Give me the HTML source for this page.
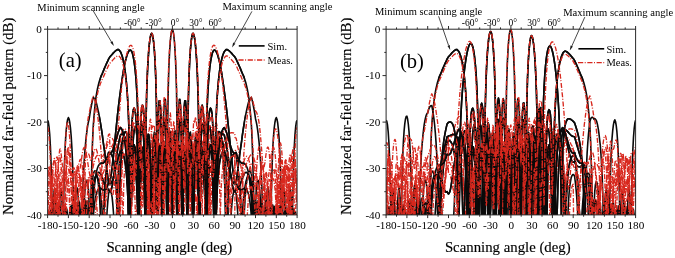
<!DOCTYPE html>
<html><head><meta charset="utf-8"><style>
html,body{margin:0;padding:0;background:#fff;}
body{width:675px;height:258px;overflow:hidden;}
svg{display:block;font-family:"Liberation Serif", serif;will-change:transform;}
</style></head><body>
<svg width="675" height="258" viewBox="0 0 675 258">
<clipPath id="clipa"><rect x="47.6" y="28.2" width="249.5" height="186.7"/></clipPath>
<g clip-path="url(#clipa)" fill="none" stroke-linejoin="round">
<clipPath id="clipaf"><rect x="99.6" y="28.2" width="145.5" height="186.7"/></clipPath>
<path d="M47.6 120.2L48.3 121.9L49.0 126.5L49.7 134.3L50.4 146.2L51.1 164.3L51.8 194.8L52.5 221.9L53.1 212.1L53.8 192.8L54.5 188.7L55.2 193.8L55.9 208.8L56.6 221.9L57.3 221.9L58.0 221.9L58.7 208.2L59.4 203.0L60.1 205.4L60.8 216.2L61.5 221.9L62.2 221.9L62.8 221.9L63.5 217.3L64.2 207.4L64.9 205.2L65.6 209.4L66.3 221.6L67.0 221.9L67.7 221.9L68.4 221.9L69.1 218.9L69.8 209.2L70.5 206.4L71.2 209.3L71.9 218.3L72.6 221.9L73.2 221.9L73.9 221.9L74.6 221.9L75.3 219.6L76.0 211.8L76.7 209.2L77.4 210.9L78.1 217.0L78.8 221.9L79.5 221.9L80.2 221.9L80.9 221.9L81.6 221.9L82.3 221.9L82.9 214.3L83.6 209.0L84.3 206.3L85.0 206.3L85.7 208.9L86.4 214.6L87.1 221.9L87.8 221.9L88.5 221.9L89.2 221.9L89.9 221.9L90.6 221.9L91.3 208.0L92.0 197.5L92.6 189.6L93.3 183.5L94.0 180.0L94.7 177.7L95.4 176.5L96.1 176.2L96.8 176.5L97.5 177.6L98.2 179.5L98.9 182.3L99.6 186.0L100.3 190.8L101.0 196.8L101.7 204.6L102.4 214.8L103.0 221.9L103.7 221.9L104.4 221.9L105.1 221.9L105.8 221.9L106.5 221.9L107.2 209.6L107.9 200.4L108.6 193.4L109.3 191.5L110.0 190.9L110.7 191.5L111.4 193.5L112.1 197.1L112.7 202.9L113.4 211.8L114.1 221.9L114.8 221.9L115.5 221.9L116.2 221.9L116.9 206.1L117.6 189.0L118.3 176.1L119.0 166.1L119.7 157.7L120.4 150.7L121.1 146.0L121.8 142.4L122.5 139.6L123.1 137.6L123.8 136.5L124.5 136.3L125.2 137.1L125.9 138.9L126.6 142.1L127.3 146.8L128.0 153.7L128.7 163.8L129.4 179.5L130.1 208.6L130.8 221.9L131.5 201.5L132.2 176.4L132.8 162.6L133.5 154.1L134.2 149.2L134.9 147.2L135.6 147.9L136.3 151.7L137.0 159.4L137.7 173.3L138.4 201.3L139.1 221.9L139.8 193.2L140.5 168.6L141.2 155.8L141.9 149.1L142.5 147.0L143.2 149.2L143.9 156.6L144.6 172.5L145.3 210.4L146.0 221.4L146.7 173.1L147.4 153.8L148.1 144.2L148.8 140.7L149.5 142.7L150.2 151.4L150.9 172.1L151.6 221.9L152.3 180.6L152.9 151.0L153.6 137.5L154.3 132.0L155.0 133.1L155.7 141.8L156.4 164.4L157.1 221.9L157.8 161.8L158.5 135.3L159.2 123.1L159.9 119.2L160.6 122.7L161.3 136.6L162.0 180.3L162.6 165.6L163.3 124.6L164.0 107.0L164.7 99.3L165.4 99.3L166.1 109.5L166.8 145.9L167.5 138.7L168.2 90.2L168.9 66.6L169.6 51.6L170.3 41.4L171.0 34.7L171.7 30.8L172.4 29.5L173.0 30.8L173.7 34.7L174.4 41.4L175.1 51.6L175.8 66.6L176.5 90.2L177.2 138.7L177.9 145.9L178.6 109.5L179.3 99.3L180.0 99.3L180.7 107.0L181.4 124.6L182.1 165.6L182.7 180.3L183.4 136.6L184.1 122.7L184.8 119.2L185.5 123.1L186.2 135.3L186.9 161.8L187.6 221.9L188.3 164.4L189.0 141.8L189.7 133.1L190.4 132.0L191.1 137.5L191.8 151.0L192.4 180.6L193.1 221.9L193.8 172.1L194.5 151.4L195.2 142.7L195.9 140.7L196.6 144.2L197.3 153.8L198.0 173.1L198.7 221.4L199.4 210.4L200.1 172.5L200.8 156.6L201.5 149.2L202.2 147.0L202.8 149.1L203.5 155.8L204.2 168.6L204.9 193.2L205.6 221.9L206.3 201.3L207.0 173.3L207.7 159.4L208.4 151.7L209.1 147.9L209.8 147.2L210.5 149.2L211.2 154.1L211.9 162.6L212.5 176.4L213.2 201.5L213.9 221.9L214.6 208.6L215.3 179.5L216.0 163.8L216.7 153.7L217.4 146.8L218.1 142.1L218.8 138.9L219.5 137.1L220.2 136.3L220.9 136.5L221.6 137.6L222.2 139.6L222.9 142.4L223.6 146.0L224.3 150.7L225.0 157.7L225.7 166.1L226.4 176.1L227.1 189.0L227.8 206.1L228.5 221.9L229.2 221.9L229.9 221.9L230.6 221.9L231.3 211.8L232.0 202.9L232.6 197.1L233.3 193.5L234.0 191.5L234.7 190.9L235.4 191.5L236.1 193.4L236.8 200.4L237.5 209.6L238.2 221.9L238.9 221.9L239.6 221.9L240.3 221.9L241.0 221.9L241.7 221.9L242.3 214.8L243.0 204.6L243.7 196.8L244.4 190.8L245.1 186.0L245.8 182.3L246.5 179.5L247.2 177.6L247.9 176.5L248.6 176.2L249.3 176.5L250.0 177.7L250.7 180.0L251.4 183.5L252.1 189.6L252.7 197.5L253.4 208.0L254.1 221.9L254.8 221.9L255.5 221.9L256.2 221.9L256.9 221.9L257.6 221.9L258.3 214.6L259.0 208.9L259.7 206.3L260.4 206.3L261.1 209.0L261.8 214.3L262.4 221.9L263.1 221.9L263.8 221.9L264.5 221.9L265.2 221.9L265.9 221.9L266.6 217.0L267.3 210.9L268.0 209.2L268.7 211.8L269.4 219.6L270.1 221.9L270.8 221.9L271.5 221.9L272.2 221.9L272.8 218.3L273.5 209.3L274.2 206.4L274.9 209.2L275.6 218.9L276.3 221.9L277.0 221.9L277.7 221.9L278.4 221.6L279.1 209.4L279.8 205.2L280.5 207.4L281.2 217.3L281.9 221.9L282.5 221.9L283.2 221.9L283.9 216.2L284.6 205.4L285.3 203.0L286.0 208.2L286.7 221.9L287.4 221.9L288.1 221.9L288.8 208.8L289.5 193.8L290.2 188.7L290.9 192.8L291.6 212.1L292.2 221.9L292.9 194.8L293.6 164.3L294.3 146.2L295.0 134.3L295.7 126.5L296.4 121.9L297.1 120.2" stroke="#0a0a0a" stroke-width="1.6"/>
<path d="M47.6 221.9L48.3 221.9L49.0 212.8L49.7 212.1L50.4 219.6L51.1 221.9L51.8 221.9L52.5 221.9L53.1 221.9L53.8 216.8L54.5 214.1L55.2 219.0L55.9 221.9L56.6 221.9L57.3 221.9L58.0 221.9L58.7 221.9L59.4 215.1L60.1 215.4L60.8 221.9L61.5 221.9L62.2 221.9L62.8 221.9L63.5 221.9L64.2 218.1L64.9 212.4L65.6 213.0L66.3 220.0L67.0 221.9L67.7 221.9L68.4 221.9L69.1 221.9L69.8 220.0L70.5 212.5L71.2 210.9L71.9 214.5L72.6 221.9L73.2 221.9L73.9 221.9L74.6 221.9L75.3 221.9L76.0 221.9L76.7 214.9L77.4 211.8L78.1 212.8L78.8 217.7L79.5 221.9L80.2 221.9L80.9 221.9L81.6 221.9L82.3 221.9L82.9 221.9L83.6 218.4L84.3 210.9L85.0 206.7L85.7 205.0L86.4 205.8L87.1 209.0L87.8 215.3L88.5 221.9L89.2 221.9L89.9 221.9L90.6 221.9L91.3 221.9L92.0 217.6L92.6 203.4L93.3 193.1L94.0 186.6L94.7 181.9L95.4 178.4L96.1 176.1L96.8 174.2L97.5 173.0L98.2 172.4L98.9 172.3L99.6 172.8L100.3 173.6L101.0 174.9L101.7 176.5L102.4 178.3L103.0 180.5L103.7 182.1L104.4 183.9L105.1 185.6L105.8 187.3L106.5 188.7L107.2 189.6L107.9 189.9L108.6 189.2L109.3 191.0L110.0 191.6L110.7 191.0L111.4 189.2L112.1 186.3L112.7 182.6L113.4 178.2L114.1 173.5L114.8 168.6L115.5 163.6L116.2 158.7L116.9 153.9L117.6 149.5L118.3 145.3L119.0 141.5L119.7 138.2L120.4 135.2L121.1 134.4L121.8 133.9L122.5 134.0L123.1 134.7L123.8 136.0L124.5 138.2L125.2 141.3L125.9 145.7L126.6 151.8L127.3 160.1L128.0 172.0L128.7 190.9L129.4 221.9L130.1 221.9L130.8 196.3L131.5 176.0L132.2 164.0L132.8 156.5L133.5 152.0L134.2 150.1L134.9 150.6L135.6 153.8L136.3 160.1L137.0 171.1L137.7 190.8L138.4 221.9L139.1 221.9L139.8 186.2L140.5 169.0L141.2 159.7L141.9 155.3L142.5 155.0L143.2 159.0L143.9 168.3L144.6 187.0L145.3 221.9L146.0 219.0L146.7 180.7L147.4 164.1L148.1 156.1L148.8 153.8L149.5 157.0L150.2 166.8L150.9 189.0L151.6 221.9L152.3 196.9L152.9 168.9L153.6 156.4L154.3 151.8L155.0 153.6L155.7 162.8L156.4 184.9L157.1 221.9L157.8 191.4L158.5 164.1L159.2 152.4L159.9 149.1L160.6 153.0L161.3 166.2L162.0 201.1L162.6 221.9L163.3 170.5L164.0 152.5L164.7 145.5L165.4 146.5L166.1 156.1L166.8 181.8L167.5 221.9L168.2 172.3L168.9 149.6L169.6 140.4L170.3 139.6L171.0 147.3L171.7 169.3L172.4 221.9L173.0 169.7L173.7 143.8L174.4 133.1L175.1 131.0L175.8 137.2L176.5 156.1L177.2 221.9L177.9 166.4L178.6 136.2L179.3 123.3L180.0 119.3L180.7 123.2L181.4 138.0L182.1 185.4L182.7 163.5L183.4 124.9L184.1 108.2L184.8 100.8L185.5 100.7L186.2 109.6L186.9 138.0L187.6 164.8L188.3 102.3L189.0 76.5L189.7 60.5L190.4 49.5L191.1 41.9L191.8 36.9L192.4 34.1L193.1 33.3L193.8 34.6L194.5 37.7L195.2 42.7L195.9 49.9L196.6 59.8L197.3 73.1L198.0 92.1L198.7 123.0L199.4 221.9L200.1 137.2L200.8 115.3L201.5 107.0L202.2 105.2L202.8 108.0L203.5 115.1L204.2 127.4L204.9 148.5L205.6 196.8L206.3 191.4L207.0 153.0L207.7 137.5L208.4 129.7L209.1 126.6L209.8 126.7L210.5 129.9L211.2 136.1L211.9 146.2L212.5 162.4L213.2 192.5L213.9 221.9L214.6 186.5L215.3 162.4L216.0 149.3L216.7 141.1L217.4 136.0L218.1 133.0L218.8 131.6L219.5 131.7L220.2 133.0L220.9 135.6L221.6 139.4L222.2 144.6L222.9 151.5L223.6 160.6L224.3 173.2L225.0 190.7L225.7 219.6L226.4 221.9L227.1 221.9L227.8 198.1L228.5 183.9L229.2 174.7L229.9 168.2L230.6 163.5L231.3 160.0L232.0 157.5L232.6 155.7L233.3 154.4L234.0 153.7L234.7 153.5L235.4 153.7L236.1 154.3L236.8 159.0L237.5 164.3L238.2 170.4L238.9 177.6L239.6 186.3L240.3 197.2L241.0 211.8L241.7 221.9L242.3 221.9L243.0 221.9L243.7 221.9L244.4 210.4L245.1 198.1L245.8 189.3L246.5 182.7L247.2 177.8L247.9 174.3L248.6 172.0L249.3 171.0L250.0 170.9L250.7 172.0L251.4 174.2L252.1 179.4L252.7 186.0L253.4 194.3L254.1 205.3L254.8 220.6L255.5 221.9L256.2 221.9L256.9 221.9L257.6 221.9L258.3 214.2L259.0 205.3L259.7 200.4L260.4 198.7L261.1 199.8L261.8 203.4L262.4 211.5L263.1 221.9L263.8 221.9L264.5 221.9L265.2 221.9L265.9 208.3L266.6 195.7L267.3 189.0L268.0 187.2L268.7 190.7L269.4 202.8L270.1 221.9L270.8 221.9L271.5 187.9L272.2 163.7L272.8 147.8L273.5 136.4L274.2 128.2L274.9 122.5L275.6 119.0L276.3 117.5L277.0 119.2L277.7 123.0L278.4 129.3L279.1 138.6L279.8 152.1L280.5 172.3L281.2 208.4L281.9 221.9L282.5 206.8L283.2 191.6L283.9 188.9L284.6 194.4L285.3 209.4L286.0 221.9L286.7 221.9L287.4 221.9L288.1 209.5L288.8 204.0L289.5 206.7L290.2 218.2L290.9 221.9L291.6 221.9L292.2 221.9L292.9 216.7L293.6 209.1L294.3 209.8L295.0 218.9L295.7 221.9L296.4 221.9L297.1 221.9" stroke="#0a0a0a" stroke-width="1.6"/>
<path d="M47.6 221.9L48.3 221.9L49.0 221.9L49.7 218.9L50.4 209.8L51.1 209.1L51.8 216.7L52.5 221.9L53.1 221.9L53.8 221.9L54.5 218.2L55.2 206.7L55.9 204.0L56.6 209.5L57.3 221.9L58.0 221.9L58.7 221.9L59.4 209.4L60.1 194.4L60.8 188.9L61.5 191.6L62.2 206.8L62.8 221.9L63.5 208.4L64.2 172.3L64.9 152.1L65.6 138.6L66.3 129.3L67.0 123.0L67.7 119.2L68.4 117.5L69.1 119.0L69.8 122.5L70.5 128.2L71.2 136.4L71.9 147.8L72.6 163.7L73.2 187.9L73.9 221.9L74.6 221.9L75.3 202.8L76.0 190.7L76.7 187.2L77.4 189.0L78.1 195.7L78.8 208.3L79.5 221.9L80.2 221.9L80.9 221.9L81.6 221.9L82.3 211.5L82.9 203.4L83.6 199.8L84.3 198.7L85.0 200.4L85.7 205.3L86.4 214.2L87.1 221.9L87.8 221.9L88.5 221.9L89.2 221.9L89.9 220.6L90.6 205.3L91.3 194.3L92.0 186.0L92.6 179.4L93.3 174.2L94.0 172.0L94.7 170.9L95.4 171.0L96.1 172.0L96.8 174.3L97.5 177.8L98.2 182.7L98.9 189.3L99.6 198.1L100.3 210.4L101.0 221.9L101.7 221.9L102.4 221.9L103.0 221.9L103.7 211.8L104.4 197.2L105.1 186.3L105.8 177.6L106.5 170.4L107.2 164.3L107.9 159.0L108.6 154.3L109.3 153.7L110.0 153.5L110.7 153.7L111.4 154.4L112.1 155.7L112.7 157.5L113.4 160.0L114.1 163.5L114.8 168.2L115.5 174.7L116.2 183.9L116.9 198.1L117.6 221.9L118.3 221.9L119.0 219.6L119.7 190.7L120.4 173.2L121.1 160.6L121.8 151.5L122.5 144.6L123.1 139.4L123.8 135.6L124.5 133.0L125.2 131.7L125.9 131.6L126.6 133.0L127.3 136.0L128.0 141.1L128.7 149.3L129.4 162.4L130.1 186.5L130.8 221.9L131.5 192.5L132.2 162.4L132.8 146.2L133.5 136.1L134.2 129.9L134.9 126.7L135.6 126.6L136.3 129.7L137.0 137.5L137.7 153.0L138.4 191.4L139.1 196.8L139.8 148.5L140.5 127.4L141.2 115.1L141.9 108.0L142.5 105.2L143.2 107.0L143.9 115.3L144.6 137.2L145.3 221.9L146.0 123.0L146.7 92.1L147.4 73.1L148.1 59.8L148.8 49.9L149.5 42.7L150.2 37.7L150.9 34.6L151.6 33.3L152.3 34.1L152.9 36.9L153.6 41.9L154.3 49.5L155.0 60.5L155.7 76.5L156.4 102.3L157.1 164.8L157.8 138.0L158.5 109.6L159.2 100.7L159.9 100.8L160.6 108.2L161.3 124.9L162.0 163.5L162.6 185.4L163.3 138.0L164.0 123.2L164.7 119.3L165.4 123.3L166.1 136.2L166.8 166.4L167.5 221.9L168.2 156.1L168.9 137.2L169.6 131.0L170.3 133.1L171.0 143.8L171.7 169.7L172.4 221.9L173.0 169.3L173.7 147.3L174.4 139.6L175.1 140.4L175.8 149.6L176.5 172.3L177.2 221.9L177.9 181.8L178.6 156.1L179.3 146.5L180.0 145.5L180.7 152.5L181.4 170.5L182.1 221.9L182.7 201.1L183.4 166.2L184.1 153.0L184.8 149.1L185.5 152.4L186.2 164.1L186.9 191.4L187.6 221.9L188.3 184.9L189.0 162.8L189.7 153.6L190.4 151.8L191.1 156.4L191.8 168.9L192.4 196.9L193.1 221.9L193.8 189.0L194.5 166.8L195.2 157.0L195.9 153.8L196.6 156.1L197.3 164.1L198.0 180.7L198.7 219.0L199.4 221.9L200.1 187.0L200.8 168.3L201.5 159.0L202.2 155.0L202.8 155.3L203.5 159.7L204.2 169.0L204.9 186.2L205.6 221.9L206.3 221.9L207.0 190.8L207.7 171.1L208.4 160.1L209.1 153.8L209.8 150.6L210.5 150.1L211.2 152.0L211.9 156.5L212.5 164.0L213.2 176.0L213.9 196.3L214.6 221.9L215.3 221.9L216.0 190.9L216.7 172.0L217.4 160.1L218.1 151.8L218.8 145.7L219.5 141.3L220.2 138.2L220.9 136.0L221.6 134.7L222.2 134.0L222.9 133.9L223.6 134.4L224.3 135.2L225.0 138.2L225.7 141.5L226.4 145.3L227.1 149.5L227.8 153.9L228.5 158.7L229.2 163.6L229.9 168.6L230.6 173.5L231.3 178.2L232.0 182.6L232.6 186.3L233.3 189.2L234.0 191.0L234.7 191.6L235.4 191.0L236.1 189.2L236.8 189.9L237.5 189.6L238.2 188.7L238.9 187.3L239.6 185.6L240.3 183.9L241.0 182.1L241.7 180.5L242.3 178.3L243.0 176.5L243.7 174.9L244.4 173.6L245.1 172.8L245.8 172.3L246.5 172.4L247.2 173.0L247.9 174.2L248.6 176.1L249.3 178.4L250.0 181.9L250.7 186.6L251.4 193.1L252.1 203.4L252.7 217.6L253.4 221.9L254.1 221.9L254.8 221.9L255.5 221.9L256.2 221.9L256.9 215.3L257.6 209.0L258.3 205.8L259.0 205.0L259.7 206.7L260.4 210.9L261.1 218.4L261.8 221.9L262.4 221.9L263.1 221.9L263.8 221.9L264.5 221.9L265.2 221.9L265.9 217.7L266.6 212.8L267.3 211.8L268.0 214.9L268.7 221.9L269.4 221.9L270.1 221.9L270.8 221.9L271.5 221.9L272.2 221.9L272.8 214.5L273.5 210.9L274.2 212.5L274.9 220.0L275.6 221.9L276.3 221.9L277.0 221.9L277.7 221.9L278.4 220.0L279.1 213.0L279.8 212.4L280.5 218.1L281.2 221.9L281.9 221.9L282.5 221.9L283.2 221.9L283.9 221.9L284.6 215.4L285.3 215.1L286.0 221.9L286.7 221.9L287.4 221.9L288.1 221.9L288.8 221.9L289.5 219.0L290.2 214.1L290.9 216.8L291.6 221.9L292.2 221.9L292.9 221.9L293.6 221.9L294.3 219.6L295.0 212.1L295.7 212.8L296.4 221.9L297.1 221.9" stroke="#0a0a0a" stroke-width="1.6"/>
<path d="M47.6 221.9L48.3 221.9L49.0 221.9L49.7 221.9L50.4 221.9L51.1 221.9L51.8 221.9L52.5 221.9L53.1 221.9L53.8 221.9L54.5 221.9L55.2 221.9L55.9 221.9L56.6 221.9L57.3 221.9L58.0 221.9L58.7 221.9L59.4 221.9L60.1 221.9L60.8 221.9L61.5 221.9L62.2 221.9L62.8 221.9L63.5 221.9L64.2 221.9L64.9 221.9L65.6 221.9L66.3 221.9L67.0 221.9L67.7 221.9L68.4 221.9L69.1 221.9L69.8 221.9L70.5 221.9L71.2 221.9L71.9 221.9L72.6 221.9L73.2 221.9L73.9 221.9L74.6 221.9L75.3 221.9L76.0 221.9L76.7 221.9L77.4 221.9L78.1 221.9L78.8 221.9L79.5 221.9L80.2 221.9L80.9 221.9L81.6 221.9L82.3 221.9L82.9 221.9L83.6 221.9L84.3 221.9L85.0 221.9L85.7 221.9L86.4 221.9L87.1 221.9L87.8 221.9L88.5 221.9L89.2 221.9L89.9 221.9L90.6 221.9L91.3 221.9L92.0 221.9L92.6 221.9L93.3 216.9L94.0 208.6L94.7 202.5L95.4 198.0L96.1 194.7L96.8 192.3L97.5 190.5L98.2 189.3L98.9 188.6L99.6 188.2L100.3 188.2L101.0 188.4L101.7 188.9L102.4 189.4L103.0 190.0L103.7 190.0L104.4 189.8L105.1 189.5L105.8 188.9L106.5 187.9L107.2 186.6L107.9 184.8L108.6 182.4L109.3 183.3L110.0 183.8L110.7 183.6L111.4 182.8L112.1 181.5L112.7 179.7L113.4 177.5L114.1 174.9L114.8 172.1L115.5 169.2L116.2 166.2L116.9 163.1L117.6 160.2L118.3 157.4L119.0 155.0L119.7 152.9L120.4 151.1L121.1 151.3L121.8 151.7L122.5 152.7L123.1 154.1L123.8 156.3L124.5 159.2L125.2 163.2L125.9 168.6L126.6 175.9L127.3 186.0L128.0 201.2L128.7 221.9L129.4 221.9L130.1 221.9L130.8 202.2L131.5 187.0L132.2 177.5L132.8 171.3L133.5 167.8L134.2 166.7L134.9 167.8L135.6 171.5L136.3 178.6L137.0 190.6L137.7 212.3L138.4 221.9L139.1 221.9L139.8 200.2L140.5 184.4L141.2 175.8L141.9 171.9L142.5 172.0L143.2 176.2L143.9 185.7L144.6 204.6L145.3 221.9L146.0 221.9L146.7 198.2L147.4 181.9L148.1 174.1L148.8 172.1L149.5 175.4L150.2 185.5L150.9 207.6L151.6 221.9L152.3 217.1L152.9 188.9L153.6 176.5L154.3 172.1L155.0 174.0L155.7 183.2L156.4 204.9L157.1 221.9L157.8 215.0L158.5 187.0L159.2 175.2L159.9 171.9L160.6 175.7L161.3 188.6L162.0 221.2L162.6 221.9L163.3 197.3L164.0 178.7L164.7 171.5L165.4 172.3L166.1 181.5L166.8 205.2L167.5 221.9L168.2 204.6L168.9 180.3L169.6 170.6L170.3 169.5L171.0 176.7L171.7 196.6L172.4 221.9L173.0 209.1L173.7 180.3L174.4 168.8L175.1 166.3L175.8 171.9L176.5 188.8L177.2 221.9L177.9 216.0L178.6 180.7L179.3 166.8L180.0 162.5L180.7 165.9L181.4 178.9L182.1 213.2L182.7 221.9L183.4 183.7L184.1 165.5L184.8 158.1L185.5 158.3L186.2 166.2L186.9 186.6L187.6 221.9L188.3 197.0L189.0 167.6L189.7 154.8L190.4 150.0L191.1 151.9L191.8 161.2L192.4 184.0L193.1 221.9L193.8 185.3L194.5 158.4L195.2 145.7L195.9 140.4L196.6 140.8L197.3 147.2L198.0 162.8L198.7 204.1L199.4 202.0L200.1 157.9L200.8 139.1L201.5 128.9L202.2 124.2L202.8 124.2L203.5 129.3L204.2 142.6L204.9 177.6L205.6 187.0L206.3 134.3L207.0 110.3L207.7 94.6L208.4 83.1L209.1 74.3L209.8 67.5L210.5 62.2L211.2 58.0L211.9 54.9L212.5 52.6L213.2 51.1L213.9 50.3L214.6 50.1L215.3 50.4L216.0 51.3L216.7 52.6L217.4 54.3L218.1 56.5L218.8 59.0L219.5 61.9L220.2 65.2L220.9 68.7L221.6 72.6L222.2 76.8L222.9 81.4L223.6 86.2L224.3 91.4L225.0 96.7L225.7 102.1L226.4 107.8L227.1 114.2L227.8 120.8L228.5 127.6L229.2 134.5L229.9 141.5L230.6 148.5L231.3 155.3L232.0 161.9L232.6 168.0L233.3 173.4L234.0 177.7L234.7 180.6L235.4 182.9L236.1 183.5L236.8 177.8L237.5 172.0L238.2 166.3L238.9 160.7L239.6 155.3L240.3 150.2L241.0 145.3L241.7 140.6L242.3 135.6L243.0 130.9L243.7 126.5L244.4 122.2L245.1 118.2L245.8 114.4L246.5 110.9L247.2 107.7L247.9 104.7L248.6 102.0L249.3 100.4L250.0 99.1L250.7 98.1L251.4 97.4L252.1 99.9L252.7 102.7L253.4 106.0L254.1 109.7L254.8 113.9L255.5 118.7L256.2 121.6L256.9 125.2L257.6 129.7L258.3 135.1L259.0 141.7L259.7 149.7L260.4 159.5L261.1 171.7L261.8 185.6L262.4 205.5L263.1 221.9L263.8 221.9L264.5 221.9L265.2 216.8L265.9 209.5L266.6 208.0L267.3 211.4L268.0 220.4L268.7 221.9L269.4 221.9L270.1 221.9L270.8 221.9L271.5 221.9L272.2 219.0L272.8 217.7L273.5 221.9L274.2 221.9L274.9 221.9L275.6 221.9L276.3 221.9L277.0 221.9L277.7 221.9L278.4 221.9L279.1 221.9L279.8 221.9L280.5 221.9L281.2 221.9L281.9 221.9L282.5 221.9L283.2 221.9L283.9 221.9L284.6 221.9L285.3 221.9L286.0 221.9L286.7 221.9L287.4 221.9L288.1 221.9L288.8 221.9L289.5 221.9L290.2 221.9L290.9 221.9L291.6 221.9L292.2 221.9L292.9 221.9L293.6 221.9L294.3 221.9L295.0 221.9L295.7 221.9L296.4 221.9L297.1 221.9" stroke="#0a0a0a" stroke-width="1.6"/>
<path d="M47.6 221.9L48.3 221.9L49.0 221.9L49.7 221.9L50.4 221.9L51.1 221.9L51.8 221.9L52.5 221.9L53.1 221.9L53.8 221.9L54.5 221.9L55.2 221.9L55.9 221.9L56.6 221.9L57.3 221.9L58.0 221.9L58.7 221.9L59.4 221.9L60.1 221.9L60.8 221.9L61.5 221.9L62.2 221.9L62.8 221.9L63.5 221.9L64.2 221.9L64.9 221.9L65.6 221.9L66.3 221.9L67.0 221.9L67.7 221.9L68.4 221.9L69.1 221.9L69.8 221.9L70.5 221.9L71.2 221.9L71.9 217.7L72.6 219.0L73.2 221.9L73.9 221.9L74.6 221.9L75.3 221.9L76.0 221.9L76.7 220.4L77.4 211.4L78.1 208.0L78.8 209.5L79.5 216.8L80.2 221.9L80.9 221.9L81.6 221.9L82.3 205.5L82.9 185.6L83.6 171.7L84.3 159.5L85.0 149.7L85.7 141.7L86.4 135.1L87.1 129.7L87.8 125.2L88.5 121.6L89.2 118.7L89.9 113.9L90.6 109.7L91.3 106.0L92.0 102.7L92.6 99.9L93.3 97.4L94.0 98.1L94.7 99.1L95.4 100.4L96.1 102.0L96.8 104.7L97.5 107.7L98.2 110.9L98.9 114.4L99.6 118.2L100.3 122.2L101.0 126.5L101.7 130.9L102.4 135.6L103.0 140.6L103.7 145.3L104.4 150.2L105.1 155.3L105.8 160.7L106.5 166.3L107.2 172.0L107.9 177.8L108.6 183.5L109.3 182.9L110.0 180.6L110.7 177.7L111.4 173.4L112.1 168.0L112.7 161.9L113.4 155.3L114.1 148.5L114.8 141.5L115.5 134.5L116.2 127.6L116.9 120.8L117.6 114.2L118.3 107.8L119.0 102.1L119.7 96.7L120.4 91.4L121.1 86.2L121.8 81.4L122.5 76.8L123.1 72.6L123.8 68.7L124.5 65.2L125.2 61.9L125.9 59.0L126.6 56.5L127.3 54.3L128.0 52.6L128.7 51.3L129.4 50.4L130.1 50.1L130.8 50.3L131.5 51.1L132.2 52.6L132.8 54.9L133.5 58.0L134.2 62.2L134.9 67.5L135.6 74.3L136.3 83.1L137.0 94.6L137.7 110.3L138.4 134.3L139.1 187.0L139.8 177.6L140.5 142.6L141.2 129.3L141.9 124.2L142.5 124.2L143.2 128.9L143.9 139.1L144.6 157.9L145.3 202.0L146.0 204.1L146.7 162.8L147.4 147.2L148.1 140.8L148.8 140.4L149.5 145.7L150.2 158.4L150.9 185.3L151.6 221.9L152.3 184.0L152.9 161.2L153.6 151.9L154.3 150.0L155.0 154.8L155.7 167.6L156.4 197.0L157.1 221.9L157.8 186.6L158.5 166.2L159.2 158.3L159.9 158.1L160.6 165.5L161.3 183.7L162.0 221.9L162.6 213.2L163.3 178.9L164.0 165.9L164.7 162.5L165.4 166.8L166.1 180.7L166.8 216.0L167.5 221.9L168.2 188.8L168.9 171.9L169.6 166.3L170.3 168.8L171.0 180.3L171.7 209.1L172.4 221.9L173.0 196.6L173.7 176.7L174.4 169.5L175.1 170.6L175.8 180.3L176.5 204.6L177.2 221.9L177.9 205.2L178.6 181.5L179.3 172.3L180.0 171.5L180.7 178.7L181.4 197.3L182.1 221.9L182.7 221.2L183.4 188.6L184.1 175.7L184.8 171.9L185.5 175.2L186.2 187.0L186.9 215.0L187.6 221.9L188.3 204.9L189.0 183.2L189.7 174.0L190.4 172.1L191.1 176.5L191.8 188.9L192.4 217.1L193.1 221.9L193.8 207.6L194.5 185.5L195.2 175.4L195.9 172.1L196.6 174.1L197.3 181.9L198.0 198.2L198.7 221.9L199.4 221.9L200.1 204.6L200.8 185.7L201.5 176.2L202.2 172.0L202.8 171.9L203.5 175.8L204.2 184.4L204.9 200.2L205.6 221.9L206.3 221.9L207.0 212.3L207.7 190.6L208.4 178.6L209.1 171.5L209.8 167.8L210.5 166.7L211.2 167.8L211.9 171.3L212.5 177.5L213.2 187.0L213.9 202.2L214.6 221.9L215.3 221.9L216.0 221.9L216.7 201.2L217.4 186.0L218.1 175.9L218.8 168.6L219.5 163.2L220.2 159.2L220.9 156.3L221.6 154.1L222.2 152.7L222.9 151.7L223.6 151.3L224.3 151.1L225.0 152.9L225.7 155.0L226.4 157.4L227.1 160.2L227.8 163.1L228.5 166.2L229.2 169.2L229.9 172.1L230.6 174.9L231.3 177.5L232.0 179.7L232.6 181.5L233.3 182.8L234.0 183.6L234.7 183.8L235.4 183.3L236.1 182.4L236.8 184.8L237.5 186.6L238.2 187.9L238.9 188.9L239.6 189.5L240.3 189.8L241.0 190.0L241.7 190.0L242.3 189.4L243.0 188.9L243.7 188.4L244.4 188.2L245.1 188.2L245.8 188.6L246.5 189.3L247.2 190.5L247.9 192.3L248.6 194.7L249.3 198.0L250.0 202.5L250.7 208.6L251.4 216.9L252.1 221.9L252.7 221.9L253.4 221.9L254.1 221.9L254.8 221.9L255.5 221.9L256.2 221.9L256.9 221.9L257.6 221.9L258.3 221.9L259.0 221.9L259.7 221.9L260.4 221.9L261.1 221.9L261.8 221.9L262.4 221.9L263.1 221.9L263.8 221.9L264.5 221.9L265.2 221.9L265.9 221.9L266.6 221.9L267.3 221.9L268.0 221.9L268.7 221.9L269.4 221.9L270.1 221.9L270.8 221.9L271.5 221.9L272.2 221.9L272.8 221.9L273.5 221.9L274.2 221.9L274.9 221.9L275.6 221.9L276.3 221.9L277.0 221.9L277.7 221.9L278.4 221.9L279.1 221.9L279.8 221.9L280.5 221.9L281.2 221.9L281.9 221.9L282.5 221.9L283.2 221.9L283.9 221.9L284.6 221.9L285.3 221.9L286.0 221.9L286.7 221.9L287.4 221.9L288.1 221.9L288.8 221.9L289.5 221.9L290.2 221.9L290.9 221.9L291.6 221.9L292.2 221.9L292.9 221.9L293.6 221.9L294.3 221.9L295.0 221.9L295.7 221.9L296.4 221.9L297.1 221.9" stroke="#0a0a0a" stroke-width="1.6"/>
<path d="M47.6 221.9L48.3 221.9L49.0 221.2L49.7 215.4L50.4 217.3L51.1 221.9L51.8 221.9L52.5 221.9L53.1 221.9L53.8 221.9L54.5 217.5L55.2 216.2L55.9 221.9L56.6 221.9L57.3 221.9L58.0 221.9L58.7 221.9L59.4 221.5L60.1 215.3L60.8 216.1L61.5 221.9L62.2 221.9L62.8 221.9L63.5 221.9L64.2 221.9L64.9 217.6L65.6 212.1L66.3 212.8L67.0 219.9L67.7 221.9L68.4 221.9L69.1 221.9L69.8 221.9L70.5 220.0L71.2 212.4L71.9 210.5L72.6 213.5L73.2 221.9L73.9 221.9L74.6 221.9L75.3 221.9L76.0 221.9L76.7 221.9L77.4 215.3L78.1 211.3L78.8 211.2L79.5 214.6L80.2 221.9L80.9 221.9L81.6 221.9L82.3 221.9L82.9 221.9L83.6 221.9L84.3 219.9L85.0 210.5L85.7 204.7L86.4 201.7L87.1 201.0L87.8 202.7L88.5 206.9L89.2 214.2L89.9 221.9L90.6 221.9L91.3 221.9L92.0 221.9L92.6 218.5L93.3 200.7L94.0 190.6L94.7 183.1L95.4 177.6L96.1 173.5L96.8 170.4L97.5 168.0L98.2 166.2L98.9 165.0L99.6 164.1L100.3 163.5L101.0 163.2L101.7 163.1L102.4 163.2L103.0 163.2L103.7 162.6L104.4 161.9L105.1 161.1L105.8 160.0L106.5 158.7L107.2 157.0L107.9 154.9L108.6 152.4L109.3 153.0L110.0 153.3L110.7 153.1L111.4 152.5L112.1 151.4L112.7 150.0L113.4 148.2L114.1 146.2L114.8 143.9L115.5 141.5L116.2 139.1L116.9 136.7L117.6 134.3L118.3 132.1L119.0 130.3L119.7 128.8L120.4 127.6L121.1 128.2L121.8 129.3L122.5 130.7L123.1 132.8L123.8 135.6L124.5 139.3L125.2 144.2L125.9 150.8L126.6 159.8L127.3 172.7L128.0 193.5L128.7 221.9L129.4 221.9L130.1 189.2L130.8 170.6L131.5 159.2L132.2 151.8L132.8 147.2L133.5 144.9L134.2 144.9L134.9 147.2L135.6 152.3L136.3 161.2L137.0 176.1L137.7 205.5L138.4 221.9L139.1 196.0L139.8 172.1L140.5 159.6L141.2 153.0L141.9 150.6L142.5 152.0L143.2 157.8L143.9 169.6L144.6 193.2L145.3 221.9L146.0 200.4L146.7 172.3L147.4 159.2L148.1 153.2L148.8 152.7L149.5 157.6L150.2 169.9L150.9 197.6L151.6 221.9L152.3 188.5L152.9 165.9L153.6 155.8L154.3 153.0L155.0 156.5L155.7 167.8L156.4 194.1L157.1 221.9L157.8 188.5L158.5 165.5L159.2 155.8L159.9 154.0L160.6 159.4L161.3 174.6L162.0 215.2L162.6 218.7L163.3 175.4L164.0 159.5L164.7 154.0L165.4 156.1L166.1 167.0L166.8 194.7L167.5 221.9L168.2 183.0L168.9 161.9L169.6 153.8L170.3 153.9L171.0 162.5L171.7 185.1L172.4 221.9L173.0 188.5L173.7 163.1L174.4 153.0L175.1 151.6L175.8 158.2L176.5 176.8L177.2 221.9L177.9 196.5L178.6 164.8L179.3 152.2L180.0 148.7L180.7 152.9L181.4 166.8L182.1 203.9L182.7 217.5L183.4 169.7L184.1 152.5L184.8 145.7L185.5 146.3L186.2 154.6L186.9 175.4L187.6 221.9L188.3 186.5L189.0 157.4L189.7 144.7L190.4 140.1L191.1 142.0L191.8 151.1L192.4 172.4L193.1 221.9L193.8 182.5L194.5 153.4L195.2 140.2L195.9 134.5L196.6 134.4L197.3 139.8L198.0 152.9L198.7 182.3L199.4 221.9L200.1 166.6L200.8 143.9L201.5 132.1L202.2 126.2L202.8 124.7L203.5 127.3L204.2 134.6L204.9 149.2L205.6 181.3L206.3 221.4L207.0 157.9L207.7 135.1L208.4 122.2L209.1 114.3L209.8 109.8L210.5 108.1L211.2 109.1L211.9 112.9L212.5 120.4L213.2 133.7L213.9 160.6L214.6 221.9L215.3 149.8L216.0 122.1L216.7 105.4L217.4 93.6L218.1 84.6L218.8 77.4L219.5 71.6L220.2 66.9L220.9 63.0L221.6 59.8L222.2 57.2L222.9 55.0L223.6 53.2L224.3 51.7L225.0 50.7L225.7 50.0L226.4 49.5L227.1 49.6L227.8 49.9L228.5 50.4L229.2 50.9L229.9 51.5L230.6 52.2L231.3 52.9L232.0 53.7L232.6 54.5L233.3 55.2L234.0 56.0L234.7 56.8L235.4 57.9L236.1 59.0L236.8 60.6L237.5 62.1L238.2 63.6L238.9 65.2L239.6 66.8L240.3 68.4L241.0 70.1L241.7 71.9L242.3 73.3L243.0 74.8L243.7 76.4L244.4 78.3L245.1 80.4L245.8 82.8L246.5 85.6L247.2 88.7L247.9 92.3L248.6 96.4L249.3 102.1L250.0 108.6L250.7 116.2L251.4 125.3L252.1 139.8L252.7 157.8L253.4 182.8L254.1 221.9L254.8 221.9L255.5 205.6L256.2 190.5L256.9 183.2L257.6 180.2L258.3 180.5L259.0 183.7L259.7 190.0L260.4 200.1L261.1 216.2L261.8 221.9L262.4 221.9L263.1 221.9L263.8 221.9L264.5 209.5L265.2 202.9L265.9 200.9L266.6 202.8L267.3 209.1L268.0 221.8L268.7 221.9L269.4 221.9L270.1 221.9L270.8 221.9L271.5 210.3L272.2 205.0L272.8 205.1L273.5 210.5L274.2 221.9L274.9 221.9L275.6 221.9L276.3 221.9L277.0 219.6L277.7 210.1L278.4 207.8L279.1 211.8L279.8 221.9L280.5 221.9L281.2 221.9L281.9 221.9L282.5 221.9L283.2 214.5L283.9 212.9L284.6 218.2L285.3 221.9L286.0 221.9L286.7 221.9L287.4 221.9L288.1 221.9L288.8 215.5L289.5 216.1L290.2 221.9L290.9 221.9L291.6 221.9L292.2 221.9L292.9 221.9L293.6 217.8L294.3 214.9L295.0 219.5L295.7 221.9L296.4 221.9L297.1 221.9" stroke="#0a0a0a" stroke-width="1.6"/>
<path d="M47.6 221.9L48.3 221.9L49.0 221.9L49.7 219.5L50.4 214.9L51.1 217.8L51.8 221.9L52.5 221.9L53.1 221.9L53.8 221.9L54.5 221.9L55.2 216.1L55.9 215.5L56.6 221.9L57.3 221.9L58.0 221.9L58.7 221.9L59.4 221.9L60.1 218.2L60.8 212.9L61.5 214.5L62.2 221.9L62.8 221.9L63.5 221.9L64.2 221.9L64.9 221.9L65.6 211.8L66.3 207.8L67.0 210.1L67.7 219.6L68.4 221.9L69.1 221.9L69.8 221.9L70.5 221.9L71.2 210.5L71.9 205.1L72.6 205.0L73.2 210.3L73.9 221.9L74.6 221.9L75.3 221.9L76.0 221.9L76.7 221.8L77.4 209.1L78.1 202.8L78.8 200.9L79.5 202.9L80.2 209.5L80.9 221.9L81.6 221.9L82.3 221.9L82.9 221.9L83.6 216.2L84.3 200.1L85.0 190.0L85.7 183.7L86.4 180.5L87.1 180.2L87.8 183.2L88.5 190.5L89.2 205.6L89.9 221.9L90.6 221.9L91.3 182.8L92.0 157.8L92.6 139.8L93.3 125.3L94.0 116.2L94.7 108.6L95.4 102.1L96.1 96.4L96.8 92.3L97.5 88.7L98.2 85.6L98.9 82.8L99.6 80.4L100.3 78.3L101.0 76.4L101.7 74.8L102.4 73.3L103.0 71.9L103.7 70.1L104.4 68.4L105.1 66.8L105.8 65.2L106.5 63.6L107.2 62.1L107.9 60.6L108.6 59.0L109.3 57.9L110.0 56.8L110.7 56.0L111.4 55.2L112.1 54.5L112.7 53.7L113.4 52.9L114.1 52.2L114.8 51.5L115.5 50.9L116.2 50.4L116.9 49.9L117.6 49.6L118.3 49.5L119.0 50.0L119.7 50.7L120.4 51.7L121.1 53.2L121.8 55.0L122.5 57.2L123.1 59.8L123.8 63.0L124.5 66.9L125.2 71.6L125.9 77.4L126.6 84.6L127.3 93.6L128.0 105.4L128.7 122.1L129.4 149.8L130.1 221.9L130.8 160.6L131.5 133.7L132.2 120.4L132.8 112.9L133.5 109.1L134.2 108.1L134.9 109.8L135.6 114.3L136.3 122.2L137.0 135.1L137.7 157.9L138.4 221.4L139.1 181.3L139.8 149.2L140.5 134.6L141.2 127.3L141.9 124.7L142.5 126.2L143.2 132.1L143.9 143.9L144.6 166.6L145.3 221.9L146.0 182.3L146.7 152.9L147.4 139.8L148.1 134.4L148.8 134.5L149.5 140.2L150.2 153.4L150.9 182.5L151.6 221.9L152.3 172.4L152.9 151.1L153.6 142.0L154.3 140.1L155.0 144.7L155.7 157.4L156.4 186.5L157.1 221.9L157.8 175.4L158.5 154.6L159.2 146.3L159.9 145.7L160.6 152.5L161.3 169.7L162.0 217.5L162.6 203.9L163.3 166.8L164.0 152.9L164.7 148.7L165.4 152.2L166.1 164.8L166.8 196.5L167.5 221.9L168.2 176.8L168.9 158.2L169.6 151.6L170.3 153.0L171.0 163.1L171.7 188.5L172.4 221.9L173.0 185.1L173.7 162.5L174.4 153.9L175.1 153.8L175.8 161.9L176.5 183.0L177.2 221.9L177.9 194.7L178.6 167.0L179.3 156.1L180.0 154.0L180.7 159.5L181.4 175.4L182.1 218.7L182.7 215.2L183.4 174.6L184.1 159.4L184.8 154.0L185.5 155.8L186.2 165.5L186.9 188.5L187.6 221.9L188.3 194.1L189.0 167.8L189.7 156.5L190.4 153.0L191.1 155.8L191.8 165.9L192.4 188.5L193.1 221.9L193.8 197.6L194.5 169.9L195.2 157.6L195.9 152.7L196.6 153.2L197.3 159.2L198.0 172.3L198.7 200.4L199.4 221.9L200.1 193.2L200.8 169.6L201.5 157.8L202.2 152.0L202.8 150.6L203.5 153.0L204.2 159.6L204.9 172.1L205.6 196.0L206.3 221.9L207.0 205.5L207.7 176.1L208.4 161.2L209.1 152.3L209.8 147.2L210.5 144.9L211.2 144.9L211.9 147.2L212.5 151.8L213.2 159.2L213.9 170.6L214.6 189.2L215.3 221.9L216.0 221.9L216.7 193.5L217.4 172.7L218.1 159.8L218.8 150.8L219.5 144.2L220.2 139.3L220.9 135.6L221.6 132.8L222.2 130.7L222.9 129.3L223.6 128.2L224.3 127.6L225.0 128.8L225.7 130.3L226.4 132.1L227.1 134.3L227.8 136.7L228.5 139.1L229.2 141.5L229.9 143.9L230.6 146.2L231.3 148.2L232.0 150.0L232.6 151.4L233.3 152.5L234.0 153.1L234.7 153.3L235.4 153.0L236.1 152.4L236.8 154.9L237.5 157.0L238.2 158.7L238.9 160.0L239.6 161.1L240.3 161.9L241.0 162.6L241.7 163.2L242.3 163.2L243.0 163.1L243.7 163.2L244.4 163.5L245.1 164.1L245.8 165.0L246.5 166.2L247.2 168.0L247.9 170.4L248.6 173.5L249.3 177.6L250.0 183.1L250.7 190.6L251.4 200.7L252.1 218.5L252.7 221.9L253.4 221.9L254.1 221.9L254.8 221.9L255.5 214.2L256.2 206.9L256.9 202.7L257.6 201.0L258.3 201.7L259.0 204.7L259.7 210.5L260.4 219.9L261.1 221.9L261.8 221.9L262.4 221.9L263.1 221.9L263.8 221.9L264.5 221.9L265.2 214.6L265.9 211.2L266.6 211.3L267.3 215.3L268.0 221.9L268.7 221.9L269.4 221.9L270.1 221.9L270.8 221.9L271.5 221.9L272.2 213.5L272.8 210.5L273.5 212.4L274.2 220.0L274.9 221.9L275.6 221.9L276.3 221.9L277.0 221.9L277.7 219.9L278.4 212.8L279.1 212.1L279.8 217.6L280.5 221.9L281.2 221.9L281.9 221.9L282.5 221.9L283.2 221.9L283.9 216.1L284.6 215.3L285.3 221.5L286.0 221.9L286.7 221.9L287.4 221.9L288.1 221.9L288.8 221.9L289.5 216.2L290.2 217.5L290.9 221.9L291.6 221.9L292.2 221.9L292.9 221.9L293.6 221.9L294.3 217.3L295.0 215.4L295.7 221.2L296.4 221.9L297.1 221.9" stroke="#0a0a0a" stroke-width="1.6"/>
<path d="M47.6 127.2L47.9 127.7L48.3 129.4L48.6 131.8L49.0 135.4L49.3 140.0L49.7 145.7L50.0 152.9L50.4 161.9L50.7 172.5L51.1 184.6L51.4 195.9L51.8 204.2L52.1 206.1L52.5 205.0L52.8 202.3L53.1 199.6L53.5 197.4L53.8 195.5L54.2 195.4L54.5 197.4L54.9 200.6L55.2 204.6L55.6 207.6L55.9 208.3L56.3 206.4L56.6 201.6L57.0 196.6L57.3 192.8L57.6 190.9L58.0 192.3L58.3 198.1L58.7 208.0L59.0 216.8L59.4 211.6L59.7 198.4L60.1 187.9L60.4 181.9L60.8 179.6L61.1 180.1L61.5 182.8L61.8 186.5L62.2 190.8L62.5 193.4L62.8 194.1L63.2 192.2L63.5 188.6L63.9 184.5L64.2 180.3L64.6 176.8L64.9 173.6L65.3 171.5L65.6 170.2L66.0 170.3L66.3 171.0L66.7 172.9L67.0 175.1L67.4 177.6L67.7 179.7L68.0 181.8L68.4 184.7L68.7 188.9L69.1 195.2L69.4 202.7L69.8 211.9L70.1 221.9L70.5 221.9L70.8 221.9L71.2 221.9L71.5 221.9L71.9 221.9L72.2 221.9L72.6 221.9L72.9 221.9L73.2 221.9L73.6 221.9L73.9 221.9L74.3 221.9L74.6 217.4L75.0 203.2L75.3 193.0L75.7 185.3L76.0 179.6L76.4 175.7L76.7 173.2L77.1 171.5L77.4 170.9L77.7 170.8L78.1 170.9L78.4 171.1L78.8 171.0L79.1 170.8L79.5 170.1L79.8 169.1L80.2 167.7L80.5 165.8L80.9 163.6L81.2 161.2L81.6 158.8L81.9 156.4L82.3 154.1L82.6 152.1L82.9 150.5L83.3 149.0L83.6 148.1L84.0 147.6L84.3 147.4L84.7 147.8L85.0 148.5L85.4 149.6L85.7 151.0L86.1 152.6L86.4 154.4L86.8 156.4L87.1 158.5L87.5 160.6L87.8 162.8L88.1 165.0L88.5 167.3L88.8 169.4L89.2 171.6L89.5 173.7L89.9 175.6L90.2 177.3L90.6 178.6L90.9 179.4L91.3 180.0L91.6 180.3L92.0 180.4L92.3 180.4L92.6 180.7L93.0 181.2L93.3 181.7L93.7 182.7L94.0 184.0L94.4 185.5L94.7 187.4L95.1 189.7L95.4 192.2L95.8 195.0L96.1 198.3L96.5 202.4L96.8 206.9L97.2 211.5L97.5 216.1L97.8 219.9L98.2 221.9L98.5 221.9L98.9 221.5L99.2 218.4L99.6 214.9L99.9 211.0L100.3 207.1L100.6 203.4L101.0 200.2L101.3 197.1L101.7 194.3L102.0 191.9L102.4 189.7L102.7 187.6L103.0 185.7L103.4 183.5L103.7 181.5L104.1 179.5L104.4 177.7L104.8 176.0L105.1 174.3L105.5 172.7L105.8 171.1L106.2 169.5L106.5 168.0L106.9 166.6L107.2 165.1L107.5 163.6L107.9 162.1L108.2 160.5L108.6 158.9L108.9 159.0L109.3 158.9L109.6 158.8L110.0 147.9L110.3 147.8L110.7 147.5L111.0 147.2L111.4 146.8L111.7 146.4L112.1 145.9L112.4 145.4L112.7 144.8L113.1 144.2L113.4 143.6L113.8 142.9L114.1 142.1L114.5 141.3L114.8 140.5L115.2 139.6L115.5 138.7L115.9 137.7L116.2 136.7L116.6 135.7L116.9 134.7L117.3 133.6L117.6 132.5L117.9 131.4L118.3 130.4L118.6 129.4L119.0 128.6L119.3 128.0L119.7 127.5L120.0 127.2L120.4 127.0L120.7 127.8L121.1 128.6L121.4 129.5L121.8 130.4L122.1 131.2L122.5 132.0L122.8 132.8L123.1 133.6L123.5 134.6L123.8 135.9L124.2 137.3L124.5 139.0L124.9 140.9L125.2 143.1L125.6 145.5L125.9 148.4L126.3 152.4L126.6 157.5L127.0 164.3L127.3 172.6L127.6 181.5L128.0 189.9L128.3 199.8L128.7 215.6L129.0 221.9L129.4 220.2L129.7 187.0L130.1 167.7L130.4 155.1L130.8 146.0L131.1 139.2L131.5 133.8L131.8 130.0L132.2 128.2L132.5 129.1L132.8 133.3L133.2 141.3L133.5 153.0L133.9 168.1L134.2 182.0L134.6 189.9L134.9 196.0L135.3 211.0L135.6 221.9L136.0 221.9L136.3 210.8L136.7 211.6L137.0 210.2L137.4 199.2L137.7 189.8L138.0 184.6L138.4 181.8L138.7 176.7L139.1 166.9L139.4 155.4L139.8 147.2L140.1 143.4L140.5 143.4L140.8 145.3L141.2 147.7L141.5 150.5L141.9 152.2L142.2 151.7L142.5 150.3L142.9 149.9L143.2 151.9L143.6 156.5L143.9 162.4L144.3 165.6L144.6 169.2L145.0 176.8L145.3 183.4L145.7 190.2L146.0 205.3L146.4 208.8L146.7 201.4L147.1 192.7L147.4 187.9L147.7 185.4L148.1 183.7L148.4 195.0L148.8 221.9L149.1 221.9L149.5 196.3L149.8 180.1L150.2 169.6L150.5 158.2L150.9 144.0L151.2 132.8L151.6 127.5L151.9 127.1L152.3 127.5L152.6 126.4L152.9 125.0L153.3 125.3L153.6 126.3L154.0 125.5L154.3 125.1L154.7 130.0L155.0 143.2L155.4 157.5L155.7 152.4L156.1 142.3L156.4 138.7L156.8 139.9L157.1 143.5L157.4 145.9L157.8 139.1L158.1 127.1L158.5 118.2L158.8 116.1L159.2 119.3L159.5 124.7L159.9 128.0L160.2 127.6L160.6 127.0L160.9 132.7L161.3 153.1L161.6 208.4L162.0 159.8L162.3 135.9L162.6 125.0L163.0 116.8L163.3 109.2L163.7 102.9L164.0 98.6L164.4 96.8L164.7 98.0L165.1 101.6L165.4 107.4L165.8 116.1L166.1 130.2L166.5 161.4L166.8 175.0L167.2 131.5L167.5 110.8L167.8 94.2L168.2 80.8L168.5 70.1L168.9 61.6L169.2 54.6L169.6 48.8L169.9 44.0L170.3 39.9L170.6 36.6L171.0 34.0L171.3 32.0L171.7 30.6L172.0 29.8L172.4 29.5L172.7 29.9L173.0 30.9L173.4 32.4L173.7 34.6L174.1 37.3L174.4 40.7L174.8 44.9L175.1 50.0L175.5 56.2L175.8 63.6L176.2 72.5L176.5 83.4L176.9 98.1L177.2 123.4L177.5 177.3L177.9 144.4L178.2 127.4L178.6 116.5L178.9 108.1L179.3 103.4L179.6 101.8L180.0 102.2L180.3 103.6L180.7 105.8L181.0 110.7L181.4 120.9L181.7 139.4L182.1 169.9L182.4 192.5L182.7 173.9L183.1 160.1L183.4 144.5L183.8 131.9L184.1 128.0L184.5 130.4L184.8 132.5L185.2 130.8L185.5 128.0L185.9 126.0L186.2 124.7L186.6 126.0L186.9 132.3L187.3 145.6L187.6 166.4L187.9 206.8L188.3 210.9L188.6 169.9L189.0 156.8L189.3 150.0L189.7 142.4L190.0 137.6L190.4 136.7L190.7 139.6L191.1 148.0L191.4 162.5L191.8 178.2L192.1 188.2L192.4 195.5L192.8 199.4L193.1 193.2L193.5 198.0L193.8 215.4L194.2 178.8L194.5 158.5L194.9 150.3L195.2 148.2L195.6 151.6L195.9 156.1L196.3 155.0L196.6 153.3L197.0 152.5L197.3 148.9L197.6 144.3L198.0 142.8L198.3 146.1L198.7 154.4L199.0 166.1L199.4 177.5L199.7 171.9L200.1 155.7L200.4 147.5L200.8 147.8L201.1 150.4L201.5 152.0L201.8 154.0L202.2 151.4L202.5 144.7L202.8 141.2L203.2 142.1L203.5 145.6L203.9 149.5L204.2 152.2L204.6 152.4L204.9 149.4L205.3 144.6L205.6 140.5L206.0 139.2L206.3 143.8L206.7 157.2L207.0 184.5L207.3 221.9L207.7 221.9L208.0 221.9L208.4 218.6L208.7 204.8L209.1 181.3L209.4 158.6L209.8 143.4L210.1 135.2L210.5 131.5L210.8 130.9L211.2 132.2L211.5 134.7L211.9 137.5L212.2 140.0L212.5 141.7L212.9 142.3L213.2 141.7L213.6 140.4L213.9 138.8L214.3 138.1L214.6 139.1L215.0 142.7L215.3 149.9L215.7 162.0L216.0 181.8L216.4 216.1L216.7 221.9L217.1 199.0L217.4 183.9L217.7 174.6L218.1 168.1L218.4 162.7L218.8 158.6L219.1 155.4L219.5 153.2L219.8 151.9L220.2 150.9L220.5 150.0L220.9 148.7L221.2 146.9L221.6 144.3L221.9 141.3L222.2 138.2L222.6 135.1L222.9 132.6L223.3 130.4L223.6 128.8L224.0 127.8L224.3 127.3L224.7 127.8L225.0 128.6L225.4 129.7L225.7 131.0L226.1 132.3L226.4 133.8L226.8 135.2L227.1 136.7L227.4 138.1L227.8 139.4L228.1 140.8L228.5 142.0L228.8 143.1L229.2 144.3L229.5 145.5L229.9 146.7L230.2 147.8L230.6 148.8L230.9 149.9L231.3 150.9L231.6 151.8L232.0 152.7L232.3 153.5L232.6 154.2L233.0 154.9L233.3 155.4L233.7 155.9L234.0 156.2L234.4 156.5L234.7 156.6L235.1 173.8L235.4 173.6L235.8 173.4L236.1 173.0L236.5 174.7L236.8 176.2L237.2 177.7L237.5 179.0L237.8 180.3L238.2 181.5L238.5 182.7L238.9 183.9L239.2 185.0L239.6 186.1L239.9 187.1L240.3 188.0L240.6 189.0L241.0 189.8L241.3 190.6L241.7 191.4L242.0 191.7L242.3 191.9L242.7 192.0L243.0 192.1L243.4 191.9L243.7 191.7L244.1 191.4L244.4 191.0L244.8 190.3L245.1 189.4L245.5 188.4L245.8 187.3L246.2 185.8L246.5 184.3L246.9 182.7L247.2 181.0L247.5 179.1L247.9 177.3L248.2 175.5L248.6 173.7L248.9 171.9L249.3 170.2L249.6 168.6L250.0 167.3L250.3 166.1L250.7 165.2L251.0 164.5L251.4 164.0L251.7 163.6L252.1 163.5L252.4 163.4L252.7 163.6L253.1 163.9L253.4 164.4L253.8 165.2L254.1 165.9L254.5 166.9L254.8 168.3L255.2 169.9L255.5 171.9L255.9 174.2L256.2 176.8L256.6 180.0L256.9 183.9L257.2 188.4L257.6 192.6L257.9 197.4L258.3 202.5L258.6 206.6L259.0 209.0L259.3 209.3L259.7 208.8L260.0 208.2L260.4 207.9L260.7 208.3L261.1 210.3L261.4 214.1L261.8 219.6L262.1 221.9L262.4 221.9L262.8 221.9L263.1 221.9L263.5 221.9L263.8 215.8L264.2 203.4L264.5 193.9L264.9 186.3L265.2 180.5L265.6 176.4L265.9 173.4L266.3 172.5L266.6 173.2L267.0 175.9L267.3 180.9L267.6 189.1L268.0 202.2L268.3 221.9L268.7 221.9L269.0 221.9L269.4 209.7L269.7 197.9L270.1 191.4L270.4 188.6L270.8 188.4L271.1 190.5L271.5 194.8L271.8 201.5L272.2 211.2L272.5 221.9L272.8 221.9L273.2 221.9L273.5 221.9L273.9 221.9L274.2 221.9L274.6 221.9L274.9 221.9L275.3 217.7L275.6 210.4L276.0 205.7L276.3 203.5L276.7 204.1L277.0 208.7L277.3 218.3L277.7 221.9L278.0 221.9L278.4 221.9L278.7 213.7L279.1 196.1L279.4 185.1L279.8 178.0L280.1 173.9L280.5 172.7L280.8 174.2L281.2 178.1L281.5 184.2L281.9 190.5L282.2 193.6L282.5 189.8L282.9 182.5L283.2 175.6L283.6 170.4L283.9 167.3L284.3 165.9L284.6 166.0L285.0 167.9L285.3 171.2L285.7 175.7L286.0 180.3L286.4 183.4L286.7 184.0L287.1 182.5L287.4 180.2L287.7 177.0L288.1 173.3L288.4 168.9L288.8 164.6L289.1 160.8L289.5 157.8L289.8 155.7L290.2 154.3L290.5 153.9L290.9 154.3L291.2 155.8L291.6 158.6L291.9 162.9L292.2 168.5L292.6 175.7L292.9 183.1L293.3 188.5L293.6 186.7L294.0 178.6L294.3 168.2L294.7 158.1L295.0 149.5L295.4 142.4L295.7 136.8L296.1 132.6L296.4 129.6L296.8 127.9L297.1 127.2" stroke="#d8281e" stroke-width="1.35" stroke-dasharray="5 1.5 1 1.8"/>
<path d="M47.6 221.9L48.3 221.9L49.0 212.8L49.7 212.1L50.4 219.6L51.1 221.9L51.8 221.9L52.5 221.9L53.1 221.9L53.8 216.8L54.5 214.1L55.2 219.0L55.9 221.9L56.6 221.9L57.3 221.9L58.0 221.9L58.7 221.9L59.4 215.1L60.1 215.4L60.8 221.9L61.5 221.9L62.2 221.9L62.8 221.9L63.5 221.9L64.2 218.1L64.9 212.4L65.6 213.0L66.3 220.0L67.0 221.9L67.7 221.9L68.4 221.9L69.1 221.9L69.8 220.0L70.5 212.5L71.2 210.9L71.9 214.5L72.6 221.9L73.2 221.9L73.9 221.9L74.6 221.9L75.3 221.9L76.0 221.9L76.7 214.9L77.4 211.8L78.1 212.8L78.8 217.7L79.5 221.9L80.2 221.9L80.9 221.9L81.6 221.9L82.3 221.9L82.9 221.9L83.6 218.4L84.3 210.9L85.0 206.7L85.7 205.0L86.4 205.8L87.1 209.0L87.8 215.3L88.5 221.9L89.2 221.9L89.9 221.9L90.6 221.9L91.3 221.9L92.0 217.6L92.6 203.4L93.3 193.1L94.0 186.6L94.7 181.9L95.4 178.4L96.1 176.1L96.8 174.2L97.5 173.0L98.2 172.4L98.9 172.3L99.6 172.8L100.3 173.6L101.0 174.9L101.7 176.5L102.4 178.3L103.0 180.5L103.7 182.1L104.4 183.9L105.1 185.6L105.8 187.3L106.5 188.7L107.2 189.6L107.9 189.9L108.6 189.2L109.3 191.0L110.0 191.6L110.7 191.0L111.4 189.2L112.1 186.3L112.7 182.6L113.4 178.2L114.1 173.5L114.8 168.6L115.5 163.6L116.2 158.7L116.9 153.9L117.6 149.5L118.3 145.3L119.0 141.5L119.7 138.2L120.4 135.2L121.1 134.4L121.8 133.9L122.5 134.0L123.1 134.7L123.8 136.0L124.5 138.2L125.2 141.3L125.9 145.7L126.6 151.8L127.3 160.1L128.0 172.0L128.7 190.9L129.4 221.9L130.1 221.9L130.8 196.3L131.5 176.0L132.2 164.0L132.8 156.5L133.5 152.0L134.2 150.1L134.9 150.6L135.6 153.8L136.3 160.1L137.0 171.1L137.7 190.8L138.4 221.9L139.1 221.9L139.8 186.2L140.5 169.0L141.2 159.7L141.9 155.3L142.5 155.0L143.2 159.0L143.9 168.3L144.6 187.0L145.3 221.9L146.0 219.0L146.7 180.7L147.4 164.1L148.1 156.1L148.8 153.8L149.5 157.0L150.2 166.8L150.9 189.0L151.6 221.9L152.3 196.9L152.9 168.9L153.6 156.4L154.3 151.8L155.0 153.6L155.7 162.8L156.4 184.9L157.1 221.9L157.8 191.4L158.5 164.1L159.2 152.4L159.9 149.1L160.6 153.0L161.3 166.2L162.0 201.1L162.6 221.9L163.3 170.5L164.0 152.5L164.7 145.5L165.4 146.5L166.1 156.1L166.8 181.8L167.5 221.9L168.2 172.3L168.9 149.6L169.6 140.4L170.3 139.6L171.0 147.3L171.7 169.3L172.4 221.9L173.0 169.7L173.7 143.8L174.4 133.1L175.1 131.0L175.8 137.2L176.5 156.1L177.2 221.9L177.9 166.4L178.6 136.2L179.3 123.3L180.0 119.3L180.7 123.2L181.4 138.0L182.1 185.4L182.7 163.5L183.4 124.9L184.1 108.2L184.8 100.8L185.5 100.7L186.2 109.6L186.9 138.0L187.6 164.8L188.3 102.3L189.0 76.5L189.7 60.5L190.4 49.5L191.1 41.9L191.8 36.9L192.4 34.1L193.1 33.3L193.8 34.6L194.5 37.7L195.2 42.7L195.9 49.9L196.6 59.8L197.3 73.1L198.0 92.1L198.7 123.0L199.4 221.9L200.1 137.2L200.8 115.3L201.5 107.0L202.2 105.2L202.8 108.0L203.5 115.1L204.2 127.4L204.9 148.5L205.6 196.8L206.3 191.4L207.0 153.0L207.7 137.5L208.4 129.7L209.1 126.6L209.8 126.7L210.5 129.9L211.2 136.1L211.9 146.2L212.5 162.4L213.2 192.5L213.9 221.9L214.6 186.5L215.3 162.4L216.0 149.3L216.7 141.1L217.4 136.0L218.1 133.0L218.8 131.6L219.5 131.7L220.2 133.0L220.9 135.6L221.6 139.4L222.2 144.6L222.9 151.5L223.6 160.6L224.3 173.2L225.0 190.7L225.7 219.6L226.4 221.9L227.1 221.9L227.8 198.1L228.5 183.9L229.2 174.7L229.9 168.2L230.6 163.5L231.3 160.0L232.0 157.5L232.6 155.7L233.3 154.4L234.0 153.7L234.7 153.5L235.4 153.7L236.1 154.3L236.8 159.0L237.5 164.3L238.2 170.4L238.9 177.6L239.6 186.3L240.3 197.2L241.0 211.8L241.7 221.9L242.3 221.9L243.0 221.9L243.7 221.9L244.4 210.4L245.1 198.1L245.8 189.3L246.5 182.7L247.2 177.8L247.9 174.3L248.6 172.0L249.3 171.0L250.0 170.9L250.7 172.0L251.4 174.2L252.1 179.4L252.7 186.0L253.4 194.3L254.1 205.3L254.8 220.6L255.5 221.9L256.2 221.9L256.9 221.9L257.6 221.9L258.3 214.2L259.0 205.3L259.7 200.4L260.4 198.7L261.1 199.8L261.8 203.4L262.4 211.5L263.1 221.9L263.8 221.9L264.5 221.9L265.2 221.9L265.9 208.3L266.6 195.7L267.3 189.0L268.0 187.2L268.7 190.7L269.4 202.8L270.1 221.9L270.8 221.9L271.5 187.9L272.2 163.7L272.8 147.8L273.5 136.4L274.2 128.2L274.9 122.5L275.6 119.0L276.3 117.5L277.0 119.2L277.7 123.0L278.4 129.3L279.1 138.6L279.8 152.1L280.5 172.3L281.2 208.4L281.9 221.9L282.5 206.8L283.2 191.6L283.9 188.9L284.6 194.4L285.3 209.4L286.0 221.9L286.7 221.9L287.4 221.9L288.1 209.5L288.8 204.0L289.5 206.7L290.2 218.2L290.9 221.9L291.6 221.9L292.2 221.9L292.9 216.7L293.6 209.1L294.3 209.8L295.0 218.9L295.7 221.9L296.4 221.9L297.1 221.9" stroke="#0a0a0a" stroke-width="1.6" clip-path="url(#clipaf)"/>
<path d="M47.6 198.2L47.9 208.8L48.3 221.9L48.6 221.9L49.0 221.9L49.3 221.9L49.7 207.2L50.0 196.3L50.4 190.0L50.7 187.3L51.1 187.0L51.4 187.9L51.8 188.0L52.1 185.3L52.5 180.0L52.8 173.9L53.1 168.2L53.5 163.9L53.8 160.7L54.2 158.9L54.5 158.5L54.9 159.8L55.2 163.3L55.6 169.4L55.9 178.4L56.3 193.0L56.6 216.7L57.0 221.9L57.3 221.9L57.6 197.8L58.0 181.6L58.3 170.4L58.7 162.4L59.0 156.5L59.4 152.2L59.7 149.8L60.1 148.9L60.4 149.4L60.8 151.0L61.1 153.7L61.5 157.2L61.8 160.6L62.2 163.5L62.5 165.7L62.8 166.9L63.2 168.0L63.5 168.7L63.9 169.5L64.2 169.8L64.6 170.0L64.9 170.8L65.3 171.9L65.6 174.1L66.0 177.1L66.3 180.3L66.7 183.4L67.0 185.5L67.4 186.1L67.7 184.9L68.0 182.2L68.4 178.9L68.7 175.7L69.1 172.9L69.4 170.9L69.8 169.5L70.1 169.3L70.5 169.6L70.8 170.0L71.2 171.0L71.5 171.5L71.9 171.6L72.2 171.2L72.6 170.4L72.9 169.2L73.2 168.0L73.6 167.6L73.9 167.7L74.3 168.5L74.6 170.6L75.0 173.7L75.3 178.4L75.7 185.4L76.0 195.0L76.4 209.5L76.7 221.9L77.1 221.9L77.4 221.9L77.7 217.9L78.1 202.2L78.4 192.1L78.8 185.3L79.1 181.1L79.5 178.5L79.8 177.5L80.2 177.5L80.5 178.9L80.9 181.6L81.2 185.1L81.6 189.5L81.9 194.4L82.3 200.9L82.6 208.2L82.9 215.5L83.3 221.9L83.6 221.9L84.0 221.9L84.3 221.9L84.7 221.9L85.0 221.9L85.4 221.9L85.7 221.9L86.1 221.9L86.4 217.1L86.8 207.9L87.1 200.1L87.5 193.6L87.8 188.6L88.1 184.6L88.5 181.6L88.8 179.6L89.2 178.9L89.5 178.6L89.9 179.4L90.2 181.2L90.6 183.6L90.9 187.1L91.3 191.4L91.6 196.8L92.0 203.1L92.3 210.4L92.6 218.3L93.0 221.9L93.3 221.9L93.7 221.9L94.0 221.9L94.4 221.9L94.7 221.9L95.1 218.3L95.4 213.1L95.8 208.7L96.1 205.2L96.5 202.1L96.8 199.2L97.2 196.4L97.5 193.9L97.8 191.5L98.2 189.2L98.5 186.9L98.9 184.7L99.2 182.5L99.6 180.3L99.9 178.4L100.3 176.3L100.6 174.3L101.0 172.3L101.3 170.4L101.7 168.5L102.0 166.7L102.4 165.0L102.7 163.3L103.0 161.7L103.4 159.7L103.7 157.9L104.1 156.0L104.4 154.2L104.8 152.4L105.1 150.7L105.5 149.0L105.8 147.3L106.2 145.6L106.5 144.0L106.9 142.4L107.2 140.8L107.5 139.2L107.9 137.6L108.2 136.1L108.6 134.5L108.9 134.3L109.3 134.1L109.6 134.0L110.0 137.4L110.3 137.4L110.7 137.3L111.0 137.4L111.4 137.6L111.7 137.8L112.1 138.1L112.4 138.5L112.7 139.1L113.1 139.7L113.4 140.6L113.8 141.6L114.1 142.9L114.5 144.4L114.8 146.2L115.2 148.3L115.5 150.8L115.9 153.7L116.2 157.0L116.6 160.9L116.9 165.2L117.3 170.1L117.6 175.3L117.9 180.8L118.3 186.4L118.6 191.5L119.0 195.4L119.3 196.9L119.7 196.2L120.0 193.3L120.4 189.5L120.7 187.6L121.1 186.7L121.4 187.0L121.8 190.4L122.1 197.8L122.5 211.6L122.8 221.9L123.1 217.4L123.5 196.9L123.8 183.1L124.2 175.2L124.5 171.0L124.9 169.1L125.2 168.2L125.6 166.9L125.9 164.1L126.3 159.8L126.6 154.8L127.0 149.9L127.3 145.8L127.6 142.4L128.0 139.3L128.3 136.3L128.7 133.8L129.0 131.4L129.4 129.5L129.7 127.8L130.1 126.3L130.4 125.4L130.8 124.8L131.1 125.0L131.5 126.2L131.8 128.5L132.2 131.6L132.5 135.4L132.8 139.2L133.2 142.3L133.5 146.0L133.9 150.8L134.2 157.8L134.6 166.8L134.9 176.0L135.3 179.3L135.6 175.2L136.0 165.5L136.3 154.7L136.7 145.8L137.0 140.8L137.4 139.9L137.7 141.6L138.0 144.4L138.4 147.5L138.7 151.6L139.1 157.5L139.4 163.8L139.8 167.2L140.1 167.4L140.5 169.4L140.8 176.2L141.2 181.6L141.5 183.0L141.9 188.3L142.2 185.3L142.5 170.3L142.9 163.1L143.2 166.2L143.6 178.1L143.9 194.4L144.3 197.9L144.6 181.8L145.0 169.0L145.3 165.9L145.7 172.9L146.0 173.2L146.4 157.7L146.7 149.8L147.1 152.2L147.4 165.9L147.7 198.4L148.1 221.9L148.4 221.9L148.8 221.9L149.1 214.7L149.5 199.0L149.8 167.0L150.2 158.7L150.5 167.6L150.9 187.8L151.2 188.5L151.6 164.9L151.9 144.3L152.3 136.7L152.6 139.0L152.9 147.3L153.3 156.7L153.6 159.7L154.0 156.0L154.3 157.9L154.7 174.7L155.0 212.0L155.4 221.5L155.7 188.5L156.1 168.1L156.4 164.4L156.8 174.5L157.1 178.7L157.4 158.0L157.8 147.1L158.1 146.0L158.5 145.8L158.8 143.2L159.2 144.1L159.5 152.4L159.9 169.4L160.2 193.2L160.6 184.3L160.9 172.5L161.3 178.9L161.6 175.4L162.0 153.1L162.3 141.2L162.6 135.9L163.0 130.3L163.3 125.6L163.7 126.0L164.0 132.1L164.4 143.1L164.7 155.4L165.1 158.9L165.4 153.2L165.8 150.9L166.1 154.7L166.5 164.1L166.8 195.9L167.2 190.3L167.5 158.0L167.8 144.6L168.2 139.0L168.5 140.6L168.9 146.3L169.2 151.7L169.6 158.6L169.9 171.9L170.3 186.2L170.6 190.0L171.0 206.9L171.3 221.9L171.7 183.5L172.0 165.5L172.4 156.7L172.7 145.7L173.0 133.3L173.4 125.8L173.7 121.7L174.1 121.2L174.4 125.8L174.8 131.1L175.1 133.2L175.5 137.5L175.8 148.6L176.2 173.8L176.5 221.9L176.9 156.3L177.2 141.6L177.5 137.2L177.9 131.1L178.2 123.8L178.6 120.1L178.9 119.8L179.3 118.3L179.6 114.3L180.0 111.0L180.3 111.9L180.7 120.4L181.0 137.2L181.4 157.7L181.7 179.9L182.1 202.6L182.4 161.8L182.7 134.9L183.1 122.0L183.4 115.7L183.8 112.0L184.1 109.0L184.5 107.2L184.8 106.8L185.2 107.5L185.5 109.6L185.9 113.5L186.2 120.2L186.6 130.9L186.9 154.6L187.3 221.9L187.6 138.0L187.9 110.8L188.3 94.1L188.6 82.1L189.0 72.6L189.3 64.8L189.7 58.3L190.0 52.9L190.4 48.4L190.7 44.7L191.1 41.5L191.4 39.0L191.8 36.9L192.1 35.3L192.4 34.2L192.8 33.5L193.1 33.3L193.5 33.6L193.8 34.4L194.2 35.5L194.5 37.1L194.9 39.0L195.2 41.5L195.6 44.3L195.9 47.7L196.3 51.6L196.6 56.1L197.0 61.3L197.3 67.4L197.6 74.4L198.0 82.8L198.3 92.6L198.7 104.5L199.0 120.3L199.4 146.7L199.7 221.9L200.1 159.2L200.4 137.2L200.8 127.6L201.1 121.2L201.5 116.0L201.8 111.7L202.2 108.7L202.5 107.3L202.8 107.4L203.2 108.9L203.5 111.0L203.9 114.0L204.2 118.3L204.6 124.4L204.9 132.2L205.3 140.9L205.6 150.8L206.0 165.1L206.3 195.0L206.7 211.5L207.0 171.7L207.3 155.8L207.7 149.4L208.0 146.3L208.4 142.2L208.7 136.4L209.1 130.8L209.4 127.0L209.8 125.6L210.1 125.7L210.5 126.4L210.8 126.4L211.2 126.2L211.5 126.7L211.9 129.4L212.2 134.8L212.5 143.3L212.9 154.0L213.2 163.5L213.6 165.3L213.9 161.1L214.3 157.1L214.6 155.5L215.0 155.7L215.3 155.0L215.7 151.3L216.0 145.8L216.4 140.7L216.7 137.4L217.1 135.8L217.4 135.8L217.7 136.8L218.1 138.2L218.4 139.7L218.8 141.2L219.1 142.2L219.5 142.8L219.8 143.0L220.2 143.0L220.5 142.6L220.9 142.0L221.2 141.2L221.6 140.6L221.9 140.0L222.2 139.6L222.6 139.6L222.9 139.8L223.3 140.2L223.6 140.9L224.0 141.9L224.3 143.0L224.7 144.8L225.0 146.8L225.4 149.0L225.7 151.3L226.1 153.8L226.4 156.4L226.8 159.4L227.1 162.6L227.4 166.0L227.8 169.6L228.1 173.5L228.5 177.5L228.8 181.8L229.2 186.4L229.5 191.5L229.9 197.0L230.2 202.9L230.6 209.2L230.9 216.0L231.3 221.9L231.6 221.9L232.0 221.9L232.3 221.9L232.6 221.9L233.0 221.9L233.3 221.9L233.7 221.9L234.0 221.9L234.4 221.9L234.7 221.9L235.1 183.4L235.4 183.5L235.8 183.5L236.1 183.6L236.5 184.5L236.8 185.2L237.2 185.7L237.5 186.0L237.8 186.0L238.2 185.7L238.5 184.9L238.9 183.9L239.2 182.6L239.6 181.2L239.9 179.7L240.3 178.1L240.6 176.4L241.0 174.7L241.3 173.0L241.7 171.4L242.0 169.7L242.3 167.9L242.7 166.3L243.0 164.8L243.4 163.4L243.7 162.0L244.1 160.8L244.4 159.7L244.8 158.8L245.1 158.0L245.5 157.4L245.8 156.9L246.2 156.6L246.5 156.4L246.9 156.3L247.2 156.5L247.5 156.9L247.9 157.4L248.2 158.2L248.6 159.1L248.9 160.2L249.3 161.5L249.6 162.9L250.0 164.5L250.3 166.3L250.7 168.2L251.0 170.1L251.4 172.2L251.7 174.4L252.1 176.7L252.4 178.8L252.7 180.8L253.1 182.5L253.4 183.9L253.8 185.2L254.1 186.1L254.5 186.2L254.8 185.6L255.2 184.1L255.5 181.4L255.9 178.2L256.2 174.0L256.6 169.3L256.9 164.4L257.2 160.0L257.6 155.9L257.9 152.7L258.3 150.0L258.6 148.0L259.0 147.0L259.3 146.9L259.7 147.9L260.0 149.9L260.4 153.3L260.7 158.1L261.1 164.6L261.4 173.3L261.8 184.6L262.1 199.8L262.4 216.1L262.8 217.9L263.1 205.1L263.5 193.3L263.8 184.9L264.2 179.5L264.5 175.8L264.9 173.7L265.2 172.9L265.6 173.0L265.9 174.1L266.3 175.6L266.6 178.3L267.0 182.1L267.3 186.9L267.6 193.5L268.0 202.7L268.3 215.1L268.7 221.9L269.0 221.9L269.4 221.9L269.7 209.5L270.1 197.4L270.4 188.1L270.8 180.2L271.1 173.6L271.5 167.8L271.8 162.3L272.2 157.2L272.5 152.4L272.8 147.7L273.2 143.3L273.5 139.3L273.9 135.9L274.2 133.2L274.6 131.1L274.9 129.8L275.3 129.1L275.6 128.9L276.0 129.1L276.3 129.7L276.7 131.0L277.0 132.6L277.3 134.3L277.7 136.2L278.0 138.3L278.4 140.8L278.7 143.6L279.1 146.7L279.4 150.6L279.8 155.0L280.1 160.3L280.5 167.4L280.8 176.8L281.2 190.4L281.5 211.3L281.9 221.9L282.2 214.2L282.5 193.4L282.9 181.2L283.2 174.6L283.6 171.7L283.9 171.9L284.3 174.7L284.6 180.0L285.0 186.0L285.3 191.8L285.7 195.0L286.0 195.4L286.4 194.8L286.7 196.8L287.1 201.1L287.4 208.3L287.7 214.7L288.1 211.2L288.4 201.5L288.8 192.9L289.1 188.2L289.5 188.0L289.8 192.4L290.2 204.2L290.5 221.9L290.9 221.9L291.2 213.6L291.6 191.3L291.9 177.8L292.2 169.2L292.6 163.4L292.9 159.7L293.3 157.6L293.6 156.5L294.0 156.3L294.3 157.3L294.7 159.2L295.0 162.1L295.4 166.0L295.7 170.8L296.1 176.8L296.4 183.3L296.8 190.1L297.1 198.2" stroke="#d8281e" stroke-width="1.35" stroke-dasharray="5 1.5 1 1.8"/>
<path d="M47.6 221.9L48.3 221.9L49.0 221.9L49.7 218.9L50.4 209.8L51.1 209.1L51.8 216.7L52.5 221.9L53.1 221.9L53.8 221.9L54.5 218.2L55.2 206.7L55.9 204.0L56.6 209.5L57.3 221.9L58.0 221.9L58.7 221.9L59.4 209.4L60.1 194.4L60.8 188.9L61.5 191.6L62.2 206.8L62.8 221.9L63.5 208.4L64.2 172.3L64.9 152.1L65.6 138.6L66.3 129.3L67.0 123.0L67.7 119.2L68.4 117.5L69.1 119.0L69.8 122.5L70.5 128.2L71.2 136.4L71.9 147.8L72.6 163.7L73.2 187.9L73.9 221.9L74.6 221.9L75.3 202.8L76.0 190.7L76.7 187.2L77.4 189.0L78.1 195.7L78.8 208.3L79.5 221.9L80.2 221.9L80.9 221.9L81.6 221.9L82.3 211.5L82.9 203.4L83.6 199.8L84.3 198.7L85.0 200.4L85.7 205.3L86.4 214.2L87.1 221.9L87.8 221.9L88.5 221.9L89.2 221.9L89.9 220.6L90.6 205.3L91.3 194.3L92.0 186.0L92.6 179.4L93.3 174.2L94.0 172.0L94.7 170.9L95.4 171.0L96.1 172.0L96.8 174.3L97.5 177.8L98.2 182.7L98.9 189.3L99.6 198.1L100.3 210.4L101.0 221.9L101.7 221.9L102.4 221.9L103.0 221.9L103.7 211.8L104.4 197.2L105.1 186.3L105.8 177.6L106.5 170.4L107.2 164.3L107.9 159.0L108.6 154.3L109.3 153.7L110.0 153.5L110.7 153.7L111.4 154.4L112.1 155.7L112.7 157.5L113.4 160.0L114.1 163.5L114.8 168.2L115.5 174.7L116.2 183.9L116.9 198.1L117.6 221.9L118.3 221.9L119.0 219.6L119.7 190.7L120.4 173.2L121.1 160.6L121.8 151.5L122.5 144.6L123.1 139.4L123.8 135.6L124.5 133.0L125.2 131.7L125.9 131.6L126.6 133.0L127.3 136.0L128.0 141.1L128.7 149.3L129.4 162.4L130.1 186.5L130.8 221.9L131.5 192.5L132.2 162.4L132.8 146.2L133.5 136.1L134.2 129.9L134.9 126.7L135.6 126.6L136.3 129.7L137.0 137.5L137.7 153.0L138.4 191.4L139.1 196.8L139.8 148.5L140.5 127.4L141.2 115.1L141.9 108.0L142.5 105.2L143.2 107.0L143.9 115.3L144.6 137.2L145.3 221.9L146.0 123.0L146.7 92.1L147.4 73.1L148.1 59.8L148.8 49.9L149.5 42.7L150.2 37.7L150.9 34.6L151.6 33.3L152.3 34.1L152.9 36.9L153.6 41.9L154.3 49.5L155.0 60.5L155.7 76.5L156.4 102.3L157.1 164.8L157.8 138.0L158.5 109.6L159.2 100.7L159.9 100.8L160.6 108.2L161.3 124.9L162.0 163.5L162.6 185.4L163.3 138.0L164.0 123.2L164.7 119.3L165.4 123.3L166.1 136.2L166.8 166.4L167.5 221.9L168.2 156.1L168.9 137.2L169.6 131.0L170.3 133.1L171.0 143.8L171.7 169.7L172.4 221.9L173.0 169.3L173.7 147.3L174.4 139.6L175.1 140.4L175.8 149.6L176.5 172.3L177.2 221.9L177.9 181.8L178.6 156.1L179.3 146.5L180.0 145.5L180.7 152.5L181.4 170.5L182.1 221.9L182.7 201.1L183.4 166.2L184.1 153.0L184.8 149.1L185.5 152.4L186.2 164.1L186.9 191.4L187.6 221.9L188.3 184.9L189.0 162.8L189.7 153.6L190.4 151.8L191.1 156.4L191.8 168.9L192.4 196.9L193.1 221.9L193.8 189.0L194.5 166.8L195.2 157.0L195.9 153.8L196.6 156.1L197.3 164.1L198.0 180.7L198.7 219.0L199.4 221.9L200.1 187.0L200.8 168.3L201.5 159.0L202.2 155.0L202.8 155.3L203.5 159.7L204.2 169.0L204.9 186.2L205.6 221.9L206.3 221.9L207.0 190.8L207.7 171.1L208.4 160.1L209.1 153.8L209.8 150.6L210.5 150.1L211.2 152.0L211.9 156.5L212.5 164.0L213.2 176.0L213.9 196.3L214.6 221.9L215.3 221.9L216.0 190.9L216.7 172.0L217.4 160.1L218.1 151.8L218.8 145.7L219.5 141.3L220.2 138.2L220.9 136.0L221.6 134.7L222.2 134.0L222.9 133.9L223.6 134.4L224.3 135.2L225.0 138.2L225.7 141.5L226.4 145.3L227.1 149.5L227.8 153.9L228.5 158.7L229.2 163.6L229.9 168.6L230.6 173.5L231.3 178.2L232.0 182.6L232.6 186.3L233.3 189.2L234.0 191.0L234.7 191.6L235.4 191.0L236.1 189.2L236.8 189.9L237.5 189.6L238.2 188.7L238.9 187.3L239.6 185.6L240.3 183.9L241.0 182.1L241.7 180.5L242.3 178.3L243.0 176.5L243.7 174.9L244.4 173.6L245.1 172.8L245.8 172.3L246.5 172.4L247.2 173.0L247.9 174.2L248.6 176.1L249.3 178.4L250.0 181.9L250.7 186.6L251.4 193.1L252.1 203.4L252.7 217.6L253.4 221.9L254.1 221.9L254.8 221.9L255.5 221.9L256.2 221.9L256.9 215.3L257.6 209.0L258.3 205.8L259.0 205.0L259.7 206.7L260.4 210.9L261.1 218.4L261.8 221.9L262.4 221.9L263.1 221.9L263.8 221.9L264.5 221.9L265.2 221.9L265.9 217.7L266.6 212.8L267.3 211.8L268.0 214.9L268.7 221.9L269.4 221.9L270.1 221.9L270.8 221.9L271.5 221.9L272.2 221.9L272.8 214.5L273.5 210.9L274.2 212.5L274.9 220.0L275.6 221.9L276.3 221.9L277.0 221.9L277.7 221.9L278.4 220.0L279.1 213.0L279.8 212.4L280.5 218.1L281.2 221.9L281.9 221.9L282.5 221.9L283.2 221.9L283.9 221.9L284.6 215.4L285.3 215.1L286.0 221.9L286.7 221.9L287.4 221.9L288.1 221.9L288.8 221.9L289.5 219.0L290.2 214.1L290.9 216.8L291.6 221.9L292.2 221.9L292.9 221.9L293.6 221.9L294.3 219.6L295.0 212.1L295.7 212.8L296.4 221.9L297.1 221.9" stroke="#0a0a0a" stroke-width="1.6" clip-path="url(#clipaf)"/>
<path d="M47.6 205.1L47.9 201.5L48.3 195.4L48.6 189.3L49.0 184.5L49.3 182.1L49.7 181.8L50.0 184.1L50.4 188.5L50.7 193.2L51.1 194.0L51.4 189.6L51.8 182.3L52.1 175.8L52.5 170.8L52.8 167.1L53.1 164.4L53.5 162.6L53.8 161.4L54.2 160.6L54.5 160.6L54.9 161.5L55.2 163.0L55.6 165.6L55.9 168.7L56.3 172.0L56.6 175.3L57.0 179.1L57.3 183.5L57.6 189.4L58.0 197.3L58.3 206.9L58.7 216.4L59.0 215.7L59.4 206.6L59.7 196.9L60.1 190.4L60.4 186.5L60.8 185.6L61.1 188.1L61.5 195.0L61.8 207.3L62.2 221.9L62.5 221.9L62.8 221.9L63.2 204.2L63.5 188.4L63.9 177.6L64.2 168.5L64.6 160.8L64.9 153.5L65.3 146.6L65.6 140.3L66.0 134.8L66.3 130.1L66.7 126.5L67.0 123.8L67.4 122.3L67.7 121.8L68.0 122.3L68.4 123.8L68.7 126.4L69.1 130.0L69.4 134.4L69.8 139.5L70.1 145.5L70.5 152.3L70.8 159.6L71.2 167.4L71.5 175.5L71.9 183.3L72.2 191.7L72.6 200.2L72.9 208.3L73.2 213.0L73.6 211.2L73.9 204.5L74.3 196.9L74.6 190.5L75.0 186.1L75.3 183.1L75.7 181.6L76.0 181.1L76.4 181.5L76.7 182.4L77.1 182.9L77.4 182.3L77.7 180.8L78.1 179.1L78.4 176.9L78.8 175.3L79.1 174.3L79.5 174.4L79.8 175.4L80.2 177.2L80.5 179.4L80.9 181.4L81.2 182.0L81.6 180.9L81.9 178.5L82.3 175.7L82.6 173.0L82.9 171.2L83.3 170.5L83.6 170.5L84.0 171.4L84.3 173.4L84.7 176.1L85.0 179.1L85.4 181.9L85.7 184.1L86.1 185.5L86.4 186.0L86.8 185.5L87.1 185.2L87.5 185.2L87.8 186.1L88.1 188.0L88.5 191.1L88.8 196.0L89.2 202.2L89.5 209.4L89.9 216.3L90.2 216.5L90.6 209.6L90.9 199.4L91.3 189.3L91.6 180.7L92.0 173.7L92.3 167.6L92.6 162.7L93.0 158.7L93.3 155.4L93.7 153.0L94.0 151.2L94.4 149.9L94.7 149.1L95.1 148.6L95.4 148.5L95.8 148.7L96.1 149.2L96.5 149.9L96.8 150.8L97.2 152.0L97.5 153.3L97.8 154.8L98.2 156.6L98.5 158.4L98.9 160.5L99.2 162.7L99.6 165.0L99.9 167.5L100.3 170.1L100.6 172.8L101.0 175.6L101.3 178.6L101.7 181.7L102.0 184.8L102.4 187.9L102.7 191.1L103.0 194.2L103.4 196.8L103.7 199.3L104.1 201.3L104.4 202.8L104.8 203.4L105.1 203.3L105.5 202.4L105.8 201.0L106.2 199.0L106.5 196.8L106.9 194.3L107.2 191.6L107.5 189.0L107.9 186.5L108.2 184.2L108.6 182.0L108.9 181.4L109.3 181.1L109.6 180.9L110.0 174.5L110.3 174.6L110.7 174.9L111.0 175.2L111.4 175.6L111.7 176.0L112.1 176.6L112.4 177.3L112.7 178.0L113.1 178.9L113.4 179.9L113.8 181.0L114.1 182.4L114.5 184.0L114.8 186.1L115.2 188.6L115.5 191.8L115.9 196.0L116.2 201.5L116.6 209.3L116.9 219.9L117.3 221.9L117.6 221.9L117.9 214.3L118.3 197.5L118.6 183.9L119.0 172.7L119.3 163.4L119.7 155.7L120.0 149.1L120.4 143.8L120.7 139.6L121.1 136.5L121.4 134.1L121.8 132.3L122.1 131.2L122.5 130.5L122.8 130.0L123.1 129.7L123.5 129.5L123.8 129.2L124.2 128.9L124.5 128.7L124.9 128.6L125.2 128.8L125.6 129.3L125.9 129.9L126.3 130.8L126.6 132.1L127.0 133.9L127.3 136.5L127.6 139.9L128.0 144.2L128.3 148.9L128.7 153.9L129.0 159.1L129.4 164.0L129.7 166.3L130.1 162.9L130.4 157.0L130.8 152.5L131.1 150.3L131.5 149.2L131.8 147.0L132.2 142.2L132.5 135.6L132.8 129.4L133.2 124.6L133.5 122.3L133.9 122.0L134.2 123.3L134.6 125.3L134.9 127.3L135.3 128.8L135.6 129.7L136.0 130.5L136.3 132.1L136.7 135.3L137.0 140.5L137.4 147.6L137.7 155.6L138.0 164.6L138.4 178.6L138.7 221.0L139.1 196.0L139.4 155.1L139.8 135.6L140.1 124.0L140.5 116.4L140.8 111.1L141.2 107.5L141.5 105.2L141.9 104.1L142.2 104.1L142.5 105.2L142.9 107.3L143.2 110.5L143.6 115.2L143.9 122.5L144.3 133.8L144.6 149.4L145.0 162.0L145.3 160.7L145.7 138.9L146.0 115.8L146.4 99.4L146.7 87.4L147.1 77.9L147.4 70.0L147.7 63.4L148.1 57.7L148.4 52.8L148.8 48.7L149.1 45.1L149.5 42.1L149.8 39.5L150.2 37.4L150.5 35.8L150.9 34.5L151.2 33.7L151.6 33.3L151.9 33.5L152.3 34.1L152.6 35.2L152.9 36.7L153.3 38.7L153.6 41.2L154.0 44.3L154.3 48.1L154.7 52.6L155.0 58.0L155.4 64.4L155.7 71.9L156.1 81.2L156.4 93.5L156.8 110.6L157.1 133.9L157.4 173.0L157.8 178.6L158.1 136.6L158.5 121.3L158.8 112.4L159.2 106.0L159.5 102.1L159.9 100.9L160.2 102.0L160.6 105.3L160.9 111.0L161.3 120.0L161.6 134.3L162.0 154.6L162.3 157.4L162.6 152.2L163.0 151.3L163.3 142.3L163.7 131.5L164.0 124.3L164.4 120.8L164.7 119.0L165.1 117.2L165.4 116.7L165.8 119.3L166.1 126.1L166.5 136.2L166.8 145.8L167.2 149.4L167.5 149.2L167.8 148.3L168.2 146.0L168.5 142.7L168.9 137.9L169.2 130.0L169.6 120.6L169.9 114.2L170.3 112.9L170.6 115.5L171.0 121.2L171.3 128.7L171.7 135.9L172.0 142.8L172.4 151.6L172.7 170.1L173.0 216.3L173.4 196.5L173.7 171.7L174.1 171.7L174.4 165.0L174.8 155.6L175.1 153.5L175.5 154.1L175.8 152.6L176.2 146.9L176.5 142.5L176.9 144.5L177.2 152.4L177.5 166.1L177.9 201.2L178.2 194.8L178.6 181.5L178.9 183.9L179.3 172.1L179.6 153.7L180.0 146.9L180.3 153.0L180.7 169.6L181.0 192.0L181.4 219.0L181.7 221.9L182.1 180.7L182.4 175.0L182.7 180.5L183.1 172.3L183.4 176.5L183.8 205.5L184.1 221.9L184.5 190.9L184.8 172.3L185.2 162.2L185.5 160.5L185.9 160.8L186.2 152.2L186.6 141.9L186.9 136.4L187.3 135.4L187.6 139.1L187.9 150.4L188.3 171.9L188.6 193.3L189.0 184.0L189.3 183.3L189.7 185.9L190.0 187.3L190.4 175.8L190.7 151.8L191.1 139.3L191.4 136.7L191.8 136.2L192.1 134.3L192.4 133.6L192.8 137.9L193.1 149.4L193.5 169.0L193.8 178.3L194.2 164.8L194.5 158.4L194.9 156.2L195.2 153.3L195.6 148.7L195.9 144.1L196.3 141.5L196.6 141.1L197.0 138.5L197.3 132.2L197.6 127.1L198.0 126.7L198.3 130.9L198.7 136.2L199.0 141.5L199.4 150.0L199.7 164.9L200.1 179.9L200.4 177.3L200.8 169.5L201.1 168.3L201.5 176.5L201.8 203.6L202.2 221.9L202.5 178.8L202.8 160.4L203.2 155.3L203.5 158.0L203.9 163.2L204.2 162.3L204.6 151.0L204.9 137.7L205.3 127.5L205.6 121.8L206.0 120.8L206.3 124.1L206.7 131.3L207.0 142.8L207.3 157.8L207.7 174.3L208.0 191.3L208.4 215.0L208.7 216.2L209.1 192.6L209.4 181.5L209.8 180.6L210.1 188.6L210.5 209.1L210.8 221.9L211.2 209.1L211.5 181.6L211.9 167.4L212.2 160.5L212.5 159.3L212.9 162.4L213.2 168.5L213.6 175.2L213.9 180.0L214.3 178.9L214.6 172.4L215.0 163.6L215.3 155.4L215.7 149.2L216.0 144.6L216.4 141.5L216.7 139.6L217.1 138.8L217.4 139.0L217.7 140.7L218.1 144.0L218.4 148.8L218.8 155.5L219.1 164.8L219.5 177.9L219.8 196.6L220.2 216.4L220.5 211.2L220.9 196.7L221.2 187.2L221.6 181.6L221.9 177.4L222.2 173.3L222.6 169.2L222.9 164.7L223.3 160.2L223.6 155.7L224.0 151.6L224.3 148.1L224.7 145.6L225.0 143.6L225.4 142.0L225.7 140.6L226.1 139.5L226.4 138.5L226.8 137.7L227.1 136.9L227.4 136.3L227.8 135.7L228.1 135.2L228.5 134.6L228.8 134.2L229.2 133.8L229.5 133.5L229.9 133.2L230.2 133.0L230.6 132.9L230.9 132.8L231.3 132.7L231.6 132.7L232.0 132.7L232.3 132.7L232.6 132.8L233.0 132.8L233.3 132.9L233.7 132.9L234.0 133.0L234.4 133.1L234.7 133.2L235.1 137.7L235.4 137.8L235.8 138.0L236.1 138.1L236.5 139.8L236.8 141.5L237.2 143.2L237.5 145.0L237.8 146.8L238.2 148.7L238.5 150.6L238.9 152.6L239.2 154.6L239.6 156.8L239.9 159.1L240.3 161.5L240.6 164.1L241.0 166.8L241.3 169.8L241.7 173.0L242.0 176.1L242.3 179.5L242.7 183.4L243.0 187.8L243.4 192.6L243.7 198.2L244.1 204.9L244.4 212.8L244.8 221.9L245.1 221.9L245.5 221.9L245.8 221.9L246.2 221.9L246.5 221.9L246.9 221.9L247.2 218.1L247.5 211.3L247.9 205.7L248.2 201.0L248.6 197.3L248.9 194.4L249.3 192.1L249.6 190.2L250.0 188.7L250.3 187.7L250.7 187.0L251.0 186.8L251.4 186.9L251.7 187.4L252.1 188.4L252.4 189.6L252.7 191.0L253.1 192.5L253.4 194.0L253.8 195.7L254.1 196.9L254.5 198.2L254.8 199.1L255.2 199.2L255.5 198.4L255.9 197.8L256.2 196.9L256.6 196.2L256.9 195.6L257.2 195.3L257.6 195.0L257.9 195.4L258.3 197.0L258.6 199.1L259.0 202.2L259.3 206.2L259.7 210.9L260.0 216.3L260.4 221.3L260.7 221.9L261.1 221.9L261.4 221.9L261.8 219.4L262.1 215.6L262.4 213.1L262.8 212.0L263.1 212.7L263.5 215.5L263.8 219.0L264.2 221.9L264.5 221.9L264.9 221.9L265.2 221.9L265.6 221.9L265.9 221.9L266.3 218.3L266.6 212.2L267.0 205.8L267.3 200.2L267.6 194.5L268.0 189.9L268.3 185.7L268.7 182.4L269.0 180.3L269.4 179.6L269.7 179.6L270.1 180.3L270.4 181.7L270.8 182.8L271.1 183.0L271.5 182.2L271.8 180.1L272.2 177.6L272.5 175.1L272.8 172.9L273.2 171.4L273.5 170.5L273.9 170.2L274.2 170.9L274.6 172.3L274.9 174.8L275.3 178.4L275.6 184.0L276.0 191.9L276.3 202.2L276.7 213.3L277.0 216.4L277.3 207.5L277.7 197.6L278.0 189.3L278.4 184.4L278.7 182.1L279.1 182.5L279.4 185.2L279.8 190.1L280.1 196.3L280.5 201.3L280.8 204.1L281.2 204.3L281.5 203.6L281.9 205.4L282.2 208.3L282.5 208.9L282.9 204.1L283.2 195.5L283.6 186.8L283.9 179.6L284.3 173.8L284.6 169.7L285.0 166.9L285.3 164.9L285.7 163.8L286.0 163.5L286.4 163.6L286.7 164.2L287.1 165.1L287.4 166.5L287.7 169.0L288.1 173.2L288.4 179.4L288.8 188.8L289.1 202.3L289.5 219.8L289.8 221.9L290.2 221.9L290.5 214.2L290.9 212.4L291.2 217.2L291.6 221.9L291.9 221.2L292.2 203.2L292.6 187.9L292.9 177.5L293.3 170.5L293.6 166.4L294.0 164.5L294.3 164.4L294.7 166.2L295.0 169.6L295.4 174.8L295.7 181.6L296.1 189.7L296.4 197.9L296.8 203.7L297.1 205.1" stroke="#d8281e" stroke-width="1.35" stroke-dasharray="5 1.5 1 1.8"/>
<path d="M47.6 221.9L48.3 221.9L49.0 221.9L49.7 221.9L50.4 221.9L51.1 221.9L51.8 221.9L52.5 221.9L53.1 221.9L53.8 221.9L54.5 221.9L55.2 221.9L55.9 221.9L56.6 221.9L57.3 221.9L58.0 221.9L58.7 221.9L59.4 221.9L60.1 221.9L60.8 221.9L61.5 221.9L62.2 221.9L62.8 221.9L63.5 221.9L64.2 221.9L64.9 221.9L65.6 221.9L66.3 221.9L67.0 221.9L67.7 221.9L68.4 221.9L69.1 221.9L69.8 221.9L70.5 221.9L71.2 221.9L71.9 221.9L72.6 221.9L73.2 221.9L73.9 221.9L74.6 221.9L75.3 221.9L76.0 221.9L76.7 221.9L77.4 221.9L78.1 221.9L78.8 221.9L79.5 221.9L80.2 221.9L80.9 221.9L81.6 221.9L82.3 221.9L82.9 221.9L83.6 221.9L84.3 221.9L85.0 221.9L85.7 221.9L86.4 221.9L87.1 221.9L87.8 221.9L88.5 221.9L89.2 221.9L89.9 221.9L90.6 221.9L91.3 221.9L92.0 221.9L92.6 221.9L93.3 216.9L94.0 208.6L94.7 202.5L95.4 198.0L96.1 194.7L96.8 192.3L97.5 190.5L98.2 189.3L98.9 188.6L99.6 188.2L100.3 188.2L101.0 188.4L101.7 188.9L102.4 189.4L103.0 190.0L103.7 190.0L104.4 189.8L105.1 189.5L105.8 188.9L106.5 187.9L107.2 186.6L107.9 184.8L108.6 182.4L109.3 183.3L110.0 183.8L110.7 183.6L111.4 182.8L112.1 181.5L112.7 179.7L113.4 177.5L114.1 174.9L114.8 172.1L115.5 169.2L116.2 166.2L116.9 163.1L117.6 160.2L118.3 157.4L119.0 155.0L119.7 152.9L120.4 151.1L121.1 151.3L121.8 151.7L122.5 152.7L123.1 154.1L123.8 156.3L124.5 159.2L125.2 163.2L125.9 168.6L126.6 175.9L127.3 186.0L128.0 201.2L128.7 221.9L129.4 221.9L130.1 221.9L130.8 202.2L131.5 187.0L132.2 177.5L132.8 171.3L133.5 167.8L134.2 166.7L134.9 167.8L135.6 171.5L136.3 178.6L137.0 190.6L137.7 212.3L138.4 221.9L139.1 221.9L139.8 200.2L140.5 184.4L141.2 175.8L141.9 171.9L142.5 172.0L143.2 176.2L143.9 185.7L144.6 204.6L145.3 221.9L146.0 221.9L146.7 198.2L147.4 181.9L148.1 174.1L148.8 172.1L149.5 175.4L150.2 185.5L150.9 207.6L151.6 221.9L152.3 217.1L152.9 188.9L153.6 176.5L154.3 172.1L155.0 174.0L155.7 183.2L156.4 204.9L157.1 221.9L157.8 215.0L158.5 187.0L159.2 175.2L159.9 171.9L160.6 175.7L161.3 188.6L162.0 221.2L162.6 221.9L163.3 197.3L164.0 178.7L164.7 171.5L165.4 172.3L166.1 181.5L166.8 205.2L167.5 221.9L168.2 204.6L168.9 180.3L169.6 170.6L170.3 169.5L171.0 176.7L171.7 196.6L172.4 221.9L173.0 209.1L173.7 180.3L174.4 168.8L175.1 166.3L175.8 171.9L176.5 188.8L177.2 221.9L177.9 216.0L178.6 180.7L179.3 166.8L180.0 162.5L180.7 165.9L181.4 178.9L182.1 213.2L182.7 221.9L183.4 183.7L184.1 165.5L184.8 158.1L185.5 158.3L186.2 166.2L186.9 186.6L187.6 221.9L188.3 197.0L189.0 167.6L189.7 154.8L190.4 150.0L191.1 151.9L191.8 161.2L192.4 184.0L193.1 221.9L193.8 185.3L194.5 158.4L195.2 145.7L195.9 140.4L196.6 140.8L197.3 147.2L198.0 162.8L198.7 204.1L199.4 202.0L200.1 157.9L200.8 139.1L201.5 128.9L202.2 124.2L202.8 124.2L203.5 129.3L204.2 142.6L204.9 177.6L205.6 187.0L206.3 134.3L207.0 110.3L207.7 94.6L208.4 83.1L209.1 74.3L209.8 67.5L210.5 62.2L211.2 58.0L211.9 54.9L212.5 52.6L213.2 51.1L213.9 50.3L214.6 50.1L215.3 50.4L216.0 51.3L216.7 52.6L217.4 54.3L218.1 56.5L218.8 59.0L219.5 61.9L220.2 65.2L220.9 68.7L221.6 72.6L222.2 76.8L222.9 81.4L223.6 86.2L224.3 91.4L225.0 96.7L225.7 102.1L226.4 107.8L227.1 114.2L227.8 120.8L228.5 127.6L229.2 134.5L229.9 141.5L230.6 148.5L231.3 155.3L232.0 161.9L232.6 168.0L233.3 173.4L234.0 177.7L234.7 180.6L235.4 182.9L236.1 183.5L236.8 177.8L237.5 172.0L238.2 166.3L238.9 160.7L239.6 155.3L240.3 150.2L241.0 145.3L241.7 140.6L242.3 135.6L243.0 130.9L243.7 126.5L244.4 122.2L245.1 118.2L245.8 114.4L246.5 110.9L247.2 107.7L247.9 104.7L248.6 102.0L249.3 100.4L250.0 99.1L250.7 98.1L251.4 97.4L252.1 99.9L252.7 102.7L253.4 106.0L254.1 109.7L254.8 113.9L255.5 118.7L256.2 121.6L256.9 125.2L257.6 129.7L258.3 135.1L259.0 141.7L259.7 149.7L260.4 159.5L261.1 171.7L261.8 185.6L262.4 205.5L263.1 221.9L263.8 221.9L264.5 221.9L265.2 216.8L265.9 209.5L266.6 208.0L267.3 211.4L268.0 220.4L268.7 221.9L269.4 221.9L270.1 221.9L270.8 221.9L271.5 221.9L272.2 219.0L272.8 217.7L273.5 221.9L274.2 221.9L274.9 221.9L275.6 221.9L276.3 221.9L277.0 221.9L277.7 221.9L278.4 221.9L279.1 221.9L279.8 221.9L280.5 221.9L281.2 221.9L281.9 221.9L282.5 221.9L283.2 221.9L283.9 221.9L284.6 221.9L285.3 221.9L286.0 221.9L286.7 221.9L287.4 221.9L288.1 221.9L288.8 221.9L289.5 221.9L290.2 221.9L290.9 221.9L291.6 221.9L292.2 221.9L292.9 221.9L293.6 221.9L294.3 221.9L295.0 221.9L295.7 221.9L296.4 221.9L297.1 221.9" stroke="#0a0a0a" stroke-width="1.6" clip-path="url(#clipaf)"/>
<path d="M47.6 170.6L47.9 170.6L48.3 170.9L48.6 171.5L49.0 172.4L49.3 173.9L49.7 175.8L50.0 178.7L50.4 182.7L50.7 188.8L51.1 198.2L51.4 213.5L51.8 221.9L52.1 221.9L52.5 221.9L52.8 212.2L53.1 205.1L53.5 202.6L53.8 202.6L54.2 203.2L54.5 202.0L54.9 198.2L55.2 193.5L55.6 189.0L55.9 185.7L56.3 183.7L56.6 183.6L57.0 185.5L57.3 191.0L57.6 201.4L58.0 219.2L58.3 221.9L58.7 217.3L59.0 197.7L59.4 185.6L59.7 178.0L60.1 173.4L60.4 170.6L60.8 168.9L61.1 168.1L61.5 168.5L61.8 169.7L62.2 172.3L62.5 176.1L62.8 181.8L63.2 188.8L63.5 197.0L63.9 206.5L64.2 217.6L64.6 221.9L64.9 221.9L65.3 221.9L65.6 221.9L66.0 218.0L66.3 209.4L66.7 201.9L67.0 195.4L67.4 189.8L67.7 185.7L68.0 183.0L68.4 181.4L68.7 181.6L69.1 184.0L69.4 188.6L69.8 196.3L70.1 208.1L70.5 221.9L70.8 221.9L71.2 221.9L71.5 221.9L71.9 221.9L72.2 221.9L72.6 221.9L72.9 221.9L73.2 221.9L73.6 221.9L73.9 221.9L74.3 221.9L74.6 215.9L75.0 203.1L75.3 193.4L75.7 185.6L76.0 179.1L76.4 174.1L76.7 170.4L77.1 167.8L77.4 166.1L77.7 165.8L78.1 166.3L78.4 167.7L78.8 169.7L79.1 172.4L79.5 175.6L79.8 179.6L80.2 184.4L80.5 190.2L80.9 196.8L81.2 203.1L81.6 206.7L81.9 205.4L82.3 200.6L82.6 195.4L82.9 190.5L83.3 187.0L83.6 185.0L84.0 184.2L84.3 184.4L84.7 185.2L85.0 186.5L85.4 187.9L85.7 188.6L86.1 188.9L86.4 188.4L86.8 186.9L87.1 185.0L87.5 182.9L87.8 180.6L88.1 179.0L88.5 177.6L88.8 176.8L89.2 176.3L89.5 176.1L89.9 175.9L90.2 176.0L90.6 176.1L90.9 176.0L91.3 175.5L91.6 174.5L92.0 173.2L92.3 171.5L92.6 169.6L93.0 167.7L93.3 165.8L93.7 164.3L94.0 162.9L94.4 161.5L94.7 160.2L95.1 159.2L95.4 158.2L95.8 157.4L96.1 156.7L96.5 156.1L96.8 155.7L97.2 155.4L97.5 155.1L97.8 155.0L98.2 155.0L98.5 155.1L98.9 155.3L99.2 155.5L99.6 155.7L99.9 155.9L100.3 156.1L100.6 156.2L101.0 156.3L101.3 156.4L101.7 156.4L102.0 156.4L102.4 156.3L102.7 156.1L103.0 155.9L103.4 155.3L103.7 154.7L104.1 154.1L104.4 153.3L104.8 152.5L105.1 151.6L105.5 150.7L105.8 149.7L106.2 148.7L106.5 147.7L106.9 146.6L107.2 145.5L107.5 144.4L107.9 143.3L108.2 142.2L108.6 141.1L108.9 140.7L109.3 140.2L109.6 139.9L110.0 146.4L110.3 146.2L110.7 146.1L111.0 146.1L111.4 146.2L111.7 146.4L112.1 146.7L112.4 147.1L112.7 147.6L113.1 148.3L113.4 149.1L113.8 150.1L114.1 151.2L114.5 152.6L114.8 154.2L115.2 156.0L115.5 158.0L115.9 160.3L116.2 162.8L116.6 165.7L116.9 168.8L117.3 172.3L117.6 176.1L117.9 180.4L118.3 184.9L118.6 190.0L119.0 195.6L119.3 201.5L119.7 207.4L120.0 211.2L120.4 210.6L120.7 203.8L121.1 194.3L121.4 184.7L121.8 175.9L122.1 168.5L122.5 162.8L122.8 158.6L123.1 155.8L123.5 154.2L123.8 153.7L124.2 154.0L124.5 154.7L124.9 155.1L125.2 154.9L125.6 153.9L125.9 152.0L126.3 149.3L126.6 146.2L127.0 142.9L127.3 139.5L127.6 136.3L128.0 133.6L128.3 131.6L128.7 130.5L129.0 130.3L129.4 131.1L129.7 132.3L130.1 133.8L130.4 135.6L130.8 137.7L131.1 140.2L131.5 143.7L131.8 148.7L132.2 155.7L132.5 165.8L132.8 178.3L133.2 189.9L133.5 192.8L133.9 183.1L134.2 170.3L134.6 160.4L134.9 155.4L135.3 154.9L135.6 158.0L136.0 161.7L136.3 162.1L136.7 157.5L137.0 150.9L137.4 146.5L137.7 145.0L138.0 146.3L138.4 149.1L138.7 153.7L139.1 158.3L139.4 158.8L139.8 157.3L140.1 160.1L140.5 172.6L140.8 207.9L141.2 221.9L141.5 192.1L141.9 191.4L142.2 206.9L142.5 185.2L142.9 165.0L143.2 158.8L143.6 166.7L143.9 193.8L144.3 207.7L144.6 176.5L145.0 168.9L145.3 175.2L145.7 188.1L146.0 193.6L146.4 184.5L146.7 174.0L147.1 172.7L147.4 182.8L147.7 191.5L148.1 178.9L148.4 177.2L148.8 206.2L149.1 210.0L149.5 165.5L149.8 152.7L150.2 148.4L150.5 146.5L150.9 147.4L151.2 152.2L151.6 156.4L151.9 156.2L152.3 154.1L152.6 155.9L152.9 166.8L153.3 194.5L153.6 221.9L154.0 221.9L154.3 221.9L154.7 196.3L155.0 167.6L155.4 153.2L155.7 146.0L156.1 141.4L156.4 139.1L156.8 139.7L157.1 142.6L157.4 146.8L157.8 151.8L158.1 153.6L158.5 149.8L158.8 144.6L159.2 143.4L159.5 150.1L159.9 173.9L160.2 221.9L160.6 181.5L160.9 167.7L161.3 155.2L161.6 140.6L162.0 133.1L162.3 136.0L162.6 149.0L163.0 167.8L163.3 183.7L163.7 195.6L164.0 205.7L164.4 221.9L164.7 177.2L165.1 152.3L165.4 151.0L165.8 179.1L166.1 181.6L166.5 145.1L166.8 134.4L167.2 136.9L167.5 152.6L167.8 175.6L168.2 178.2L168.5 160.8L168.9 146.9L169.2 146.9L169.6 162.6L169.9 176.1L170.3 178.5L170.6 185.5L171.0 178.1L171.3 178.0L171.7 215.3L172.0 182.6L172.4 159.0L172.7 154.5L173.0 154.0L173.4 154.6L173.7 156.8L174.1 157.4L174.4 152.8L174.8 147.6L175.1 148.0L175.5 156.9L175.8 171.0L176.2 177.6L176.5 181.9L176.9 201.3L177.2 221.9L177.5 200.1L177.9 163.7L178.2 149.0L178.6 144.0L178.9 141.3L179.3 142.4L179.6 150.6L180.0 165.5L180.3 173.1L180.7 165.8L181.0 159.8L181.4 155.2L181.7 152.6L182.1 149.5L182.4 143.9L182.7 140.1L183.1 138.7L183.4 137.2L183.8 136.0L184.1 135.8L184.5 135.9L184.8 136.1L185.2 139.1L185.5 152.1L185.9 192.4L186.2 166.8L186.6 145.8L186.9 140.7L187.3 141.9L187.6 145.7L187.9 147.6L188.3 146.7L188.6 145.1L189.0 144.2L189.3 143.9L189.7 143.2L190.0 142.2L190.4 143.6L190.7 148.2L191.1 152.4L191.4 159.8L191.8 182.7L192.1 209.8L192.4 166.4L192.8 144.6L193.1 132.0L193.5 124.2L193.8 120.6L194.2 121.0L194.5 122.2L194.9 121.4L195.2 119.0L195.6 117.4L195.9 117.6L196.3 119.8L196.6 124.7L197.0 132.3L197.3 143.0L197.6 158.5L198.0 182.3L198.3 221.9L198.7 188.8L199.0 160.8L199.4 146.0L199.7 135.7L200.1 127.2L200.4 120.1L200.8 114.1L201.1 109.5L201.5 106.6L201.8 105.9L202.2 107.3L202.5 110.5L202.8 114.8L203.2 119.9L203.5 126.0L203.9 133.8L204.2 143.7L204.6 156.3L204.9 172.2L205.3 182.1L205.6 157.8L206.0 135.1L206.3 119.3L206.7 107.6L207.0 98.3L207.3 90.5L207.7 83.9L208.0 78.2L208.4 73.3L208.7 69.0L209.1 65.3L209.4 62.0L209.8 59.1L210.1 56.6L210.5 54.4L210.8 52.5L211.2 50.9L211.5 49.5L211.9 48.3L212.2 47.3L212.5 46.5L212.9 46.0L213.2 45.5L213.6 45.3L213.9 45.2L214.3 45.3L214.6 45.5L215.0 45.9L215.3 46.3L215.7 46.9L216.0 47.7L216.4 48.5L216.7 49.5L217.1 50.5L217.4 51.7L217.7 53.0L218.1 54.5L218.4 56.0L218.8 57.7L219.1 59.4L219.5 61.3L219.8 63.3L220.2 65.4L220.5 67.6L220.9 69.9L221.2 72.4L221.6 74.9L221.9 77.6L222.2 80.5L222.6 83.4L222.9 86.6L223.3 89.9L223.6 93.5L224.0 97.2L224.3 101.3L224.7 105.3L225.0 109.4L225.4 113.7L225.7 118.0L226.1 122.6L226.4 127.2L226.8 132.4L227.1 137.8L227.4 143.5L227.8 149.7L228.1 156.4L228.5 163.8L228.8 172.0L229.2 181.4L229.5 192.0L229.9 203.3L230.2 212.5L230.6 214.6L230.9 209.2L231.3 201.4L231.6 194.4L232.0 188.5L232.3 183.8L232.6 180.1L233.0 177.1L233.3 174.8L233.7 173.0L234.0 171.7L234.4 170.9L234.7 170.4L235.1 150.4L235.4 150.5L235.8 150.7L236.1 151.1L236.5 153.5L236.8 156.2L237.2 159.1L237.5 162.4L237.8 166.0L238.2 170.0L238.5 174.4L238.9 179.5L239.2 185.3L239.6 192.0L239.9 199.5L240.3 207.4L240.6 213.9L241.0 214.9L241.3 209.3L241.7 200.5L242.0 191.1L242.3 182.4L242.7 174.7L243.0 167.7L243.4 161.4L243.7 155.6L244.1 150.4L244.4 145.6L244.8 141.1L245.1 136.9L245.5 133.0L245.8 129.3L246.2 125.9L246.5 122.7L246.9 119.6L247.2 116.8L247.5 114.1L247.9 111.6L248.2 109.2L248.6 106.9L248.9 105.3L249.3 103.8L249.6 102.4L250.0 101.1L250.3 99.9L250.7 98.8L251.0 97.8L251.4 96.9L251.7 97.6L252.1 98.3L252.4 99.6L252.7 100.9L253.1 102.2L253.4 103.5L253.8 104.8L254.1 106.1L254.5 107.4L254.8 108.6L255.2 109.9L255.5 111.1L255.9 111.4L256.2 111.9L256.6 112.5L256.9 113.3L257.2 114.2L257.6 115.4L257.9 116.7L258.3 118.3L258.6 120.1L259.0 122.3L259.3 124.8L259.7 127.7L260.0 130.9L260.4 134.5L260.7 138.4L261.1 142.8L261.4 147.0L261.8 151.4L262.1 156.0L262.4 160.6L262.8 165.6L263.1 170.9L263.5 176.5L263.8 182.6L264.2 189.1L264.5 196.5L264.9 204.7L265.2 213.8L265.6 221.9L265.9 221.9L266.3 221.9L266.6 221.9L267.0 221.9L267.3 221.9L267.6 221.9L268.0 221.9L268.3 221.9L268.7 214.1L269.0 205.7L269.4 198.7L269.7 192.9L270.1 188.5L270.4 185.2L270.8 182.9L271.1 181.0L271.5 179.8L271.8 179.2L272.2 178.6L272.5 178.4L272.8 178.4L273.2 178.7L273.5 179.2L273.9 180.5L274.2 182.0L274.6 184.5L274.9 187.9L275.3 192.3L275.6 197.6L276.0 203.9L276.3 209.6L276.7 213.5L277.0 213.1L277.3 208.5L277.7 202.4L278.0 195.8L278.4 191.0L278.7 188.3L279.1 187.7L279.4 190.7L279.8 197.2L280.1 208.3L280.5 221.9L280.8 221.9L281.2 221.9L281.5 221.9L281.9 221.9L282.2 221.9L282.5 221.0L282.9 206.7L283.2 194.6L283.6 184.9L283.9 176.9L284.3 170.7L284.6 166.0L285.0 162.9L285.3 161.1L285.7 160.1L286.0 160.2L286.4 161.3L286.7 163.2L287.1 166.1L287.4 169.3L287.7 172.4L288.1 173.8L288.4 173.7L288.8 173.2L289.1 174.0L289.5 177.3L289.8 184.5L290.2 196.6L290.5 214.4L290.9 221.9L291.2 219.9L291.6 208.9L291.9 202.5L292.2 199.6L292.6 199.1L292.9 198.6L293.3 197.0L293.6 193.7L294.0 189.4L294.3 184.6L294.7 179.6L295.0 175.8L295.4 173.0L295.7 171.4L296.1 170.8L296.4 170.7L296.8 170.6L297.1 170.6" stroke="#d8281e" stroke-width="1.35" stroke-dasharray="5 1.5 1 1.8"/>
<path d="M47.6 221.9L48.3 221.9L49.0 221.9L49.7 221.9L50.4 221.9L51.1 221.9L51.8 221.9L52.5 221.9L53.1 221.9L53.8 221.9L54.5 221.9L55.2 221.9L55.9 221.9L56.6 221.9L57.3 221.9L58.0 221.9L58.7 221.9L59.4 221.9L60.1 221.9L60.8 221.9L61.5 221.9L62.2 221.9L62.8 221.9L63.5 221.9L64.2 221.9L64.9 221.9L65.6 221.9L66.3 221.9L67.0 221.9L67.7 221.9L68.4 221.9L69.1 221.9L69.8 221.9L70.5 221.9L71.2 221.9L71.9 217.7L72.6 219.0L73.2 221.9L73.9 221.9L74.6 221.9L75.3 221.9L76.0 221.9L76.7 220.4L77.4 211.4L78.1 208.0L78.8 209.5L79.5 216.8L80.2 221.9L80.9 221.9L81.6 221.9L82.3 205.5L82.9 185.6L83.6 171.7L84.3 159.5L85.0 149.7L85.7 141.7L86.4 135.1L87.1 129.7L87.8 125.2L88.5 121.6L89.2 118.7L89.9 113.9L90.6 109.7L91.3 106.0L92.0 102.7L92.6 99.9L93.3 97.4L94.0 98.1L94.7 99.1L95.4 100.4L96.1 102.0L96.8 104.7L97.5 107.7L98.2 110.9L98.9 114.4L99.6 118.2L100.3 122.2L101.0 126.5L101.7 130.9L102.4 135.6L103.0 140.6L103.7 145.3L104.4 150.2L105.1 155.3L105.8 160.7L106.5 166.3L107.2 172.0L107.9 177.8L108.6 183.5L109.3 182.9L110.0 180.6L110.7 177.7L111.4 173.4L112.1 168.0L112.7 161.9L113.4 155.3L114.1 148.5L114.8 141.5L115.5 134.5L116.2 127.6L116.9 120.8L117.6 114.2L118.3 107.8L119.0 102.1L119.7 96.7L120.4 91.4L121.1 86.2L121.8 81.4L122.5 76.8L123.1 72.6L123.8 68.7L124.5 65.2L125.2 61.9L125.9 59.0L126.6 56.5L127.3 54.3L128.0 52.6L128.7 51.3L129.4 50.4L130.1 50.1L130.8 50.3L131.5 51.1L132.2 52.6L132.8 54.9L133.5 58.0L134.2 62.2L134.9 67.5L135.6 74.3L136.3 83.1L137.0 94.6L137.7 110.3L138.4 134.3L139.1 187.0L139.8 177.6L140.5 142.6L141.2 129.3L141.9 124.2L142.5 124.2L143.2 128.9L143.9 139.1L144.6 157.9L145.3 202.0L146.0 204.1L146.7 162.8L147.4 147.2L148.1 140.8L148.8 140.4L149.5 145.7L150.2 158.4L150.9 185.3L151.6 221.9L152.3 184.0L152.9 161.2L153.6 151.9L154.3 150.0L155.0 154.8L155.7 167.6L156.4 197.0L157.1 221.9L157.8 186.6L158.5 166.2L159.2 158.3L159.9 158.1L160.6 165.5L161.3 183.7L162.0 221.9L162.6 213.2L163.3 178.9L164.0 165.9L164.7 162.5L165.4 166.8L166.1 180.7L166.8 216.0L167.5 221.9L168.2 188.8L168.9 171.9L169.6 166.3L170.3 168.8L171.0 180.3L171.7 209.1L172.4 221.9L173.0 196.6L173.7 176.7L174.4 169.5L175.1 170.6L175.8 180.3L176.5 204.6L177.2 221.9L177.9 205.2L178.6 181.5L179.3 172.3L180.0 171.5L180.7 178.7L181.4 197.3L182.1 221.9L182.7 221.2L183.4 188.6L184.1 175.7L184.8 171.9L185.5 175.2L186.2 187.0L186.9 215.0L187.6 221.9L188.3 204.9L189.0 183.2L189.7 174.0L190.4 172.1L191.1 176.5L191.8 188.9L192.4 217.1L193.1 221.9L193.8 207.6L194.5 185.5L195.2 175.4L195.9 172.1L196.6 174.1L197.3 181.9L198.0 198.2L198.7 221.9L199.4 221.9L200.1 204.6L200.8 185.7L201.5 176.2L202.2 172.0L202.8 171.9L203.5 175.8L204.2 184.4L204.9 200.2L205.6 221.9L206.3 221.9L207.0 212.3L207.7 190.6L208.4 178.6L209.1 171.5L209.8 167.8L210.5 166.7L211.2 167.8L211.9 171.3L212.5 177.5L213.2 187.0L213.9 202.2L214.6 221.9L215.3 221.9L216.0 221.9L216.7 201.2L217.4 186.0L218.1 175.9L218.8 168.6L219.5 163.2L220.2 159.2L220.9 156.3L221.6 154.1L222.2 152.7L222.9 151.7L223.6 151.3L224.3 151.1L225.0 152.9L225.7 155.0L226.4 157.4L227.1 160.2L227.8 163.1L228.5 166.2L229.2 169.2L229.9 172.1L230.6 174.9L231.3 177.5L232.0 179.7L232.6 181.5L233.3 182.8L234.0 183.6L234.7 183.8L235.4 183.3L236.1 182.4L236.8 184.8L237.5 186.6L238.2 187.9L238.9 188.9L239.6 189.5L240.3 189.8L241.0 190.0L241.7 190.0L242.3 189.4L243.0 188.9L243.7 188.4L244.4 188.2L245.1 188.2L245.8 188.6L246.5 189.3L247.2 190.5L247.9 192.3L248.6 194.7L249.3 198.0L250.0 202.5L250.7 208.6L251.4 216.9L252.1 221.9L252.7 221.9L253.4 221.9L254.1 221.9L254.8 221.9L255.5 221.9L256.2 221.9L256.9 221.9L257.6 221.9L258.3 221.9L259.0 221.9L259.7 221.9L260.4 221.9L261.1 221.9L261.8 221.9L262.4 221.9L263.1 221.9L263.8 221.9L264.5 221.9L265.2 221.9L265.9 221.9L266.6 221.9L267.3 221.9L268.0 221.9L268.7 221.9L269.4 221.9L270.1 221.9L270.8 221.9L271.5 221.9L272.2 221.9L272.8 221.9L273.5 221.9L274.2 221.9L274.9 221.9L275.6 221.9L276.3 221.9L277.0 221.9L277.7 221.9L278.4 221.9L279.1 221.9L279.8 221.9L280.5 221.9L281.2 221.9L281.9 221.9L282.5 221.9L283.2 221.9L283.9 221.9L284.6 221.9L285.3 221.9L286.0 221.9L286.7 221.9L287.4 221.9L288.1 221.9L288.8 221.9L289.5 221.9L290.2 221.9L290.9 221.9L291.6 221.9L292.2 221.9L292.9 221.9L293.6 221.9L294.3 221.9L295.0 221.9L295.7 221.9L296.4 221.9L297.1 221.9" stroke="#0a0a0a" stroke-width="1.6" clip-path="url(#clipaf)"/>
<path d="M47.6 177.8L47.9 173.3L48.3 169.8L48.6 167.8L49.0 167.2L49.3 168.1L49.7 170.6L50.0 175.6L50.4 183.4L50.7 193.4L51.1 204.4L51.4 207.1L51.8 199.1L52.1 190.7L52.5 185.2L52.8 183.0L53.1 183.5L53.5 185.9L53.8 190.5L54.2 195.4L54.5 199.4L54.9 200.1L55.2 197.6L55.6 194.7L55.9 193.6L56.3 195.1L56.6 200.1L57.0 208.5L57.3 221.9L57.6 221.9L58.0 221.9L58.3 221.9L58.7 221.9L59.0 221.9L59.4 221.9L59.7 221.9L60.1 221.9L60.4 221.9L60.8 221.9L61.1 221.9L61.5 221.9L61.8 221.9L62.2 221.9L62.5 221.9L62.8 221.9L63.2 221.9L63.5 221.9L63.9 221.9L64.2 221.9L64.6 221.9L64.9 221.9L65.3 213.8L65.6 195.5L66.0 181.6L66.3 170.8L66.7 162.8L67.0 156.9L67.4 152.6L67.7 149.7L68.0 148.2L68.4 147.8L68.7 148.7L69.1 150.6L69.4 153.6L69.8 157.7L70.1 162.8L70.5 169.0L70.8 176.2L71.2 183.6L71.5 191.2L71.9 197.1L72.2 200.7L72.6 202.3L72.9 202.6L73.2 203.6L73.6 205.6L73.9 209.7L74.3 215.1L74.6 220.8L75.0 221.9L75.3 215.4L75.7 205.0L76.0 195.4L76.4 187.5L76.7 181.5L77.1 176.8L77.4 173.0L77.7 170.3L78.1 167.7L78.4 165.7L78.8 163.9L79.1 162.4L79.5 161.2L79.8 160.2L80.2 159.5L80.5 159.3L80.9 159.4L81.2 160.0L81.6 161.3L81.9 163.5L82.3 166.7L82.6 171.5L82.9 178.7L83.3 189.0L83.6 206.2L84.0 221.9L84.3 221.9L84.7 198.7L85.0 177.2L85.4 162.9L85.7 152.3L86.1 143.9L86.4 137.2L86.8 131.9L87.1 127.5L87.5 123.9L87.8 120.9L88.1 118.5L88.5 116.5L88.8 114.9L89.2 113.6L89.5 111.5L89.9 109.7L90.2 108.0L90.6 106.3L90.9 104.8L91.3 103.3L91.6 101.8L92.0 100.4L92.3 99.1L92.6 97.8L93.0 97.0L93.3 96.3L93.7 97.1L94.0 98.0L94.4 99.0L94.7 100.1L95.1 101.3L95.4 102.5L95.8 103.9L96.1 105.4L96.5 107.5L96.8 109.7L97.2 112.0L97.5 114.5L97.8 117.1L98.2 119.9L98.5 122.9L98.9 126.1L99.2 129.5L99.6 133.2L99.9 137.1L100.3 141.3L100.6 145.8L101.0 150.8L101.3 156.2L101.7 162.2L102.0 169.0L102.4 176.8L102.7 186.0L103.0 197.2L103.4 211.4L103.7 221.9L104.1 221.9L104.4 221.9L104.8 221.9L105.1 215.5L105.5 202.5L105.8 193.0L106.2 185.5L106.5 179.5L106.9 174.2L107.2 169.8L107.5 165.9L107.9 162.5L108.2 159.4L108.6 156.7L108.9 156.3L109.3 156.2L109.6 156.2L110.0 187.9L110.3 188.5L110.7 189.4L111.0 190.6L111.4 192.1L111.7 193.6L112.1 194.9L112.4 195.7L112.7 195.6L113.1 194.1L113.4 191.1L113.8 187.0L114.1 182.2L114.5 176.8L114.8 171.5L115.2 166.3L115.5 161.4L115.9 156.6L116.2 152.1L116.6 147.8L116.9 143.6L117.3 139.4L117.6 135.1L117.9 130.8L118.3 126.4L118.6 122.2L119.0 117.9L119.3 113.6L119.7 109.3L120.0 105.1L120.4 101.0L120.7 96.9L121.1 93.0L121.4 89.4L121.8 86.0L122.1 82.9L122.5 79.9L122.8 77.2L123.1 74.5L123.5 72.1L123.8 69.7L124.2 67.4L124.5 65.3L124.9 63.2L125.2 61.3L125.6 59.5L125.9 57.8L126.3 56.2L126.6 54.7L127.0 53.3L127.3 52.1L127.6 50.9L128.0 49.8L128.3 48.8L128.7 47.9L129.0 47.1L129.4 46.5L129.7 46.0L130.1 45.6L130.4 45.4L130.8 45.3L131.1 45.3L131.5 45.6L131.8 45.9L132.2 46.5L132.5 47.2L132.8 48.1L133.2 49.2L133.5 50.6L133.9 52.2L134.2 54.0L134.6 56.2L134.9 58.6L135.3 61.5L135.6 64.7L136.0 68.4L136.3 72.7L136.7 77.7L137.0 83.2L137.4 89.5L137.7 96.3L138.0 103.9L138.4 112.5L138.7 123.8L139.1 141.5L139.4 169.2L139.8 165.2L140.1 143.4L140.5 130.9L140.8 123.6L141.2 118.7L141.5 114.8L141.9 111.2L142.2 107.9L142.5 105.6L142.9 104.9L143.2 105.9L143.6 108.3L143.9 111.6L144.3 115.9L144.6 122.1L145.0 130.7L145.3 141.5L145.7 153.9L146.0 166.8L146.4 179.6L146.7 203.8L147.1 221.9L147.4 164.9L147.7 143.8L148.1 135.0L148.4 131.7L148.8 131.1L149.1 130.4L149.5 127.5L149.8 123.1L150.2 119.9L150.5 119.1L150.9 120.8L151.2 124.6L151.6 130.2L151.9 138.6L152.3 147.2L152.6 153.2L152.9 160.8L153.3 179.5L153.6 221.9L154.0 173.4L154.3 144.2L154.7 134.0L155.0 134.9L155.4 140.7L155.7 147.5L156.1 157.8L156.4 174.5L156.8 185.4L157.1 194.7L157.4 214.1L157.8 221.9L158.1 221.9L158.5 196.6L158.8 189.8L159.2 207.8L159.5 195.5L159.9 166.0L160.2 146.9L160.6 135.3L160.9 129.5L161.3 127.9L161.6 130.2L162.0 135.0L162.3 142.2L162.6 159.0L163.0 198.4L163.3 173.8L163.7 160.1L164.0 158.8L164.4 160.2L164.7 167.5L165.1 184.9L165.4 195.2L165.8 189.6L166.1 189.0L166.5 178.6L166.8 170.1L167.2 168.2L167.5 157.9L167.8 146.4L168.2 144.9L168.5 156.9L168.9 186.0L169.2 221.9L169.6 221.9L169.9 192.5L170.3 181.9L170.6 174.4L171.0 168.2L171.3 165.8L171.7 165.2L172.0 164.1L172.4 170.6L172.7 177.1L173.0 157.9L173.4 140.8L173.7 141.4L174.1 160.4L174.4 165.9L174.8 147.6L175.1 138.9L175.5 136.9L175.8 139.1L176.2 142.4L176.5 143.6L176.9 142.4L177.2 143.3L177.5 150.0L177.9 165.9L178.2 193.8L178.6 171.3L178.9 163.0L179.3 176.1L179.6 187.7L180.0 183.4L180.3 171.8L180.7 159.6L181.0 155.4L181.4 153.6L181.7 147.8L182.1 144.1L182.4 145.4L182.7 147.0L183.1 143.3L183.4 139.7L183.8 143.6L184.1 156.1L184.5 173.3L184.8 185.2L185.2 186.0L185.5 173.9L185.9 158.8L186.2 147.6L186.6 140.5L186.9 135.7L187.3 132.9L187.6 134.4L187.9 143.0L188.3 156.7L188.6 166.2L189.0 169.3L189.3 170.6L189.7 174.9L190.0 200.6L190.4 182.2L190.7 150.0L191.1 140.9L191.4 140.9L191.8 143.7L192.1 147.8L192.4 150.5L192.8 150.3L193.1 149.0L193.5 148.9L193.8 151.6L194.2 156.3L194.5 159.2L194.9 165.5L195.2 182.8L195.6 202.4L195.9 194.6L196.3 205.2L196.6 221.9L197.0 206.0L197.3 194.9L197.6 209.6L198.0 221.9L198.3 201.5L198.7 173.0L199.0 155.2L199.4 144.2L199.7 138.4L200.1 136.3L200.4 135.8L200.8 136.9L201.1 140.9L201.5 148.1L201.8 158.3L202.2 168.3L202.5 174.7L202.8 174.7L203.2 171.6L203.5 169.9L203.9 168.9L204.2 168.3L204.6 175.0L204.9 202.2L205.3 210.0L205.6 167.3L206.0 149.5L206.3 142.7L206.7 142.7L207.0 147.1L207.3 153.1L207.7 156.9L208.0 156.1L208.4 151.1L208.7 145.4L209.1 142.2L209.4 142.9L209.8 146.9L210.1 150.8L210.5 150.9L210.8 147.8L211.2 144.7L211.5 143.6L211.9 144.7L212.2 145.9L212.5 144.0L212.9 139.0L213.2 133.9L213.6 130.4L213.9 128.7L214.3 128.0L214.6 127.3L215.0 126.4L215.3 125.1L215.7 123.8L216.0 123.2L216.4 123.3L216.7 124.3L217.1 126.5L217.4 130.1L217.7 134.8L218.1 140.4L218.4 146.1L218.8 150.7L219.1 153.2L219.5 153.3L219.8 151.6L220.2 149.1L220.5 146.6L220.9 144.6L221.2 143.7L221.6 143.7L221.9 144.2L222.2 145.3L222.6 146.8L222.9 148.5L223.3 150.3L223.6 152.3L224.0 154.5L224.3 157.0L224.7 160.4L225.0 163.9L225.4 168.0L225.7 172.3L226.1 177.0L226.4 182.1L226.8 187.4L227.1 192.8L227.4 197.8L227.8 202.3L228.1 205.6L228.5 206.9L228.8 206.5L229.2 204.5L229.5 201.7L229.9 198.2L230.2 194.6L230.6 191.3L230.9 188.3L231.3 185.7L231.6 183.5L232.0 181.6L232.3 180.0L232.6 178.7L233.0 177.6L233.3 176.7L233.7 176.1L234.0 175.8L234.4 175.6L234.7 175.7L235.1 185.0L235.4 185.6L235.8 186.4L236.1 187.5L236.5 190.3L236.8 193.2L237.2 196.2L237.5 199.2L237.8 202.2L238.2 204.8L238.5 207.0L238.9 208.3L239.2 208.6L239.6 208.0L239.9 206.2L240.3 203.7L240.6 200.8L241.0 197.8L241.3 194.7L241.7 191.6L242.0 188.5L242.3 185.7L242.7 182.9L243.0 180.4L243.4 178.0L243.7 175.8L244.1 173.8L244.4 171.9L244.8 170.1L245.1 168.5L245.5 167.1L245.8 165.8L246.2 164.6L246.5 163.5L246.9 162.5L247.2 161.6L247.5 160.7L247.9 159.9L248.2 159.2L248.6 158.4L248.9 157.7L249.3 157.1L249.6 156.5L250.0 155.9L250.3 155.5L250.7 155.1L251.0 154.8L251.4 154.6L251.7 154.8L252.1 155.0L252.4 155.5L252.7 156.0L253.1 156.6L253.4 157.4L253.8 158.3L254.1 159.2L254.5 160.2L254.8 161.3L255.2 162.6L255.5 164.1L255.9 166.1L256.2 168.5L256.6 171.6L256.9 175.4L257.2 179.8L257.6 185.4L257.9 191.7L258.3 198.1L258.6 203.3L259.0 203.8L259.3 199.6L259.7 193.0L260.0 186.1L260.4 180.2L260.7 175.4L261.1 171.9L261.4 169.2L261.8 167.5L262.1 166.7L262.4 166.9L262.8 167.6L263.1 169.3L263.5 171.7L263.8 174.9L264.2 178.9L264.5 183.6L264.9 188.8L265.2 194.1L265.6 198.0L265.9 199.4L266.3 197.9L266.6 194.9L267.0 191.3L267.3 187.3L267.6 183.8L268.0 181.0L268.3 178.3L268.7 175.5L269.0 172.9L269.4 170.1L269.7 167.2L270.1 164.1L270.4 160.8L270.8 158.0L271.1 155.3L271.5 153.1L271.8 151.1L272.2 149.7L272.5 148.5L272.8 147.8L273.2 147.5L273.5 147.5L273.9 148.0L274.2 149.1L274.6 150.8L274.9 152.9L275.3 155.8L275.6 159.5L276.0 164.2L276.3 170.0L276.7 177.2L277.0 186.1L277.3 195.4L277.7 199.3L278.0 193.1L278.4 182.4L278.7 172.7L279.1 165.3L279.4 160.2L279.8 157.0L280.1 155.7L280.5 155.8L280.8 157.3L281.2 160.1L281.5 163.9L281.9 168.4L282.2 173.9L282.5 179.6L282.9 185.2L283.2 191.1L283.6 196.6L283.9 201.7L284.3 206.3L284.6 209.6L285.0 211.0L285.3 208.0L285.7 202.4L286.0 196.2L286.4 190.6L286.7 186.6L287.1 184.6L287.4 184.6L287.7 187.0L288.1 191.7L288.4 200.0L288.8 213.6L289.1 221.9L289.5 221.9L289.8 220.9L290.2 198.5L290.5 183.6L290.9 172.9L291.2 165.4L291.6 160.3L291.9 157.6L292.2 156.8L292.6 158.3L292.9 162.1L293.3 168.6L293.6 178.1L294.0 191.7L294.3 212.6L294.7 221.9L295.0 221.9L295.4 221.9L295.7 209.9L296.1 198.3L296.4 190.2L296.8 183.2L297.1 177.8" stroke="#d8281e" stroke-width="1.35" stroke-dasharray="5 1.5 1 1.8"/>
<path d="M47.6 221.9L48.3 221.9L49.0 221.2L49.7 215.4L50.4 217.3L51.1 221.9L51.8 221.9L52.5 221.9L53.1 221.9L53.8 221.9L54.5 217.5L55.2 216.2L55.9 221.9L56.6 221.9L57.3 221.9L58.0 221.9L58.7 221.9L59.4 221.5L60.1 215.3L60.8 216.1L61.5 221.9L62.2 221.9L62.8 221.9L63.5 221.9L64.2 221.9L64.9 217.6L65.6 212.1L66.3 212.8L67.0 219.9L67.7 221.9L68.4 221.9L69.1 221.9L69.8 221.9L70.5 220.0L71.2 212.4L71.9 210.5L72.6 213.5L73.2 221.9L73.9 221.9L74.6 221.9L75.3 221.9L76.0 221.9L76.7 221.9L77.4 215.3L78.1 211.3L78.8 211.2L79.5 214.6L80.2 221.9L80.9 221.9L81.6 221.9L82.3 221.9L82.9 221.9L83.6 221.9L84.3 219.9L85.0 210.5L85.7 204.7L86.4 201.7L87.1 201.0L87.8 202.7L88.5 206.9L89.2 214.2L89.9 221.9L90.6 221.9L91.3 221.9L92.0 221.9L92.6 218.5L93.3 200.7L94.0 190.6L94.7 183.1L95.4 177.6L96.1 173.5L96.8 170.4L97.5 168.0L98.2 166.2L98.9 165.0L99.6 164.1L100.3 163.5L101.0 163.2L101.7 163.1L102.4 163.2L103.0 163.2L103.7 162.6L104.4 161.9L105.1 161.1L105.8 160.0L106.5 158.7L107.2 157.0L107.9 154.9L108.6 152.4L109.3 153.0L110.0 153.3L110.7 153.1L111.4 152.5L112.1 151.4L112.7 150.0L113.4 148.2L114.1 146.2L114.8 143.9L115.5 141.5L116.2 139.1L116.9 136.7L117.6 134.3L118.3 132.1L119.0 130.3L119.7 128.8L120.4 127.6L121.1 128.2L121.8 129.3L122.5 130.7L123.1 132.8L123.8 135.6L124.5 139.3L125.2 144.2L125.9 150.8L126.6 159.8L127.3 172.7L128.0 193.5L128.7 221.9L129.4 221.9L130.1 189.2L130.8 170.6L131.5 159.2L132.2 151.8L132.8 147.2L133.5 144.9L134.2 144.9L134.9 147.2L135.6 152.3L136.3 161.2L137.0 176.1L137.7 205.5L138.4 221.9L139.1 196.0L139.8 172.1L140.5 159.6L141.2 153.0L141.9 150.6L142.5 152.0L143.2 157.8L143.9 169.6L144.6 193.2L145.3 221.9L146.0 200.4L146.7 172.3L147.4 159.2L148.1 153.2L148.8 152.7L149.5 157.6L150.2 169.9L150.9 197.6L151.6 221.9L152.3 188.5L152.9 165.9L153.6 155.8L154.3 153.0L155.0 156.5L155.7 167.8L156.4 194.1L157.1 221.9L157.8 188.5L158.5 165.5L159.2 155.8L159.9 154.0L160.6 159.4L161.3 174.6L162.0 215.2L162.6 218.7L163.3 175.4L164.0 159.5L164.7 154.0L165.4 156.1L166.1 167.0L166.8 194.7L167.5 221.9L168.2 183.0L168.9 161.9L169.6 153.8L170.3 153.9L171.0 162.5L171.7 185.1L172.4 221.9L173.0 188.5L173.7 163.1L174.4 153.0L175.1 151.6L175.8 158.2L176.5 176.8L177.2 221.9L177.9 196.5L178.6 164.8L179.3 152.2L180.0 148.7L180.7 152.9L181.4 166.8L182.1 203.9L182.7 217.5L183.4 169.7L184.1 152.5L184.8 145.7L185.5 146.3L186.2 154.6L186.9 175.4L187.6 221.9L188.3 186.5L189.0 157.4L189.7 144.7L190.4 140.1L191.1 142.0L191.8 151.1L192.4 172.4L193.1 221.9L193.8 182.5L194.5 153.4L195.2 140.2L195.9 134.5L196.6 134.4L197.3 139.8L198.0 152.9L198.7 182.3L199.4 221.9L200.1 166.6L200.8 143.9L201.5 132.1L202.2 126.2L202.8 124.7L203.5 127.3L204.2 134.6L204.9 149.2L205.6 181.3L206.3 221.4L207.0 157.9L207.7 135.1L208.4 122.2L209.1 114.3L209.8 109.8L210.5 108.1L211.2 109.1L211.9 112.9L212.5 120.4L213.2 133.7L213.9 160.6L214.6 221.9L215.3 149.8L216.0 122.1L216.7 105.4L217.4 93.6L218.1 84.6L218.8 77.4L219.5 71.6L220.2 66.9L220.9 63.0L221.6 59.8L222.2 57.2L222.9 55.0L223.6 53.2L224.3 51.7L225.0 50.7L225.7 50.0L226.4 49.5L227.1 49.6L227.8 49.9L228.5 50.4L229.2 50.9L229.9 51.5L230.6 52.2L231.3 52.9L232.0 53.7L232.6 54.5L233.3 55.2L234.0 56.0L234.7 56.8L235.4 57.9L236.1 59.0L236.8 60.6L237.5 62.1L238.2 63.6L238.9 65.2L239.6 66.8L240.3 68.4L241.0 70.1L241.7 71.9L242.3 73.3L243.0 74.8L243.7 76.4L244.4 78.3L245.1 80.4L245.8 82.8L246.5 85.6L247.2 88.7L247.9 92.3L248.6 96.4L249.3 102.1L250.0 108.6L250.7 116.2L251.4 125.3L252.1 139.8L252.7 157.8L253.4 182.8L254.1 221.9L254.8 221.9L255.5 205.6L256.2 190.5L256.9 183.2L257.6 180.2L258.3 180.5L259.0 183.7L259.7 190.0L260.4 200.1L261.1 216.2L261.8 221.9L262.4 221.9L263.1 221.9L263.8 221.9L264.5 209.5L265.2 202.9L265.9 200.9L266.6 202.8L267.3 209.1L268.0 221.8L268.7 221.9L269.4 221.9L270.1 221.9L270.8 221.9L271.5 210.3L272.2 205.0L272.8 205.1L273.5 210.5L274.2 221.9L274.9 221.9L275.6 221.9L276.3 221.9L277.0 219.6L277.7 210.1L278.4 207.8L279.1 211.8L279.8 221.9L280.5 221.9L281.2 221.9L281.9 221.9L282.5 221.9L283.2 214.5L283.9 212.9L284.6 218.2L285.3 221.9L286.0 221.9L286.7 221.9L287.4 221.9L288.1 221.9L288.8 215.5L289.5 216.1L290.2 221.9L290.9 221.9L291.6 221.9L292.2 221.9L292.9 221.9L293.6 217.8L294.3 214.9L295.0 219.5L295.7 221.9L296.4 221.9L297.1 221.9" stroke="#0a0a0a" stroke-width="1.6" clip-path="url(#clipaf)"/>
<path d="M47.6 185.6L47.9 185.2L48.3 182.1L48.6 177.9L49.0 173.4L49.3 169.9L49.7 167.5L50.0 166.7L50.4 167.7L50.7 170.9L51.1 176.6L51.4 184.6L51.8 195.4L52.1 208.1L52.5 221.9L52.8 221.9L53.1 221.9L53.5 221.9L53.8 221.9L54.2 210.8L54.5 196.9L54.9 185.3L55.2 175.9L55.6 168.7L55.9 163.1L56.3 159.5L56.6 157.6L57.0 156.9L57.3 157.8L57.6 160.1L58.0 163.4L58.3 168.2L58.7 174.1L59.0 180.9L59.4 189.1L59.7 198.3L60.1 208.9L60.4 220.6L60.8 221.9L61.1 221.9L61.5 221.9L61.8 221.9L62.2 221.9L62.5 219.6L62.8 206.8L63.2 196.1L63.5 186.9L63.9 178.5L64.2 171.4L64.6 165.4L64.9 160.9L65.3 157.7L65.6 155.8L66.0 155.2L66.3 155.7L66.7 157.1L67.0 159.3L67.4 161.8L67.7 164.4L68.0 166.7L68.4 168.8L68.7 170.2L69.1 171.1L69.4 171.6L69.8 172.8L70.1 174.9L70.5 177.8L70.8 182.7L71.2 189.7L71.5 198.1L71.9 205.1L72.2 204.8L72.6 197.3L72.9 188.1L73.2 181.0L73.6 176.3L73.9 173.3L74.3 172.4L74.6 172.9L75.0 174.9L75.3 178.4L75.7 183.0L76.0 188.7L76.4 195.5L76.7 204.0L77.1 213.4L77.4 221.6L77.7 221.9L78.1 214.7L78.4 204.9L78.8 196.3L79.1 190.1L79.5 185.6L79.8 182.7L80.2 181.6L80.5 182.2L80.9 183.9L81.2 186.8L81.6 190.7L81.9 195.3L82.3 199.9L82.6 202.7L82.9 203.0L83.3 201.3L83.6 198.4L84.0 194.9L84.3 191.2L84.7 187.9L85.0 185.3L85.4 183.2L85.7 181.7L86.1 180.7L86.4 180.4L86.8 180.6L87.1 181.1L87.5 181.6L87.8 182.0L88.1 182.0L88.5 181.4L88.8 180.4L89.2 179.0L89.5 178.0L89.9 177.0L90.2 176.1L90.6 175.5L90.9 175.1L91.3 175.0L91.6 174.7L92.0 174.7L92.3 174.7L92.6 174.7L93.0 174.7L93.3 174.5L93.7 173.9L94.0 173.2L94.4 172.7L94.7 172.1L95.1 171.8L95.4 171.6L95.8 171.3L96.1 171.3L96.5 171.6L96.8 172.0L97.2 172.5L97.5 173.1L97.8 173.7L98.2 174.3L98.5 174.8L98.9 175.3L99.2 175.8L99.6 176.1L99.9 176.4L100.3 176.5L100.6 176.6L101.0 176.5L101.3 176.2L101.7 175.8L102.0 175.4L102.4 174.9L102.7 174.2L103.0 173.6L103.4 172.6L103.7 171.6L104.1 170.5L104.4 169.3L104.8 168.1L105.1 166.8L105.5 165.6L105.8 164.3L106.2 163.1L106.5 161.8L106.9 160.5L107.2 159.2L107.5 158.0L107.9 156.8L108.2 155.6L108.6 154.4L108.9 153.9L109.3 153.4L109.6 152.9L110.0 165.6L110.3 165.4L110.7 165.3L111.0 165.3L111.4 165.4L111.7 165.6L112.1 166.0L112.4 166.5L112.7 167.1L113.1 167.8L113.4 168.7L113.8 169.7L114.1 171.0L114.5 172.4L114.8 174.0L115.2 175.9L115.5 178.2L115.9 180.9L116.2 184.1L116.6 187.8L116.9 192.2L117.3 197.6L117.6 204.2L117.9 211.9L118.3 219.5L118.6 221.9L119.0 221.9L119.3 221.9L119.7 221.5L120.0 212.9L120.4 203.9L120.7 195.9L121.1 187.7L121.4 179.7L121.8 171.6L122.1 163.9L122.5 156.5L122.8 150.2L123.1 144.9L123.5 140.8L123.8 138.0L124.2 136.6L124.5 136.3L124.9 136.7L125.2 137.7L125.6 139.0L125.9 140.7L126.3 142.8L126.6 144.9L127.0 147.4L127.3 149.8L127.6 152.4L128.0 154.5L128.3 155.6L128.7 154.8L129.0 153.0L129.4 151.3L129.7 151.4L130.1 155.0L130.4 163.2L130.8 177.6L131.1 199.8L131.5 215.9L131.8 206.7L132.2 200.2L132.5 197.8L132.8 197.1L133.2 191.2L133.5 179.8L133.9 169.0L134.2 162.6L134.6 161.8L134.9 165.9L135.3 172.3L135.6 175.6L136.0 173.5L136.3 166.8L136.7 159.4L137.0 153.9L137.4 151.0L137.7 149.6L138.0 148.7L138.4 146.5L138.7 143.2L139.1 139.9L139.4 138.4L139.8 138.9L140.1 140.4L140.5 142.2L140.8 144.3L141.2 147.1L141.5 151.8L141.9 160.7L142.2 171.5L142.5 175.9L142.9 175.8L143.2 177.1L143.6 174.5L143.9 165.9L144.3 162.2L144.6 168.8L145.0 186.8L145.3 204.8L145.7 191.9L146.0 181.8L146.4 179.2L146.7 178.6L147.1 180.1L147.4 191.4L147.7 221.9L148.1 195.4L148.4 168.1L148.8 157.2L149.1 158.4L149.5 171.0L149.8 186.8L150.2 184.3L150.5 176.7L150.9 171.5L151.2 168.6L151.6 163.7L151.9 157.8L152.3 157.1L152.6 166.7L152.9 185.1L153.3 202.3L153.6 196.9L154.0 199.8L154.3 216.0L154.7 186.6L155.0 170.5L155.4 168.4L155.7 173.7L156.1 177.9L156.4 167.5L156.8 151.4L157.1 138.4L157.4 133.1L157.8 136.0L158.1 143.0L158.5 147.7L158.8 147.2L159.2 145.3L159.5 146.2L159.9 153.6L160.2 173.3L160.6 193.2L160.9 175.6L161.3 169.5L161.6 176.5L162.0 172.9L162.3 161.3L162.6 149.5L163.0 141.6L163.3 142.4L163.7 152.6L164.0 159.3L164.4 154.3L164.7 150.3L165.1 147.4L165.4 149.6L165.8 164.0L166.1 189.9L166.5 198.9L166.8 182.0L167.2 167.0L167.5 159.2L167.8 155.8L168.2 150.8L168.5 143.1L168.9 135.4L169.2 129.7L169.6 128.5L169.9 133.2L170.3 149.8L170.6 200.1L171.0 221.9L171.3 221.9L171.7 197.3L172.0 184.2L172.4 191.8L172.7 200.7L173.0 203.5L173.4 221.9L173.7 221.9L174.1 198.1L174.4 216.4L174.8 190.5L175.1 166.6L175.5 171.7L175.8 198.0L176.2 178.2L176.5 156.2L176.9 147.8L177.2 147.0L177.5 148.4L177.9 149.4L178.2 149.1L178.6 151.0L178.9 160.3L179.3 184.6L179.6 221.9L180.0 183.2L180.3 173.7L180.7 175.5L181.0 170.2L181.4 165.0L181.7 166.8L182.1 168.3L182.4 161.6L182.7 153.9L183.1 152.3L183.4 153.0L183.8 149.6L184.1 146.5L184.5 149.3L184.8 151.1L185.2 143.0L185.5 140.2L185.9 155.1L186.2 205.8L186.6 200.4L186.9 180.2L187.3 182.7L187.6 199.8L187.9 218.6L188.3 212.3L188.6 193.7L189.0 165.4L189.3 146.1L189.7 140.5L190.0 143.3L190.4 145.9L190.7 146.0L191.1 148.4L191.4 156.7L191.8 173.1L192.1 194.6L192.4 194.9L192.8 179.5L193.1 178.2L193.5 186.7L193.8 172.0L194.2 159.5L194.5 151.0L194.9 141.2L195.2 133.8L195.6 131.0L195.9 132.5L196.3 136.4L196.6 138.7L197.0 137.2L197.3 135.0L197.6 136.1L198.0 141.8L198.3 154.9L198.7 185.8L199.0 221.9L199.4 168.9L199.7 149.3L200.1 138.3L200.4 130.8L200.8 125.1L201.1 120.8L201.5 118.9L201.8 120.1L202.2 123.4L202.5 126.9L202.8 128.8L203.2 130.0L203.5 132.9L203.9 140.0L204.2 154.0L204.6 180.5L204.9 221.9L205.3 194.0L205.6 165.8L206.0 146.9L206.3 131.9L206.7 121.4L207.0 115.6L207.3 113.8L207.7 115.0L208.0 117.5L208.4 120.0L208.7 121.5L209.1 121.8L209.4 121.7L209.8 121.2L210.1 120.4L210.5 119.0L210.8 117.2L211.2 115.6L211.5 114.8L211.9 115.3L212.2 117.8L212.5 122.9L212.9 131.1L213.2 143.4L213.6 160.4L213.9 170.8L214.3 158.4L214.6 144.5L215.0 134.8L215.3 127.7L215.7 121.9L216.0 116.2L216.4 110.6L216.7 105.1L217.1 99.9L217.4 95.1L217.7 90.8L218.1 87.0L218.4 83.7L218.8 80.7L219.1 78.1L219.5 75.7L219.8 73.6L220.2 71.6L220.5 69.8L220.9 68.2L221.2 66.7L221.6 65.3L221.9 64.1L222.2 62.9L222.6 61.8L222.9 60.9L223.3 60.0L223.6 59.2L224.0 58.5L224.3 57.9L224.7 57.4L225.0 57.0L225.4 56.6L225.7 56.3L226.1 56.0L226.4 55.9L226.8 55.9L227.1 56.1L227.4 56.2L227.8 56.4L228.1 56.6L228.5 56.9L228.8 57.2L229.2 57.5L229.5 57.8L229.9 58.1L230.2 58.5L230.6 58.8L230.9 59.2L231.3 59.6L231.6 59.9L232.0 60.3L232.3 60.7L232.6 61.1L233.0 61.5L233.3 61.9L233.7 62.3L234.0 62.7L234.4 63.1L234.7 63.5L235.1 63.8L235.4 64.3L235.8 64.9L236.1 65.4L236.5 66.2L236.8 67.0L237.2 67.7L237.5 68.5L237.8 69.2L238.2 70.0L238.5 70.7L238.9 71.5L239.2 72.3L239.6 73.1L239.9 73.8L240.3 74.7L240.6 75.5L241.0 76.3L241.3 77.2L241.7 78.0L242.0 78.7L242.3 79.3L242.7 80.0L243.0 80.7L243.4 81.4L243.7 82.2L244.1 83.1L244.4 84.0L244.8 84.9L245.1 85.9L245.5 87.0L245.8 88.1L246.2 89.3L246.5 90.6L246.9 91.9L247.2 93.4L247.5 94.9L247.9 96.6L248.2 98.4L248.6 100.3L248.9 102.7L249.3 105.2L249.6 107.9L250.0 110.7L250.3 113.7L250.7 116.9L251.0 120.2L251.4 123.7L251.7 128.6L252.1 133.7L252.4 139.2L252.7 144.9L253.1 150.6L253.4 156.4L253.8 162.3L254.1 168.4L254.5 174.5L254.8 181.0L255.2 187.8L255.5 194.7L255.9 202.8L256.2 212.2L256.6 221.9L256.9 221.9L257.2 221.9L257.6 221.9L257.9 221.9L258.3 220.2L258.6 209.2L259.0 199.8L259.3 192.0L259.7 184.9L260.0 179.1L260.4 174.0L260.7 169.6L261.1 166.3L261.4 163.6L261.8 162.0L262.1 161.4L262.4 161.6L262.8 162.9L263.1 165.2L263.5 168.7L263.8 173.0L264.2 177.9L264.5 183.0L264.9 187.8L265.2 191.8L265.6 194.6L265.9 197.8L266.3 201.4L266.6 205.8L267.0 211.7L267.3 220.0L267.6 221.9L268.0 221.9L268.3 221.9L268.7 221.9L269.0 221.9L269.4 221.9L269.7 221.9L270.1 217.4L270.4 210.6L270.8 203.9L271.1 197.3L271.5 190.7L271.8 184.4L272.2 179.3L272.5 175.3L272.8 172.6L273.2 171.2L273.5 170.3L273.9 170.1L274.2 170.1L274.6 169.9L274.9 169.9L275.3 170.1L275.6 170.7L276.0 171.8L276.3 172.9L276.7 174.9L277.0 177.3L277.3 180.9L277.7 186.3L278.0 193.9L278.4 204.6L278.7 213.7L279.1 211.3L279.4 201.0L279.8 191.8L280.1 186.3L280.5 184.3L280.8 185.9L281.2 190.0L281.5 196.0L281.9 200.3L282.2 198.7L282.5 192.4L282.9 184.3L283.2 177.6L283.6 172.5L283.9 168.8L284.3 166.7L284.6 166.1L285.0 166.9L285.3 169.6L285.7 174.3L286.0 181.7L286.4 192.0L286.7 206.1L287.1 221.9L287.4 221.9L287.7 221.9L288.1 221.9L288.4 221.9L288.8 212.6L289.1 193.2L289.5 179.4L289.8 170.1L290.2 164.0L290.5 160.7L290.9 159.3L291.2 158.7L291.6 158.2L291.9 156.5L292.2 153.8L292.6 151.0L292.9 148.7L293.3 147.5L293.6 147.5L294.0 148.6L294.3 150.6L294.7 153.5L295.0 157.1L295.4 161.7L295.7 167.2L296.1 173.1L296.4 178.8L296.8 183.3L297.1 185.6" stroke="#d8281e" stroke-width="1.35" stroke-dasharray="5 1.5 1 1.8"/>
<path d="M47.6 221.9L48.3 221.9L49.0 221.9L49.7 219.5L50.4 214.9L51.1 217.8L51.8 221.9L52.5 221.9L53.1 221.9L53.8 221.9L54.5 221.9L55.2 216.1L55.9 215.5L56.6 221.9L57.3 221.9L58.0 221.9L58.7 221.9L59.4 221.9L60.1 218.2L60.8 212.9L61.5 214.5L62.2 221.9L62.8 221.9L63.5 221.9L64.2 221.9L64.9 221.9L65.6 211.8L66.3 207.8L67.0 210.1L67.7 219.6L68.4 221.9L69.1 221.9L69.8 221.9L70.5 221.9L71.2 210.5L71.9 205.1L72.6 205.0L73.2 210.3L73.9 221.9L74.6 221.9L75.3 221.9L76.0 221.9L76.7 221.8L77.4 209.1L78.1 202.8L78.8 200.9L79.5 202.9L80.2 209.5L80.9 221.9L81.6 221.9L82.3 221.9L82.9 221.9L83.6 216.2L84.3 200.1L85.0 190.0L85.7 183.7L86.4 180.5L87.1 180.2L87.8 183.2L88.5 190.5L89.2 205.6L89.9 221.9L90.6 221.9L91.3 182.8L92.0 157.8L92.6 139.8L93.3 125.3L94.0 116.2L94.7 108.6L95.4 102.1L96.1 96.4L96.8 92.3L97.5 88.7L98.2 85.6L98.9 82.8L99.6 80.4L100.3 78.3L101.0 76.4L101.7 74.8L102.4 73.3L103.0 71.9L103.7 70.1L104.4 68.4L105.1 66.8L105.8 65.2L106.5 63.6L107.2 62.1L107.9 60.6L108.6 59.0L109.3 57.9L110.0 56.8L110.7 56.0L111.4 55.2L112.1 54.5L112.7 53.7L113.4 52.9L114.1 52.2L114.8 51.5L115.5 50.9L116.2 50.4L116.9 49.9L117.6 49.6L118.3 49.5L119.0 50.0L119.7 50.7L120.4 51.7L121.1 53.2L121.8 55.0L122.5 57.2L123.1 59.8L123.8 63.0L124.5 66.9L125.2 71.6L125.9 77.4L126.6 84.6L127.3 93.6L128.0 105.4L128.7 122.1L129.4 149.8L130.1 221.9L130.8 160.6L131.5 133.7L132.2 120.4L132.8 112.9L133.5 109.1L134.2 108.1L134.9 109.8L135.6 114.3L136.3 122.2L137.0 135.1L137.7 157.9L138.4 221.4L139.1 181.3L139.8 149.2L140.5 134.6L141.2 127.3L141.9 124.7L142.5 126.2L143.2 132.1L143.9 143.9L144.6 166.6L145.3 221.9L146.0 182.3L146.7 152.9L147.4 139.8L148.1 134.4L148.8 134.5L149.5 140.2L150.2 153.4L150.9 182.5L151.6 221.9L152.3 172.4L152.9 151.1L153.6 142.0L154.3 140.1L155.0 144.7L155.7 157.4L156.4 186.5L157.1 221.9L157.8 175.4L158.5 154.6L159.2 146.3L159.9 145.7L160.6 152.5L161.3 169.7L162.0 217.5L162.6 203.9L163.3 166.8L164.0 152.9L164.7 148.7L165.4 152.2L166.1 164.8L166.8 196.5L167.5 221.9L168.2 176.8L168.9 158.2L169.6 151.6L170.3 153.0L171.0 163.1L171.7 188.5L172.4 221.9L173.0 185.1L173.7 162.5L174.4 153.9L175.1 153.8L175.8 161.9L176.5 183.0L177.2 221.9L177.9 194.7L178.6 167.0L179.3 156.1L180.0 154.0L180.7 159.5L181.4 175.4L182.1 218.7L182.7 215.2L183.4 174.6L184.1 159.4L184.8 154.0L185.5 155.8L186.2 165.5L186.9 188.5L187.6 221.9L188.3 194.1L189.0 167.8L189.7 156.5L190.4 153.0L191.1 155.8L191.8 165.9L192.4 188.5L193.1 221.9L193.8 197.6L194.5 169.9L195.2 157.6L195.9 152.7L196.6 153.2L197.3 159.2L198.0 172.3L198.7 200.4L199.4 221.9L200.1 193.2L200.8 169.6L201.5 157.8L202.2 152.0L202.8 150.6L203.5 153.0L204.2 159.6L204.9 172.1L205.6 196.0L206.3 221.9L207.0 205.5L207.7 176.1L208.4 161.2L209.1 152.3L209.8 147.2L210.5 144.9L211.2 144.9L211.9 147.2L212.5 151.8L213.2 159.2L213.9 170.6L214.6 189.2L215.3 221.9L216.0 221.9L216.7 193.5L217.4 172.7L218.1 159.8L218.8 150.8L219.5 144.2L220.2 139.3L220.9 135.6L221.6 132.8L222.2 130.7L222.9 129.3L223.6 128.2L224.3 127.6L225.0 128.8L225.7 130.3L226.4 132.1L227.1 134.3L227.8 136.7L228.5 139.1L229.2 141.5L229.9 143.9L230.6 146.2L231.3 148.2L232.0 150.0L232.6 151.4L233.3 152.5L234.0 153.1L234.7 153.3L235.4 153.0L236.1 152.4L236.8 154.9L237.5 157.0L238.2 158.7L238.9 160.0L239.6 161.1L240.3 161.9L241.0 162.6L241.7 163.2L242.3 163.2L243.0 163.1L243.7 163.2L244.4 163.5L245.1 164.1L245.8 165.0L246.5 166.2L247.2 168.0L247.9 170.4L248.6 173.5L249.3 177.6L250.0 183.1L250.7 190.6L251.4 200.7L252.1 218.5L252.7 221.9L253.4 221.9L254.1 221.9L254.8 221.9L255.5 214.2L256.2 206.9L256.9 202.7L257.6 201.0L258.3 201.7L259.0 204.7L259.7 210.5L260.4 219.9L261.1 221.9L261.8 221.9L262.4 221.9L263.1 221.9L263.8 221.9L264.5 221.9L265.2 214.6L265.9 211.2L266.6 211.3L267.3 215.3L268.0 221.9L268.7 221.9L269.4 221.9L270.1 221.9L270.8 221.9L271.5 221.9L272.2 213.5L272.8 210.5L273.5 212.4L274.2 220.0L274.9 221.9L275.6 221.9L276.3 221.9L277.0 221.9L277.7 219.9L278.4 212.8L279.1 212.1L279.8 217.6L280.5 221.9L281.2 221.9L281.9 221.9L282.5 221.9L283.2 221.9L283.9 216.1L284.6 215.3L285.3 221.5L286.0 221.9L286.7 221.9L287.4 221.9L288.1 221.9L288.8 221.9L289.5 216.2L290.2 217.5L290.9 221.9L291.6 221.9L292.2 221.9L292.9 221.9L293.6 221.9L294.3 217.3L295.0 215.4L295.7 221.2L296.4 221.9L297.1 221.9" stroke="#0a0a0a" stroke-width="1.6" clip-path="url(#clipaf)"/>
<path d="M47.6 181.5L47.9 187.5L48.3 195.8L48.6 208.6L49.0 221.9L49.3 221.9L49.7 221.9L50.0 219.2L50.4 205.3L50.7 197.4L51.1 193.2L51.4 189.8L51.8 186.1L52.1 182.5L52.5 178.9L52.8 176.1L53.1 174.2L53.5 173.8L53.8 175.0L54.2 178.6L54.5 185.0L54.9 195.2L55.2 210.8L55.6 221.9L55.9 221.9L56.3 208.4L56.6 196.2L57.0 186.9L57.3 179.5L57.6 173.5L58.0 168.3L58.3 164.0L58.7 160.6L59.0 158.3L59.4 156.9L59.7 156.6L60.1 157.2L60.4 159.2L60.8 162.2L61.1 166.4L61.5 170.9L61.8 175.3L62.2 178.7L62.5 181.6L62.8 184.1L63.2 187.6L63.5 192.7L63.9 200.3L64.2 209.4L64.6 216.0L64.9 210.4L65.3 196.8L65.6 183.6L66.0 172.9L66.3 164.0L66.7 157.4L67.0 152.7L67.4 149.6L67.7 148.1L68.0 148.0L68.4 149.6L68.7 152.5L69.1 156.8L69.4 161.9L69.8 167.3L70.1 172.0L70.5 174.4L70.8 174.6L71.2 173.2L71.5 172.2L71.9 172.0L72.2 173.4L72.6 176.7L72.9 182.4L73.2 190.7L73.6 201.4L73.9 210.8L74.3 209.7L74.6 200.0L75.0 189.9L75.3 182.1L75.7 175.8L76.0 171.5L76.4 168.5L76.7 166.8L77.1 166.0L77.4 166.1L77.7 167.1L78.1 168.6L78.4 170.4L78.8 172.4L79.1 174.3L79.5 175.8L79.8 177.7L80.2 180.1L80.5 184.0L80.9 189.7L81.2 197.7L81.6 208.4L81.9 218.5L82.3 215.4L82.6 203.1L82.9 190.4L83.3 180.6L83.6 173.0L84.0 167.1L84.3 162.6L84.7 159.1L85.0 156.7L85.4 155.0L85.7 153.9L86.1 153.1L86.4 152.7L86.8 152.5L87.1 152.4L87.5 152.5L87.8 152.7L88.1 153.0L88.5 153.6L88.8 154.3L89.2 155.0L89.5 156.4L89.9 157.9L90.2 159.2L90.6 160.5L90.9 161.1L91.3 160.2L91.6 157.5L92.0 153.1L92.3 147.4L92.6 141.0L93.0 134.8L93.3 128.7L93.7 124.4L94.0 120.4L94.4 116.6L94.7 113.1L95.1 109.8L95.4 106.8L95.8 103.9L96.1 101.3L96.5 99.2L96.8 97.3L97.2 95.5L97.5 93.9L97.8 92.3L98.2 90.9L98.5 89.5L98.9 88.3L99.2 87.1L99.6 86.0L99.9 85.0L100.3 84.0L100.6 83.1L101.0 82.2L101.3 81.4L101.7 80.7L102.0 79.9L102.4 79.3L102.7 78.6L103.0 78.0L103.4 77.1L103.7 76.2L104.1 75.4L104.4 74.6L104.8 73.8L105.1 73.0L105.5 72.2L105.8 71.4L106.2 70.7L106.5 69.9L106.9 69.2L107.2 68.4L107.5 67.7L107.9 66.9L108.2 66.2L108.6 65.4L108.9 64.9L109.3 64.3L109.6 63.8L110.0 63.2L110.3 62.8L110.7 62.4L111.0 62.1L111.4 61.7L111.7 61.3L112.1 60.9L112.4 60.5L112.7 60.1L113.1 59.7L113.4 59.3L113.8 59.0L114.1 58.6L114.5 58.3L114.8 57.9L115.2 57.6L115.5 57.3L115.9 57.0L116.2 56.7L116.6 56.5L116.9 56.3L117.3 56.1L117.6 55.9L117.9 55.8L118.3 55.7L118.6 55.9L119.0 56.1L119.3 56.4L119.7 56.8L120.0 57.2L120.4 57.6L120.7 58.3L121.1 58.9L121.4 59.7L121.8 60.6L122.1 61.5L122.5 62.6L122.8 63.7L123.1 64.9L123.5 66.3L123.8 67.7L124.2 69.4L124.5 71.1L124.9 73.1L125.2 75.3L125.6 77.8L125.9 80.5L126.3 83.4L126.6 86.7L127.0 90.2L127.3 94.0L127.6 98.2L128.0 103.1L128.3 108.6L128.7 114.9L129.0 122.2L129.4 130.2L129.7 139.2L130.1 150.0L130.4 165.4L130.8 189.5L131.1 197.4L131.5 168.0L131.8 147.0L132.2 132.6L132.5 122.4L132.8 115.4L133.2 110.9L133.5 108.4L133.9 107.6L134.2 108.0L134.6 109.2L134.9 110.5L135.3 111.6L135.6 112.5L136.0 113.8L136.3 115.9L136.7 119.0L137.0 122.6L137.4 125.7L137.7 127.5L138.0 127.7L138.4 127.2L138.7 127.7L139.1 130.8L139.4 138.6L139.8 152.4L140.1 169.1L140.5 169.1L140.8 153.9L141.2 140.9L141.5 132.2L141.9 126.3L142.2 122.9L142.5 121.5L142.9 121.9L143.2 124.1L143.6 128.0L143.9 132.2L144.3 134.1L144.6 132.6L145.0 131.2L145.3 133.9L145.7 141.0L146.0 149.9L146.4 159.1L146.7 172.6L147.1 190.5L147.4 172.5L147.7 154.3L148.1 149.3L148.4 154.4L148.8 166.3L149.1 185.2L149.5 211.9L149.8 221.9L150.2 221.9L150.5 221.9L150.9 204.1L151.2 201.1L151.6 207.2L151.9 209.9L152.3 220.3L152.6 221.9L152.9 180.0L153.3 155.3L153.6 144.5L154.0 142.3L154.3 147.5L154.7 156.1L155.0 161.2L155.4 160.0L155.7 162.1L156.1 175.2L156.4 206.8L156.8 221.9L157.1 221.9L157.4 212.4L157.8 184.1L158.1 177.9L158.5 190.1L158.8 208.9L159.2 187.5L159.5 176.7L159.9 183.1L160.2 192.1L160.6 181.6L160.9 161.1L161.3 149.4L161.6 149.4L162.0 160.4L162.3 180.6L162.6 190.1L163.0 190.9L163.3 220.2L163.7 208.0L164.0 173.7L164.4 164.4L164.7 171.6L165.1 184.3L165.4 185.9L165.8 174.6L166.1 162.4L166.5 153.5L166.8 149.8L167.2 148.1L167.5 142.7L167.8 138.5L168.2 147.7L168.5 172.8L168.9 157.2L169.2 147.1L169.6 154.8L169.9 177.9L170.3 200.3L170.6 193.3L171.0 178.4L171.3 168.6L171.7 154.6L172.0 137.8L172.4 128.9L172.7 132.3L173.0 148.9L173.4 177.4L173.7 204.5L174.1 186.7L174.4 176.8L174.8 176.3L175.1 179.5L175.5 185.0L175.8 178.4L176.2 162.8L176.5 151.6L176.9 149.1L177.2 152.0L177.5 154.5L177.9 159.2L178.2 170.7L178.6 192.0L178.9 221.9L179.3 209.5L179.6 163.6L180.0 150.1L180.3 151.4L180.7 155.6L181.0 150.0L181.4 143.4L181.7 143.5L182.1 146.8L182.4 148.9L182.7 146.7L183.1 148.7L183.4 166.1L183.8 189.0L184.1 167.0L184.5 159.1L184.8 158.5L185.2 154.2L185.5 145.0L185.9 136.0L186.2 129.6L186.6 129.3L186.9 139.0L187.3 158.5L187.6 173.2L187.9 165.7L188.3 156.7L188.6 157.1L189.0 162.8L189.3 169.2L189.7 183.2L190.0 217.6L190.4 221.9L190.7 181.3L191.1 165.2L191.4 164.1L191.8 166.6L192.1 161.7L192.4 159.1L192.8 161.9L193.1 157.5L193.5 147.6L193.8 142.6L194.2 144.4L194.5 152.1L194.9 161.2L195.2 163.6L195.6 162.2L195.9 168.9L196.3 189.5L196.6 179.6L197.0 157.6L197.3 146.9L197.6 143.1L198.0 145.1L198.3 151.1L198.7 154.6L199.0 151.7L199.4 150.8L199.7 157.4L200.1 175.1L200.4 201.1L200.8 193.4L201.1 178.8L201.5 168.5L201.8 160.8L202.2 156.9L202.5 158.2L202.8 162.9L203.2 164.1L203.5 152.2L203.9 140.1L204.2 134.4L204.6 134.5L204.9 139.3L205.3 147.0L205.6 155.0L206.0 160.3L206.3 161.2L206.7 159.0L207.0 155.4L207.3 151.9L207.7 149.7L208.0 150.4L208.4 156.1L208.7 168.5L209.1 191.5L209.4 221.9L209.8 221.9L210.1 193.0L210.5 174.3L210.8 163.7L211.2 160.5L211.5 163.2L211.9 169.2L212.2 174.1L212.5 175.8L212.9 176.6L213.2 176.7L213.6 174.0L213.9 169.8L214.3 165.2L214.6 160.6L215.0 157.4L215.3 155.2L215.7 154.2L216.0 153.2L216.4 151.4L216.7 148.6L217.1 145.3L217.4 142.0L217.7 138.8L218.1 136.2L218.4 134.1L218.8 133.0L219.1 132.5L219.5 133.0L219.8 134.2L220.2 136.2L220.5 138.5L220.9 141.3L221.2 144.5L221.6 148.1L221.9 151.8L222.2 155.7L222.6 159.4L222.9 162.9L223.3 166.3L223.6 169.3L224.0 172.6L224.3 176.5L224.7 182.4L225.0 190.1L225.4 200.3L225.7 212.1L226.1 219.7L226.4 214.6L226.8 203.1L227.1 192.3L227.4 183.9L227.8 177.3L228.1 172.2L228.5 168.2L228.8 165.1L229.2 162.8L229.5 161.0L229.9 159.6L230.2 158.6L230.6 157.8L230.9 157.3L231.3 156.9L231.6 156.5L232.0 156.3L232.3 156.2L232.6 156.1L233.0 156.1L233.3 156.1L233.7 156.2L234.0 156.4L234.4 156.5L234.7 156.8L235.1 178.7L235.4 179.4L235.8 180.3L236.1 181.4L236.5 183.5L236.8 185.8L237.2 188.3L237.5 191.0L237.8 193.9L238.2 197.0L238.5 200.3L238.9 203.9L239.2 207.6L239.6 211.5L239.9 215.3L240.3 218.9L240.6 221.8L241.0 221.9L241.3 221.9L241.7 221.9L242.0 221.9L242.3 220.5L242.7 217.6L243.0 214.4L243.4 211.1L243.7 207.9L244.1 205.1L244.4 202.6L244.8 200.2L245.1 198.1L245.5 196.0L245.8 194.3L246.2 192.9L246.5 191.7L246.9 190.4L247.2 189.4L247.5 188.6L247.9 188.0L248.2 187.7L248.6 187.3L248.9 186.9L249.3 186.5L249.6 186.2L250.0 186.0L250.3 186.0L250.7 186.0L251.0 185.9L251.4 186.1L251.7 187.2L252.1 188.3L252.4 189.7L252.7 191.4L253.1 193.3L253.4 195.4L253.8 198.5L254.1 201.3L254.5 204.8L254.8 208.6L255.2 212.5L255.5 216.3L255.9 219.1L256.2 220.3L256.6 219.6L256.9 217.4L257.2 213.7L257.6 208.6L257.9 203.6L258.3 198.9L258.6 193.8L259.0 188.6L259.3 183.7L259.7 179.2L260.0 175.1L260.4 171.9L260.7 169.5L261.1 167.6L261.4 166.4L261.8 165.9L262.1 165.9L262.4 166.3L262.8 166.8L263.1 167.5L263.5 167.8L263.8 167.7L264.2 166.7L264.5 165.0L264.9 162.8L265.2 160.2L265.6 157.6L265.9 155.0L266.3 152.5L266.6 150.5L267.0 148.9L267.3 147.7L267.6 147.1L268.0 147.1L268.3 147.8L268.7 149.2L269.0 151.5L269.4 154.7L269.7 158.7L270.1 164.1L270.4 170.6L270.8 178.6L271.1 188.7L271.5 200.9L271.8 215.6L272.2 221.9L272.5 221.9L272.8 221.9L273.2 221.9L273.5 221.9L273.9 221.9L274.2 221.9L274.6 221.9L274.9 221.9L275.3 221.9L275.6 219.7L276.0 207.8L276.3 199.1L276.7 192.9L277.0 187.9L277.3 183.3L277.7 178.4L278.0 172.6L278.4 166.0L278.7 159.0L279.1 152.9L279.4 148.0L279.8 144.9L280.1 143.2L280.5 142.9L280.8 144.0L281.2 146.0L281.5 148.9L281.9 152.9L282.2 158.1L282.5 165.1L282.9 175.1L283.2 188.6L283.6 203.8L283.9 200.4L284.3 184.5L284.6 172.2L285.0 164.6L285.3 160.6L285.7 160.0L286.0 162.9L286.4 169.0L286.7 179.2L287.1 192.5L287.4 201.4L287.7 197.0L288.1 187.8L288.4 179.8L288.8 174.7L289.1 171.4L289.5 169.6L289.8 168.7L290.2 168.4L290.5 168.7L290.9 169.9L291.2 171.7L291.6 174.2L291.9 177.6L292.2 181.6L292.6 185.4L292.9 188.4L293.3 190.4L293.6 190.2L294.0 188.9L294.3 186.5L294.7 183.4L295.0 180.2L295.4 177.7L295.7 175.8L296.1 174.9L296.4 175.3L296.8 177.8L297.1 181.5" stroke="#d8281e" stroke-width="1.35" stroke-dasharray="5 1.5 1 1.8"/>
</g>
<rect x="47.6" y="29.2" width="249.5" height="185.7" fill="none" stroke="#2a2a2a" stroke-width="1"/>
<path d="M47.6 214.9v3.2 M47.6 29.2v-3.2 M58 214.9v1.8 M58 29.2v-1.8 M68.4 214.9v3.2 M68.4 29.2v-3.2 M78.8 214.9v1.8 M78.8 29.2v-1.8 M89.2 214.9v3.2 M89.2 29.2v-3.2 M99.6 214.9v1.8 M99.6 29.2v-1.8 M110 214.9v3.2 M110 29.2v-3.2 M120.4 214.9v1.8 M120.4 29.2v-1.8 M130.8 214.9v3.2 M130.8 29.2v-3.2 M141.2 214.9v1.8 M141.2 29.2v-1.8 M151.6 214.9v3.2 M151.6 29.2v-3.2 M162 214.9v1.8 M162 29.2v-1.8 M172.4 214.9v3.2 M172.4 29.2v-3.2 M182.7 214.9v1.8 M182.7 29.2v-1.8 M193.1 214.9v3.2 M193.1 29.2v-3.2 M203.5 214.9v1.8 M203.5 29.2v-1.8 M213.9 214.9v3.2 M213.9 29.2v-3.2 M224.3 214.9v1.8 M224.3 29.2v-1.8 M234.7 214.9v3.2 M234.7 29.2v-3.2 M245.1 214.9v1.8 M245.1 29.2v-1.8 M255.5 214.9v3.2 M255.5 29.2v-3.2 M265.9 214.9v1.8 M265.9 29.2v-1.8 M276.3 214.9v3.2 M276.3 29.2v-3.2 M286.7 214.9v1.8 M286.7 29.2v-1.8 M297.1 214.9v3.2 M297.1 29.2v-3.2 M47.6 29.2h-3.6 M47.6 52.4h-1.8 M47.6 75.6h-3.6 M47.6 98.8h-1.8 M47.6 122.1h-3.6 M47.6 145.3h-1.8 M47.6 168.5h-3.6 M47.6 191.7h-1.8 M47.6 214.9h-3.6" stroke="#2a2a2a" stroke-width="1" fill="none"/>
<g font-size="11.2" fill="#000" stroke="#000" stroke-width="0.0"><text x="47.9" y="229.2" text-anchor="middle">-180</text><text x="68.7" y="229.2" text-anchor="middle">-150</text><text x="89.5" y="229.2" text-anchor="middle">-120</text><text x="110.3" y="229.2" text-anchor="middle">-90</text><text x="131.1" y="229.2" text-anchor="middle">-60</text><text x="151.9" y="229.2" text-anchor="middle">-30</text><text x="172.7" y="229.2" text-anchor="middle">0</text><text x="193.4" y="229.2" text-anchor="middle">30</text><text x="214.2" y="229.2" text-anchor="middle">60</text><text x="235" y="229.2" text-anchor="middle">90</text><text x="255.8" y="229.2" text-anchor="middle">120</text><text x="276.6" y="229.2" text-anchor="middle">150</text><text x="297.4" y="229.2" text-anchor="middle">180</text><text x="41.8" y="32.9" text-anchor="end">0</text><text x="41.8" y="79.3" text-anchor="end">-10</text><text x="41.8" y="125.8" text-anchor="end">-20</text><text x="41.8" y="172.2" text-anchor="end">-30</text><text x="41.8" y="218.6" text-anchor="end">-40</text></g>
<text x="106.4" y="252.2" font-size="14.8" fill="#000" stroke="#000" stroke-width="0.15">Scanning angle (deg)</text>
<text transform="translate(12.8,215) rotate(-90)" font-size="14.8" fill="#000" stroke="#000" stroke-width="0.15">Normalized far-field pattern (dB)</text>
<clipPath id="clipb"><rect x="386.1" y="28.2" width="249.5" height="186.7"/></clipPath>
<g clip-path="url(#clipb)" fill="none" stroke-linejoin="round">
<clipPath id="clipbf"><rect x="438.1" y="28.2" width="145.5" height="186.7"/></clipPath>
<path d="M386.1 120.3L386.8 121.3L387.5 125.0L388.2 131.9L388.9 142.5L389.6 158.4L390.3 184.0L391.0 221.9L391.6 221.9L392.3 196.3L393.0 189.0L393.7 191.6L394.4 203.3L395.1 221.9L395.8 221.9L396.5 221.9L397.2 211.5L397.9 203.5L398.6 203.7L399.3 211.7L400.0 221.9L400.7 221.9L401.3 221.9L402.0 221.9L402.7 209.4L403.4 205.0L404.1 207.2L404.8 216.4L405.5 221.9L406.2 221.9L406.9 221.9L407.6 221.9L408.3 211.6L409.0 206.8L409.7 207.7L410.4 214.4L411.1 221.9L411.7 221.9L412.4 221.9L413.1 221.9L413.8 221.9L414.5 214.0L415.2 209.7L415.9 209.8L416.6 214.1L417.3 221.9L418.0 221.9L418.7 221.9L419.4 221.9L420.1 221.9L420.8 221.9L421.4 217.5L422.1 210.6L422.8 206.5L423.5 205.2L424.2 206.5L424.9 210.5L425.6 217.8L426.3 221.9L427.0 221.9L427.7 221.9L428.4 221.9L429.1 221.9L429.8 215.1L430.5 202.5L431.1 193.0L431.8 185.8L432.5 181.3L433.2 178.2L433.9 176.2L434.6 175.2L435.3 174.7L436.0 174.9L436.7 175.9L437.4 177.7L438.1 180.2L438.8 183.4L439.5 187.6L440.2 192.6L440.9 198.9L441.5 206.6L442.2 215.9L442.9 221.9L443.6 221.9L444.3 221.9L445.0 221.9L445.7 221.9L446.4 221.9L447.1 221.9L447.8 221.1L448.5 220.1L449.2 221.8L449.9 221.9L450.6 221.9L451.2 221.9L451.9 221.9L452.6 221.9L453.3 221.9L454.0 210.6L454.7 194.9L455.4 182.5L456.1 172.2L456.8 163.6L457.5 156.3L458.2 150.0L458.9 144.5L459.6 141.2L460.3 138.6L461.0 136.8L461.6 135.7L462.3 135.4L463.0 136.0L463.7 137.5L464.4 140.2L465.1 144.4L465.8 150.3L466.5 159.0L467.2 171.8L467.9 193.2L468.6 221.9L469.3 221.9L470.0 185.6L470.7 168.0L471.3 157.5L472.0 151.0L472.7 147.6L473.4 146.9L474.1 149.0L474.8 154.4L475.5 164.4L476.2 182.5L476.9 221.9L477.6 221.9L478.3 180.8L479.0 162.4L479.7 152.5L480.4 147.7L481.0 147.3L481.7 151.3L482.4 161.2L483.1 182.2L483.8 221.9L484.5 196.7L485.2 164.7L485.9 149.7L486.6 142.4L487.3 140.8L488.0 144.8L488.7 156.6L489.4 185.0L490.1 221.9L490.8 167.9L491.4 145.5L492.1 135.0L492.8 131.7L493.5 134.9L494.2 146.8L494.9 178.1L495.6 210.6L496.3 151.2L497.0 130.6L497.7 121.2L498.4 119.4L499.1 125.5L499.8 144.3L500.5 221.9L501.1 148.6L501.8 118.1L502.5 104.0L503.2 98.5L503.9 101.0L504.6 115.6L505.3 179.5L506.0 119.0L506.7 82.1L507.4 61.7L508.1 48.3L508.8 39.2L509.5 33.3L510.2 30.2L510.9 29.6L511.5 31.6L512.2 36.3L512.9 43.9L513.6 55.3L514.3 72.2L515.0 99.8L515.7 174.3L516.4 129.5L517.1 105.1L517.8 98.5L518.5 100.7L519.2 110.9L519.9 132.7L520.6 195.2L521.2 160.2L521.9 130.9L522.6 120.7L523.3 119.6L524.0 125.8L524.7 141.2L525.4 176.7L526.1 208.6L526.8 154.9L527.5 138.0L528.2 132.0L528.9 133.0L529.6 140.8L530.3 158.0L530.9 199.9L531.6 205.7L532.3 163.1L533.0 147.4L533.7 141.2L534.4 141.2L535.1 146.7L535.8 159.1L536.5 184.2L537.2 221.9L537.9 191.2L538.6 165.3L539.3 153.1L540.0 147.8L540.7 147.3L541.3 151.2L542.0 160.0L542.7 176.5L543.4 212.1L544.1 221.9L544.8 186.6L545.5 166.4L546.2 155.6L546.9 149.7L547.6 147.4L548.3 148.0L549.0 151.4L549.7 158.1L550.4 169.1L551.0 187.8L551.7 221.9L552.4 221.9L553.1 189.7L553.8 169.8L554.5 157.7L555.2 149.6L555.9 144.1L556.6 140.5L557.3 138.3L558.0 137.3L558.7 137.3L559.4 138.4L560.1 140.3L560.8 143.2L561.4 147.2L562.1 152.2L562.8 158.7L563.5 168.0L564.2 179.8L564.9 195.3L565.6 219.2L566.3 221.9L567.0 221.9L567.7 220.1L568.4 203.3L569.1 193.0L569.8 186.2L570.5 181.4L571.1 178.1L571.8 176.0L572.5 174.8L573.2 174.5L573.9 175.0L574.6 176.3L575.3 181.8L576.0 188.4L576.7 196.6L577.4 207.0L578.1 221.0L578.8 221.9L579.5 221.9L580.2 221.9L580.8 221.9L581.5 221.9L582.2 209.8L582.9 200.5L583.6 193.5L584.3 188.2L585.0 184.1L585.7 181.0L586.4 179.0L587.1 177.9L587.8 177.4L588.5 177.8L589.2 179.2L589.9 181.9L590.6 187.0L591.2 193.7L591.9 202.4L592.6 214.2L593.3 221.9L594.0 221.9L594.7 221.9L595.4 221.9L596.1 221.9L596.8 219.8L597.5 212.1L598.2 208.0L598.9 206.7L599.6 208.1L600.3 211.9L600.9 219.4L601.6 221.9L602.3 221.9L603.0 221.9L603.7 221.9L604.4 221.9L605.1 220.9L605.8 212.7L606.5 209.3L607.2 210.2L607.9 215.9L608.6 221.9L609.3 221.9L610.0 221.9L610.7 221.9L611.3 221.9L612.0 211.5L612.7 206.7L613.4 207.5L614.1 214.6L614.8 221.9L615.5 221.9L616.2 221.9L616.9 221.9L617.6 212.5L618.3 206.0L619.0 206.1L619.7 213.3L620.4 221.9L621.0 221.9L621.7 221.9L622.4 221.9L623.1 207.8L623.8 203.1L624.5 205.9L625.2 218.2L625.9 221.9L626.6 221.9L627.3 215.8L628.0 196.9L628.7 189.2L629.4 190.4L630.1 203.9L630.7 221.9L631.4 208.9L632.1 171.1L632.8 150.5L633.5 137.1L634.2 128.3L634.9 122.8L635.6 120.3" stroke="#0a0a0a" stroke-width="1.6"/>
<path d="M386.1 221.9L386.8 221.9L387.5 221.9L388.2 210.6L388.9 206.6L389.6 210.5L390.3 221.9L391.0 221.9L391.6 221.9L392.3 221.9L393.0 208.2L393.7 202.2L394.4 204.2L395.1 215.7L395.8 221.9L396.5 221.9L397.2 218.2L397.9 197.7L398.6 188.7L399.3 188.0L400.0 197.2L400.7 221.9L401.3 221.9L402.0 181.6L402.7 157.2L403.4 141.6L404.1 130.9L404.8 123.6L405.5 118.9L406.2 116.5L406.9 116.2L407.6 119.0L408.3 124.0L409.0 131.4L409.7 141.7L410.4 156.1L411.1 177.4L411.7 215.7L412.4 221.9L413.1 206.5L413.8 190.7L414.5 185.4L415.2 186.0L415.9 191.7L416.6 203.0L417.3 221.9L418.0 221.9L418.7 221.9L419.4 221.9L420.1 211.1L420.8 202.8L421.4 198.7L422.1 198.4L422.8 200.1L423.5 205.1L424.2 214.3L424.9 221.9L425.6 221.9L426.3 221.9L427.0 221.9L427.7 217.3L428.4 203.4L429.1 193.3L429.8 185.6L430.5 179.7L431.1 175.1L431.8 171.7L432.5 171.2L433.2 172.0L433.9 173.8L434.6 176.8L435.3 181.7L436.0 188.5L436.7 197.8L437.4 211.3L438.1 221.9L438.8 221.9L439.5 221.9L440.2 221.9L440.9 203.6L441.5 190.9L442.2 180.7L442.9 172.5L443.6 165.5L444.3 159.5L445.0 154.3L445.7 149.5L446.4 145.2L447.1 141.3L447.8 140.8L448.5 140.5L449.2 140.5L449.9 140.9L450.6 141.5L451.2 142.4L451.9 143.8L452.6 145.7L453.3 148.2L454.0 151.5L454.7 155.8L455.4 161.7L456.1 169.9L456.8 182.0L457.5 201.6L458.2 221.9L458.9 221.9L459.6 190.6L460.3 170.5L461.0 157.5L461.6 148.3L462.3 141.6L463.0 136.6L463.7 133.2L464.4 131.1L465.1 130.5L465.8 131.4L466.5 133.9L467.2 138.6L467.9 146.4L468.6 159.0L469.3 182.1L470.0 221.9L470.7 192.4L471.3 160.9L472.0 144.3L472.7 134.0L473.4 127.8L474.1 124.7L474.8 124.8L475.5 128.4L476.2 136.9L476.9 154.4L477.6 202.7L478.3 181.6L479.0 141.6L479.7 122.4L480.4 111.2L481.0 105.0L481.7 103.2L482.4 106.3L483.1 117.0L483.8 146.3L484.5 172.9L485.2 110.2L485.9 83.7L486.6 66.6L487.3 54.4L488.0 45.4L488.7 38.8L489.4 34.4L490.1 31.9L490.8 31.5L491.4 33.0L492.1 36.6L492.8 42.4L493.5 51.2L494.2 63.8L494.9 82.7L495.6 115.7L496.3 221.4L497.0 120.9L497.7 102.9L498.4 98.0L499.1 101.0L499.8 111.6L500.5 134.3L501.1 205.5L501.8 155.6L502.5 128.2L503.2 118.7L503.9 118.2L504.6 125.6L505.3 143.8L506.0 193.3L506.7 179.4L507.4 144.0L508.1 131.6L508.8 129.1L509.5 134.6L510.2 150.3L510.9 190.8L511.5 198.3L512.2 155.5L512.9 141.0L513.6 137.2L514.3 141.4L515.0 155.2L515.7 189.6L516.4 220.0L517.1 166.0L517.8 149.0L518.5 143.4L519.2 145.6L519.9 156.4L520.6 182.2L521.2 221.9L521.9 180.3L522.6 157.6L523.3 148.7L524.0 147.8L524.7 154.1L525.4 170.2L526.1 211.7L526.8 215.2L527.5 172.5L528.2 156.6L528.9 150.4L529.6 150.9L530.3 157.9L530.9 174.2L531.6 214.4L532.3 221.9L533.0 177.9L533.7 161.1L534.4 153.7L535.1 152.3L535.8 156.1L536.5 166.1L537.2 186.2L537.9 221.9L538.6 214.2L539.3 179.1L540.0 163.5L540.7 155.7L541.3 152.8L542.0 153.8L542.7 158.9L543.4 169.1L544.1 187.9L544.8 221.9L545.5 221.9L546.2 186.0L546.9 167.8L547.6 157.3L548.3 151.2L549.0 148.2L549.7 147.6L550.4 149.4L551.0 153.5L551.7 160.4L552.4 171.3L553.1 189.0L553.8 221.9L554.5 221.9L555.2 196.1L555.9 174.3L556.6 161.0L557.3 151.8L558.0 145.1L558.7 140.1L559.4 136.4L560.1 133.6L560.8 131.6L561.4 130.3L562.1 129.5L562.8 129.2L563.5 130.8L564.2 132.8L564.9 135.1L565.6 137.8L566.3 140.6L567.0 143.6L567.7 146.6L568.4 149.5L569.1 152.4L569.8 155.0L570.5 157.4L571.1 159.4L571.8 160.9L572.5 161.9L573.2 162.3L573.9 162.1L574.6 161.5L575.3 163.3L576.0 164.6L576.7 165.5L577.4 166.1L578.1 166.5L578.8 166.7L579.5 166.8L580.2 166.9L580.8 166.4L581.5 166.0L582.2 165.9L582.9 166.0L583.6 166.4L584.3 167.3L585.0 168.6L585.7 170.4L586.4 172.9L587.1 176.2L587.8 180.2L588.5 185.5L589.2 192.6L589.9 202.3L590.6 217.8L591.2 221.9L591.9 221.9L592.6 221.9L593.3 221.9L594.0 220.6L594.7 211.1L595.4 205.3L596.1 202.3L596.8 201.7L597.5 203.3L598.2 207.5L598.9 214.6L599.6 221.9L600.3 221.9L600.9 221.9L601.6 221.9L602.3 221.9L603.0 221.9L603.7 217.1L604.4 211.6L605.1 209.9L605.8 212.0L606.5 218.7L607.2 221.9L607.9 221.9L608.6 221.9L609.3 221.9L610.0 221.9L610.7 214.9L611.3 209.7L612.0 209.7L612.7 215.1L613.4 221.9L614.1 221.9L614.8 221.9L615.5 221.9L616.2 221.9L616.9 212.6L617.6 209.9L618.3 213.2L619.0 221.9L619.7 221.9L620.4 221.9L621.0 221.9L621.7 221.9L622.4 215.4L623.1 212.4L623.8 216.2L624.5 221.9L625.2 221.9L625.9 221.9L626.6 221.9L627.3 221.8L628.0 213.4L628.7 213.0L629.4 220.5L630.1 221.9L630.7 221.9L631.4 221.9L632.1 221.9L632.8 212.5L633.5 209.8L634.2 215.2L634.9 221.9L635.6 221.9" stroke="#0a0a0a" stroke-width="1.6"/>
<path d="M386.1 221.9L386.8 221.9L387.5 215.1L388.2 214.4L388.9 221.9L389.6 221.9L390.3 221.9L391.0 221.9L391.6 221.9L392.3 219.1L393.0 216.4L393.7 221.3L394.4 221.9L395.1 221.9L395.8 221.9L396.5 221.9L397.2 221.9L397.9 217.4L398.6 217.7L399.3 221.9L400.0 221.9L400.7 221.9L401.3 221.9L402.0 221.9L402.7 220.4L403.4 214.7L404.1 215.3L404.8 221.9L405.5 221.9L406.2 221.9L406.9 221.9L407.6 221.9L408.3 221.9L409.0 214.9L409.7 213.3L410.4 216.8L411.1 221.9L411.7 221.9L412.4 221.9L413.1 221.9L413.8 221.9L414.5 221.9L415.2 217.2L415.9 214.1L416.6 215.1L417.3 220.0L418.0 221.9L418.7 221.9L419.4 221.9L420.1 221.9L420.8 221.9L421.4 221.9L422.1 220.7L422.8 213.2L423.5 209.0L424.2 207.3L424.9 208.1L425.6 211.4L426.3 217.6L427.0 221.9L427.7 221.9L428.4 221.9L429.1 221.9L429.8 221.9L430.5 220.0L431.1 205.7L431.8 195.4L432.5 188.9L433.2 184.2L433.9 180.8L434.6 178.4L435.3 176.5L436.0 175.3L436.7 174.7L437.4 174.7L438.1 175.1L438.8 175.9L439.5 177.2L440.2 178.8L440.9 180.7L441.5 182.8L442.2 184.4L442.9 186.2L443.6 188.0L444.3 189.6L445.0 191.0L445.7 191.9L446.4 192.2L447.1 191.5L447.8 193.3L448.5 193.9L449.2 193.3L449.9 191.5L450.6 188.6L451.2 184.9L451.9 180.5L452.6 175.8L453.3 170.9L454.0 165.9L454.7 161.0L455.4 156.3L456.1 151.8L456.8 147.6L457.5 143.8L458.2 140.5L458.9 137.6L459.6 136.7L460.3 136.2L461.0 136.3L461.6 137.0L462.3 138.3L463.0 140.5L463.7 143.7L464.4 148.0L465.1 154.1L465.8 162.4L466.5 174.4L467.2 193.3L467.9 221.9L468.6 221.9L469.3 198.6L470.0 178.3L470.7 166.3L471.3 158.8L472.0 154.3L472.7 152.4L473.4 152.9L474.1 156.1L474.8 162.4L475.5 173.5L476.2 193.1L476.9 221.9L477.6 221.9L478.3 188.5L479.0 171.3L479.7 162.0L480.4 157.6L481.0 157.4L481.7 161.3L482.4 170.7L483.1 189.3L483.8 221.9L484.5 221.3L485.2 183.0L485.9 166.4L486.6 158.4L487.3 156.1L488.0 159.3L488.7 169.2L489.4 191.3L490.1 221.9L490.8 199.2L491.4 171.2L492.1 158.7L492.8 154.1L493.5 156.0L494.2 165.2L494.9 187.2L495.6 221.9L496.3 193.8L497.0 166.4L497.7 154.8L498.4 151.4L499.1 155.3L499.8 168.6L500.5 203.4L501.1 221.9L501.8 172.8L502.5 154.8L503.2 147.9L503.9 148.8L504.6 158.4L505.3 184.1L506.0 221.9L506.7 174.6L507.4 151.9L508.1 142.7L508.8 141.9L509.5 149.6L510.2 171.7L510.9 221.9L511.5 172.0L512.2 146.2L512.9 135.4L513.6 133.3L514.3 139.6L515.0 158.5L515.7 221.9L516.4 168.7L517.1 138.5L517.8 125.6L518.5 121.6L519.2 125.5L519.9 140.3L520.6 187.7L521.2 165.8L521.9 127.2L522.6 110.5L523.3 103.1L524.0 103.1L524.7 111.9L525.4 140.3L526.1 167.1L526.8 104.6L527.5 78.9L528.2 62.8L528.9 51.8L529.6 44.2L530.3 39.3L530.9 36.5L531.6 35.6L532.3 36.9L533.0 40.0L533.7 45.0L534.4 52.3L535.1 62.1L535.8 75.5L536.5 94.4L537.2 125.4L537.9 221.9L538.6 139.5L539.3 117.7L540.0 109.4L540.7 107.5L541.3 110.3L542.0 117.4L542.7 129.8L543.4 150.9L544.1 199.2L544.8 193.8L545.5 155.3L546.2 139.8L546.9 132.1L547.6 128.9L548.3 129.0L549.0 132.2L549.7 138.4L550.4 148.6L551.0 164.7L551.7 194.8L552.4 221.9L553.1 188.9L553.8 164.7L554.5 151.6L555.2 143.4L555.9 138.3L556.6 135.3L557.3 134.0L558.0 134.0L558.7 135.4L559.4 137.9L560.1 141.7L560.8 146.9L561.4 153.8L562.1 162.9L562.8 175.6L563.5 193.0L564.2 221.9L564.9 221.9L565.6 221.9L566.3 200.4L567.0 186.2L567.7 177.0L568.4 170.5L569.1 165.8L569.8 162.4L570.5 159.8L571.1 158.0L571.8 156.8L572.5 156.0L573.2 155.8L573.9 156.0L574.6 156.6L575.3 161.3L576.0 166.6L576.7 172.8L577.4 179.9L578.1 188.6L578.8 199.5L579.5 214.2L580.2 221.9L580.8 221.9L581.5 221.9L582.2 221.9L582.9 212.7L583.6 200.4L584.3 191.6L585.0 185.1L585.7 180.2L586.4 176.6L587.1 174.3L587.8 173.3L588.5 173.3L589.2 174.3L589.9 176.5L590.6 181.7L591.2 188.3L591.9 196.7L592.6 207.7L593.3 221.9L594.0 221.9L594.7 221.9L595.4 221.9L596.1 221.9L596.8 216.5L597.5 207.7L598.2 202.8L598.9 201.0L599.6 202.1L600.3 205.7L600.9 213.8L601.6 221.9L602.3 221.9L603.0 221.9L603.7 221.9L604.4 210.7L605.1 198.1L605.8 191.3L606.5 189.5L607.2 193.1L607.9 205.2L608.6 221.9L609.3 221.9L610.0 190.3L610.7 166.0L611.3 150.1L612.0 138.8L612.7 130.6L613.4 124.9L614.1 121.3L614.8 119.8L615.5 121.5L616.2 125.4L616.9 131.7L617.6 141.0L618.3 154.4L619.0 174.6L619.7 210.7L620.4 221.9L621.0 209.1L621.7 194.0L622.4 191.2L623.1 196.8L623.8 211.7L624.5 221.9L625.2 221.9L625.9 221.9L626.6 211.8L627.3 206.3L628.0 209.0L628.7 220.5L629.4 221.9L630.1 221.9L630.7 221.9L631.4 219.0L632.1 211.5L632.8 212.2L633.5 221.3L634.2 221.9L634.9 221.9L635.6 221.9" stroke="#0a0a0a" stroke-width="1.6"/>
<path d="M386.1 221.9L386.8 221.9L387.5 218.0L388.2 215.4L388.9 220.3L389.6 221.9L390.3 221.9L391.0 221.9L391.6 221.9L392.3 221.2L393.0 215.3L393.7 216.9L394.4 221.9L395.1 221.9L395.8 221.9L396.5 221.9L397.2 221.9L397.9 215.6L398.6 212.9L399.3 217.4L400.0 221.9L400.7 221.9L401.3 221.9L402.0 221.9L402.7 215.2L403.4 207.6L404.1 207.0L404.8 213.3L405.5 221.9L406.2 221.9L406.9 221.9L407.6 221.9L408.3 207.0L409.0 200.2L409.7 199.3L410.4 204.3L411.1 217.0L411.7 221.9L412.4 221.9L413.1 221.9L413.8 206.3L414.5 194.7L415.2 189.2L415.9 188.6L416.6 193.0L417.3 204.5L418.0 221.9L418.7 221.9L419.4 208.5L420.1 181.8L420.8 165.3L421.4 153.6L422.1 144.9L422.8 136.6L423.5 130.0L424.2 124.7L424.9 120.6L425.6 117.4L426.3 115.1L427.0 113.6L427.7 112.8L428.4 110.3L429.1 108.3L429.8 106.8L430.5 106.0L431.1 105.6L431.8 105.7L432.5 109.4L433.2 113.6L433.9 118.7L434.6 124.5L435.3 132.4L436.0 141.9L436.7 153.7L437.4 169.2L438.1 192.4L438.8 221.9L439.5 221.9L440.2 192.6L440.9 174.7L441.5 163.4L442.2 154.6L442.9 147.8L443.6 142.3L444.3 137.6L445.0 133.6L445.7 130.1L446.4 126.9L447.1 124.0L447.8 123.1L448.5 122.4L449.2 122.1L449.9 121.9L450.6 122.0L451.2 122.4L451.9 123.0L452.6 124.1L453.3 125.8L454.0 128.3L454.7 131.7L455.4 136.8L456.1 144.2L456.8 156.0L457.5 176.9L458.2 221.9L458.9 188.2L459.6 149.9L460.3 128.8L461.0 113.9L461.6 102.1L462.3 92.3L463.0 84.0L463.7 76.8L464.4 70.5L465.1 64.9L465.8 60.0L466.5 55.8L467.2 52.2L467.9 49.1L468.6 46.7L469.3 44.9L470.0 43.8L470.7 43.3L471.3 43.5L472.0 44.6L472.7 46.5L473.4 49.4L474.1 53.4L474.8 58.9L475.5 66.0L476.2 75.6L476.9 88.5L477.6 107.3L478.3 140.4L479.0 221.9L479.7 137.9L480.4 117.6L481.0 108.7L481.7 105.9L482.4 107.7L483.1 114.1L483.8 126.6L484.5 150.5L485.2 221.9L485.9 167.0L486.6 138.9L487.3 127.1L488.0 122.9L488.7 124.5L489.4 132.2L490.1 148.7L490.8 188.2L491.4 202.1L492.1 156.1L492.8 139.9L493.5 133.8L494.2 134.5L494.9 142.3L495.6 160.2L496.3 208.4L497.0 195.8L497.7 158.9L498.4 145.0L499.1 140.8L499.8 143.8L500.5 155.3L501.1 182.6L501.8 221.9L502.5 176.2L503.2 154.8L503.9 146.8L504.6 147.0L505.3 155.2L506.0 176.1L506.7 221.9L507.4 190.5L508.1 162.4L508.8 151.6L509.5 149.9L510.2 156.1L510.9 173.6L511.5 221.9L512.2 203.3L512.9 168.6L513.6 155.7L514.3 152.4L515.0 157.1L515.7 171.8L516.4 210.5L517.1 221.1L517.8 175.6L518.5 159.7L519.2 154.3L519.9 156.6L520.6 167.4L521.2 193.8L521.9 221.9L522.6 188.2L523.3 165.8L524.0 156.6L524.7 155.3L525.4 161.0L526.1 176.1L526.8 214.4L527.5 221.9L528.2 180.2L528.9 163.0L529.6 155.9L530.3 155.3L530.9 161.0L531.6 175.1L532.3 207.8L533.0 221.9L533.7 187.2L534.4 167.3L535.1 158.1L535.8 155.1L536.5 157.2L537.2 164.7L537.9 180.1L538.6 213.9L539.3 221.9L540.0 191.3L540.7 170.6L541.3 159.9L542.0 154.6L542.7 153.3L543.4 155.6L544.1 161.8L544.8 173.2L545.5 194.1L546.2 221.9L546.9 220.0L547.6 184.5L548.3 167.6L549.0 157.4L549.7 151.2L550.4 147.8L551.0 146.5L551.7 147.2L552.4 149.8L553.1 154.4L553.8 161.4L554.5 171.8L555.2 187.9L555.9 217.8L556.6 221.9L557.3 207.9L558.0 182.6L558.7 167.6L559.4 157.3L560.1 149.6L560.8 143.7L561.4 138.9L562.1 135.1L562.8 132.0L563.5 130.7L564.2 130.0L564.9 129.7L565.6 129.9L566.3 130.3L567.0 130.9L567.7 131.6L568.4 132.4L569.1 133.2L569.8 134.0L570.5 134.7L571.1 135.3L571.8 135.8L572.5 136.2L573.2 136.4L573.9 136.6L574.6 136.7L575.3 139.4L576.0 142.0L576.7 144.5L577.4 146.8L578.1 149.1L578.8 151.4L579.5 153.7L580.2 156.0L580.8 157.8L581.5 159.8L582.2 162.0L582.9 164.5L583.6 167.5L584.3 170.9L585.0 175.1L585.7 180.1L586.4 186.2L587.1 194.0L587.8 204.6L588.5 219.8L589.2 221.9L589.9 221.9L590.6 221.9L591.2 221.9L591.9 214.4L592.6 206.4L593.3 201.9L594.0 200.0L594.7 199.3L595.4 200.6L596.1 204.1L596.8 210.1L597.5 219.6L598.2 221.9L598.9 221.9L599.6 221.9L600.3 221.9L600.9 221.9L601.6 221.9L602.3 217.2L603.0 213.0L603.7 212.4L604.4 215.4L605.1 221.9L605.8 221.9L606.5 221.9L607.2 221.9L607.9 221.9L608.6 221.9L609.3 218.3L610.0 212.9L610.7 212.4L611.3 216.8L612.0 221.9L612.7 221.9L613.4 221.9L614.1 221.9L614.8 221.9L615.5 217.2L616.2 212.7L616.9 214.1L617.6 221.9L618.3 221.9L619.0 221.9L619.7 221.9L620.4 221.9L621.0 221.6L621.7 215.9L622.4 216.9L623.1 221.9L623.8 221.9L624.5 221.9L625.2 221.9L625.9 221.9L626.6 221.2L627.3 216.9L628.0 219.9L628.7 221.9L629.4 221.9L630.1 221.9L630.7 221.9L631.4 221.9L632.1 217.1L632.8 216.9L633.5 221.9L634.2 221.9L634.9 221.9L635.6 221.9" stroke="#0a0a0a" stroke-width="1.6"/>
<path d="M386.1 221.9L386.8 221.9L387.5 221.9L388.2 221.9L388.9 221.9L389.6 219.8L390.3 221.0L391.0 221.9L391.6 221.9L392.3 221.9L393.0 221.9L393.7 221.9L394.4 221.9L395.1 220.3L395.8 221.9L396.5 221.9L397.2 221.9L397.9 221.9L398.6 221.9L399.3 221.9L400.0 219.4L400.7 219.0L401.3 221.9L402.0 221.9L402.7 221.9L403.4 221.9L404.1 221.9L404.8 221.9L405.5 216.8L406.2 215.5L406.9 220.1L407.6 221.9L408.3 221.9L409.0 221.9L409.7 221.9L410.4 221.9L411.1 220.6L411.7 215.8L412.4 216.0L413.1 220.8L413.8 221.9L414.5 221.9L415.2 221.9L415.9 221.9L416.6 221.9L417.3 221.9L418.0 219.7L418.7 215.9L419.4 215.6L420.1 218.6L420.8 221.9L421.4 221.9L422.1 221.9L422.8 221.9L423.5 221.9L424.2 221.9L424.9 221.9L425.6 215.6L426.3 208.1L427.0 203.3L427.7 200.6L428.4 199.0L429.1 199.2L429.8 201.5L430.5 206.2L431.1 214.2L431.8 221.9L432.5 221.9L433.2 221.9L433.9 221.9L434.6 221.9L435.3 211.2L436.0 199.9L436.7 191.3L437.4 184.4L438.1 178.8L438.8 174.0L439.5 169.9L440.2 166.4L440.9 163.2L441.5 160.4L442.2 157.1L442.9 154.0L443.6 151.1L444.3 148.2L445.0 145.3L445.7 142.5L446.4 139.6L447.1 136.7L447.8 136.4L448.5 136.1L449.2 135.8L449.9 135.6L450.6 135.3L451.2 135.0L451.9 134.8L452.6 134.6L453.3 134.5L454.0 134.5L454.7 134.6L455.4 135.0L456.1 135.7L456.8 136.8L457.5 138.6L458.2 141.1L458.9 144.4L459.6 149.9L460.3 156.7L461.0 165.4L461.6 177.3L462.3 194.9L463.0 221.9L463.7 221.9L464.4 209.3L465.1 186.1L465.8 172.3L466.5 163.0L467.2 156.5L467.9 152.1L468.6 149.5L469.3 148.6L470.0 149.3L470.7 152.0L471.3 156.9L472.0 164.8L472.7 177.6L473.4 199.9L474.1 221.9L474.8 220.1L475.5 187.2L476.2 171.2L476.9 162.1L477.6 157.4L478.3 156.2L479.0 158.4L479.7 164.6L480.4 176.6L481.0 200.0L481.7 221.9L482.4 209.9L483.1 181.1L483.8 167.0L484.5 160.2L485.2 158.5L485.9 161.8L486.6 171.3L487.3 191.6L488.0 221.9L488.7 210.6L489.4 178.5L490.1 164.3L490.8 158.6L491.4 159.0L492.1 165.8L492.8 182.2L493.5 221.9L494.2 221.9L494.9 180.9L495.6 164.9L496.3 158.7L497.0 159.4L497.7 167.7L498.4 188.2L499.1 221.9L499.8 201.8L500.5 172.6L501.1 160.6L501.8 157.4L502.5 161.8L503.2 176.0L503.9 214.0L504.6 221.9L505.3 178.1L506.0 161.6L506.7 155.8L507.4 157.9L508.1 169.2L508.8 198.8L509.5 221.9L510.2 180.8L510.9 160.9L511.5 153.4L512.2 154.1L512.9 163.4L513.6 187.9L514.3 221.9L515.0 183.8L515.7 160.2L516.4 150.7L517.1 149.5L517.8 156.5L518.5 175.6L519.2 221.9L519.9 191.1L520.6 160.4L521.2 147.7L521.9 143.9L522.6 147.4L523.3 160.2L524.0 193.7L524.7 220.0L525.4 165.3L526.1 146.2L526.8 137.9L527.5 136.8L528.2 142.6L528.9 158.4L529.6 202.8L530.3 192.6L530.9 152.0L531.6 135.0L532.3 127.3L533.0 125.8L533.7 130.2L534.4 142.6L535.1 172.8L535.8 216.7L536.5 150.4L537.2 127.8L537.9 115.9L538.6 110.0L539.3 108.9L540.0 112.6L540.7 123.2L541.3 148.5L542.0 221.9L542.7 131.9L543.4 103.8L544.1 86.8L544.8 74.8L545.5 66.0L546.2 59.3L546.9 54.3L547.6 50.7L548.3 48.2L549.0 46.7L549.7 46.1L550.4 46.2L551.0 47.2L551.7 48.8L552.4 51.2L553.1 54.2L553.8 57.9L554.5 62.4L555.2 67.5L555.9 73.5L556.6 80.4L557.3 88.3L558.0 97.7L558.7 109.0L559.4 123.3L560.1 142.8L560.8 175.7L561.4 221.9L562.1 172.6L562.8 149.5L563.5 138.5L564.2 131.4L564.9 126.5L565.6 123.3L566.3 121.3L567.0 119.9L567.7 119.1L568.4 118.8L569.1 118.7L569.8 118.9L570.5 119.2L571.1 119.7L571.8 120.2L572.5 120.7L573.2 121.3L573.9 122.1L574.6 122.9L575.3 125.0L576.0 127.2L576.7 129.5L577.4 132.0L578.1 134.7L578.8 137.8L579.5 141.3L580.2 145.6L580.8 150.0L581.5 155.8L582.2 163.6L582.9 174.5L583.6 191.9L584.3 221.9L585.0 221.9L585.7 192.6L586.4 169.0L587.1 153.4L587.8 142.7L588.5 134.1L589.2 127.1L589.9 121.2L590.6 119.2L591.2 117.9L591.9 117.3L592.6 117.4L593.3 118.0L594.0 119.4L594.7 118.8L595.4 119.1L596.1 120.1L596.8 121.9L597.5 124.6L598.2 128.3L598.9 133.1L599.6 139.3L600.3 145.4L600.9 153.4L601.6 164.2L602.3 179.3L603.0 202.6L603.7 221.9L604.4 221.9L605.1 211.3L605.8 197.4L606.5 191.7L607.2 191.6L607.9 196.3L608.6 207.1L609.3 221.9L610.0 221.9L610.7 221.9L611.3 221.2L612.0 207.7L612.7 202.3L613.4 203.0L614.1 209.7L614.8 221.9L615.5 221.9L616.2 221.9L616.9 221.9L617.6 216.5L618.3 210.5L619.0 211.5L619.7 219.7L620.4 221.9L621.0 221.9L621.7 221.9L622.4 221.9L623.1 220.1L623.8 216.4L624.5 219.9L625.2 221.9L625.9 221.9L626.6 221.9L627.3 221.9L628.0 221.9L628.7 219.5L629.4 218.7L630.1 221.9L630.7 221.9L631.4 221.9L632.1 221.9L632.8 221.9L633.5 221.9L634.2 218.4L634.9 221.9L635.6 221.9" stroke="#0a0a0a" stroke-width="1.6"/>
<path d="M386.1 221.9L386.8 221.9L387.5 221.9L388.2 219.5L388.9 214.9L389.6 217.8L390.3 221.9L391.0 221.9L391.6 221.9L392.3 221.9L393.0 221.9L393.7 216.1L394.4 215.5L395.1 221.9L395.8 221.9L396.5 221.9L397.2 221.9L397.9 221.9L398.6 218.2L399.3 212.9L400.0 214.5L400.7 221.9L401.3 221.9L402.0 221.9L402.7 221.9L403.4 221.9L404.1 211.8L404.8 207.8L405.5 210.1L406.2 219.6L406.9 221.9L407.6 221.9L408.3 221.9L409.0 221.9L409.7 210.5L410.4 205.1L411.1 205.0L411.7 210.3L412.4 221.9L413.1 221.9L413.8 221.9L414.5 221.9L415.2 221.8L415.9 209.1L416.6 202.8L417.3 200.9L418.0 202.9L418.7 209.5L419.4 221.9L420.1 221.9L420.8 221.9L421.4 221.9L422.1 216.2L422.8 200.1L423.5 190.0L424.2 183.7L424.9 180.5L425.6 180.2L426.3 183.2L427.0 190.5L427.7 205.6L428.4 221.9L429.1 221.9L429.8 182.8L430.5 157.8L431.1 139.8L431.8 125.3L432.5 116.2L433.2 108.6L433.9 102.1L434.6 96.4L435.3 92.3L436.0 88.7L436.7 85.6L437.4 82.8L438.1 80.4L438.8 78.3L439.5 76.4L440.2 74.8L440.9 73.3L441.5 71.9L442.2 70.1L442.9 68.4L443.6 66.8L444.3 65.2L445.0 63.6L445.7 62.1L446.4 60.6L447.1 59.0L447.8 57.9L448.5 56.8L449.2 56.0L449.9 55.2L450.6 54.5L451.2 53.7L451.9 52.9L452.6 52.2L453.3 51.5L454.0 50.9L454.7 50.4L455.4 49.9L456.1 49.6L456.8 49.5L457.5 50.0L458.2 50.7L458.9 51.7L459.6 53.2L460.3 55.0L461.0 57.2L461.6 59.8L462.3 63.0L463.0 66.9L463.7 71.6L464.4 77.4L465.1 84.6L465.8 93.6L466.5 105.4L467.2 122.1L467.9 149.8L468.6 221.9L469.3 160.6L470.0 133.7L470.7 120.4L471.3 112.9L472.0 109.1L472.7 108.1L473.4 109.8L474.1 114.3L474.8 122.2L475.5 135.1L476.2 157.9L476.9 221.4L477.6 181.3L478.3 149.2L479.0 134.6L479.7 127.3L480.4 124.7L481.0 126.2L481.7 132.1L482.4 143.9L483.1 166.6L483.8 221.9L484.5 182.3L485.2 152.9L485.9 139.8L486.6 134.4L487.3 134.5L488.0 140.2L488.7 153.4L489.4 182.5L490.1 221.9L490.8 172.4L491.4 151.1L492.1 142.0L492.8 140.1L493.5 144.7L494.2 157.4L494.9 186.5L495.6 221.9L496.3 175.4L497.0 154.6L497.7 146.3L498.4 145.7L499.1 152.5L499.8 169.7L500.5 217.5L501.1 203.9L501.8 166.8L502.5 152.9L503.2 148.7L503.9 152.2L504.6 164.8L505.3 196.5L506.0 221.9L506.7 176.8L507.4 158.2L508.1 151.6L508.8 153.0L509.5 163.1L510.2 188.5L510.9 221.9L511.5 185.1L512.2 162.5L512.9 153.9L513.6 153.8L514.3 161.9L515.0 183.0L515.7 221.9L516.4 194.7L517.1 167.0L517.8 156.1L518.5 154.0L519.2 159.5L519.9 175.4L520.6 218.7L521.2 215.2L521.9 174.6L522.6 159.4L523.3 154.0L524.0 155.8L524.7 165.5L525.4 188.5L526.1 221.9L526.8 194.1L527.5 167.8L528.2 156.5L528.9 153.0L529.6 155.8L530.3 165.9L530.9 188.5L531.6 221.9L532.3 197.6L533.0 169.9L533.7 157.6L534.4 152.7L535.1 153.2L535.8 159.2L536.5 172.3L537.2 200.4L537.9 221.9L538.6 193.2L539.3 169.6L540.0 157.8L540.7 152.0L541.3 150.6L542.0 153.0L542.7 159.6L543.4 172.1L544.1 196.0L544.8 221.9L545.5 205.5L546.2 176.1L546.9 161.2L547.6 152.3L548.3 147.2L549.0 144.9L549.7 144.9L550.4 147.2L551.0 151.8L551.7 159.2L552.4 170.6L553.1 189.2L553.8 221.9L554.5 221.9L555.2 193.5L555.9 172.7L556.6 159.8L557.3 150.8L558.0 144.2L558.7 139.3L559.4 135.6L560.1 132.8L560.8 130.7L561.4 129.3L562.1 128.2L562.8 127.6L563.5 128.8L564.2 130.3L564.9 132.1L565.6 134.3L566.3 136.7L567.0 139.1L567.7 141.5L568.4 143.9L569.1 146.2L569.8 148.2L570.5 150.0L571.1 151.4L571.8 152.5L572.5 153.1L573.2 153.3L573.9 153.0L574.6 152.4L575.3 154.9L576.0 157.0L576.7 158.7L577.4 160.0L578.1 161.1L578.8 161.9L579.5 162.6L580.2 163.2L580.8 163.2L581.5 163.1L582.2 163.2L582.9 163.5L583.6 164.1L584.3 165.0L585.0 166.2L585.7 168.0L586.4 170.4L587.1 173.5L587.8 177.6L588.5 183.1L589.2 190.6L589.9 200.7L590.6 218.5L591.2 221.9L591.9 221.9L592.6 221.9L593.3 221.9L594.0 214.2L594.7 206.9L595.4 202.7L596.1 201.0L596.8 201.7L597.5 204.7L598.2 210.5L598.9 219.9L599.6 221.9L600.3 221.9L600.9 221.9L601.6 221.9L602.3 221.9L603.0 221.9L603.7 214.6L604.4 211.2L605.1 211.3L605.8 215.3L606.5 221.9L607.2 221.9L607.9 221.9L608.6 221.9L609.3 221.9L610.0 221.9L610.7 213.5L611.3 210.5L612.0 212.4L612.7 220.0L613.4 221.9L614.1 221.9L614.8 221.9L615.5 221.9L616.2 219.9L616.9 212.8L617.6 212.1L618.3 217.6L619.0 221.9L619.7 221.9L620.4 221.9L621.0 221.9L621.7 221.9L622.4 216.1L623.1 215.3L623.8 221.5L624.5 221.9L625.2 221.9L625.9 221.9L626.6 221.9L627.3 221.9L628.0 216.2L628.7 217.5L629.4 221.9L630.1 221.9L630.7 221.9L631.4 221.9L632.1 221.9L632.8 217.3L633.5 215.4L634.2 221.2L634.9 221.9L635.6 221.9" stroke="#0a0a0a" stroke-width="1.6"/>
<path d="M386.1 221.9L386.8 221.9L387.5 221.9L388.2 217.0L388.9 218.9L389.6 221.9L390.3 221.9L391.0 221.9L391.6 221.9L392.3 221.9L393.0 219.1L393.7 217.8L394.4 221.9L395.1 221.9L395.8 221.9L396.5 221.9L397.2 221.9L397.9 221.9L398.6 216.9L399.3 217.7L400.0 221.9L400.7 221.9L401.3 221.9L402.0 221.9L402.7 221.9L403.4 219.2L404.1 213.7L404.8 214.5L405.5 221.6L406.2 221.9L406.9 221.9L407.6 221.9L408.3 221.9L409.0 221.7L409.7 214.0L410.4 212.1L411.1 215.1L411.7 221.9L412.4 221.9L413.1 221.9L413.8 221.9L414.5 221.9L415.2 221.9L415.9 217.0L416.6 212.9L417.3 212.8L418.0 216.2L418.7 221.9L419.4 221.9L420.1 221.9L420.8 221.9L421.4 221.9L422.1 221.9L422.8 221.5L423.5 212.1L424.2 206.3L424.9 203.3L425.6 202.6L426.3 204.3L427.0 208.5L427.7 215.8L428.4 221.9L429.1 221.9L429.8 221.9L430.5 221.9L431.1 220.2L431.8 202.4L432.5 192.2L433.2 184.8L433.9 179.2L434.6 175.1L435.3 172.0L436.0 169.6L436.7 167.9L437.4 166.6L438.1 165.7L438.8 165.2L439.5 164.9L440.2 164.8L440.9 164.8L441.5 164.9L442.2 164.3L442.9 163.6L443.6 162.7L444.3 161.6L445.0 160.3L445.7 158.6L446.4 156.5L447.1 154.0L447.8 154.7L448.5 154.9L449.2 154.7L449.9 154.1L450.6 153.0L451.2 151.6L451.9 149.8L452.6 147.8L453.3 145.5L454.0 143.2L454.7 140.7L455.4 138.3L456.1 136.0L456.8 133.8L457.5 131.9L458.2 130.4L458.9 129.2L459.6 129.9L460.3 130.9L461.0 132.4L461.6 134.4L462.3 137.2L463.0 140.9L463.7 145.9L464.4 152.4L465.1 161.4L465.8 174.3L466.5 195.1L467.2 221.9L467.9 221.9L468.6 190.8L469.3 172.3L470.0 160.8L470.7 153.4L471.3 148.8L472.0 146.6L472.7 146.5L473.4 148.9L474.1 154.0L474.8 162.8L475.5 177.7L476.2 207.1L476.9 221.9L477.6 197.6L478.3 173.7L479.0 161.3L479.7 154.6L480.4 152.2L481.0 153.7L481.7 159.4L482.4 171.2L483.1 194.9L483.8 221.9L484.5 202.0L485.2 174.0L485.9 160.8L486.6 154.8L487.3 154.3L488.0 159.2L488.7 171.6L489.4 199.2L490.1 221.9L490.8 190.1L491.4 167.5L492.1 157.4L492.8 154.6L493.5 158.1L494.2 169.4L494.9 195.7L495.6 221.9L496.3 190.1L497.0 167.1L497.7 157.4L498.4 155.6L499.1 161.0L499.8 176.3L500.5 216.8L501.1 220.3L501.8 177.0L502.5 161.1L503.2 155.6L503.9 157.7L504.6 168.6L505.3 196.3L506.0 221.9L506.7 184.6L507.4 163.5L508.1 155.4L508.8 155.5L509.5 164.1L510.2 186.7L510.9 221.9L511.5 190.1L512.2 164.7L512.9 154.6L513.6 153.2L514.3 159.9L515.0 178.5L515.7 221.9L516.4 198.1L517.1 166.5L517.8 153.8L518.5 150.4L519.2 154.5L519.9 168.5L520.6 205.5L521.2 219.2L521.9 171.3L522.6 154.1L523.3 147.3L524.0 147.9L524.7 156.2L525.4 177.0L526.1 221.9L526.8 188.1L527.5 159.0L528.2 146.3L528.9 141.8L529.6 143.6L530.3 152.7L530.9 174.0L531.6 221.9L532.3 184.1L533.0 155.0L533.7 141.8L534.4 136.1L535.1 136.0L535.8 141.5L536.5 154.5L537.2 184.0L537.9 221.9L538.6 168.2L539.3 145.5L540.0 133.7L540.7 127.9L541.3 126.4L542.0 128.9L542.7 136.3L543.4 150.8L544.1 182.9L544.8 221.9L545.5 159.5L546.2 136.8L546.9 123.8L547.6 115.9L548.3 111.4L549.0 109.7L549.7 110.7L550.4 114.5L551.0 122.0L551.7 135.3L552.4 162.2L553.1 221.9L553.8 151.4L554.5 123.8L555.2 107.1L555.9 95.2L556.6 86.2L557.3 79.0L558.0 73.3L558.7 68.5L559.4 64.7L560.1 61.4L560.8 58.8L561.4 56.6L562.1 54.8L562.8 53.3L563.5 52.3L564.2 51.6L564.9 51.1L565.6 51.3L566.3 51.6L567.0 52.0L567.7 52.5L568.4 53.2L569.1 53.8L569.8 54.6L570.5 55.3L571.1 56.1L571.8 56.9L572.5 57.7L573.2 58.4L573.9 59.5L574.6 60.7L575.3 62.2L576.0 63.7L576.7 65.2L577.4 66.8L578.1 68.4L578.8 70.0L579.5 71.7L580.2 73.5L580.8 74.9L581.5 76.4L582.2 78.1L582.9 79.9L583.6 82.0L584.3 84.4L585.0 87.2L585.7 90.3L586.4 93.9L587.1 98.1L587.8 103.7L588.5 110.2L589.2 117.9L589.9 127.0L590.6 141.4L591.2 159.4L591.9 184.5L592.6 221.9L593.3 221.9L594.0 207.2L594.7 192.2L595.4 184.8L596.1 181.9L596.8 182.1L597.5 185.3L598.2 191.6L598.9 201.8L599.6 217.8L600.3 221.9L600.9 221.9L601.6 221.9L602.3 221.9L603.0 211.1L603.7 204.5L604.4 202.6L605.1 204.4L605.8 210.7L606.5 221.9L607.2 221.9L607.9 221.9L608.6 221.9L609.3 221.9L610.0 211.9L610.7 206.7L611.3 206.7L612.0 212.1L612.7 221.9L613.4 221.9L614.1 221.9L614.8 221.9L615.5 221.2L616.2 211.7L616.9 209.4L617.6 213.4L618.3 221.9L619.0 221.9L619.7 221.9L620.4 221.9L621.0 221.9L621.7 216.2L622.4 214.5L623.1 219.8L623.8 221.9L624.5 221.9L625.2 221.9L625.9 221.9L626.6 221.9L627.3 217.2L628.0 217.7L628.7 221.9L629.4 221.9L630.1 221.9L630.7 221.9L631.4 221.9L632.1 219.5L632.8 216.6L633.5 221.2L634.2 221.9L634.9 221.9L635.6 221.9" stroke="#0a0a0a" stroke-width="1.6"/>
<path d="M386.1 144.1L386.4 143.0L386.8 142.6L387.1 142.9L387.5 144.2L387.8 146.5L388.2 150.1L388.5 155.1L388.9 162.0L389.2 171.1L389.6 182.9L389.9 197.3L390.3 210.7L390.6 214.5L391.0 211.9L391.3 211.1L391.6 213.4L392.0 221.0L392.3 221.9L392.7 221.9L393.0 221.9L393.4 221.9L393.7 221.9L394.1 221.9L394.4 221.9L394.8 221.9L395.1 213.3L395.5 202.2L395.8 193.6L396.1 187.1L396.5 182.9L396.8 180.1L397.2 177.5L397.5 175.5L397.9 173.7L398.2 173.4L398.6 173.9L398.9 175.9L399.3 178.3L399.6 179.7L400.0 179.0L400.3 175.0L400.7 169.2L401.0 163.6L401.3 159.0L401.7 155.8L402.0 154.3L402.4 154.7L402.7 156.6L403.1 160.2L403.4 164.8L403.8 170.3L404.1 175.8L404.5 179.8L404.8 180.5L405.2 178.8L405.5 175.5L405.9 172.1L406.2 169.1L406.5 166.6L406.9 165.2L407.2 164.4L407.6 165.0L407.9 166.5L408.3 169.0L408.6 172.1L409.0 174.6L409.3 176.0L409.7 175.8L410.0 174.9L410.4 173.5L410.7 172.2L411.1 171.7L411.4 172.6L411.7 174.6L412.1 178.2L412.4 183.7L412.8 192.1L413.1 204.5L413.5 221.9L413.8 221.9L414.2 221.9L414.5 221.6L414.9 202.0L415.2 189.6L415.6 180.7L415.9 173.9L416.2 168.4L416.6 163.7L416.9 159.5L417.3 156.0L417.6 152.7L418.0 150.0L418.3 148.1L418.7 146.8L419.0 146.3L419.4 146.5L419.7 147.8L420.1 150.1L420.4 153.5L420.8 158.0L421.1 164.2L421.4 172.1L421.8 182.1L422.1 194.6L422.5 209.8L422.8 219.3L423.2 211.8L423.5 198.9L423.9 188.6L424.2 180.5L424.6 174.2L424.9 169.7L425.3 166.2L425.6 163.7L426.0 161.8L426.3 160.8L426.6 160.5L427.0 160.9L427.3 161.8L427.7 163.4L428.0 165.6L428.4 168.4L428.7 172.0L429.1 176.1L429.4 181.2L429.8 186.9L430.1 193.3L430.5 201.0L430.8 209.6L431.1 218.9L431.5 221.9L431.8 221.9L432.2 221.9L432.5 219.8L432.9 212.4L433.2 205.9L433.6 200.2L433.9 195.6L434.3 191.9L434.6 188.8L435.0 185.8L435.3 183.1L435.7 180.9L436.0 178.9L436.3 177.2L436.7 175.6L437.0 174.3L437.4 173.1L437.7 171.9L438.1 171.0L438.4 170.0L438.8 169.2L439.1 168.5L439.5 167.7L439.8 167.1L440.2 166.5L440.5 165.9L440.9 165.3L441.2 164.7L441.5 164.2L441.9 163.3L442.2 162.4L442.6 161.5L442.9 160.6L443.3 159.6L443.6 158.7L444.0 157.8L444.3 156.8L444.7 155.8L445.0 154.8L445.4 153.8L445.7 152.7L446.0 151.6L446.4 150.4L446.7 149.2L447.1 147.9L447.4 147.9L447.8 147.8L448.1 147.7L448.5 141.0L448.8 140.8L449.2 140.5L449.5 140.2L449.9 139.7L450.2 139.2L450.6 138.6L450.9 138.0L451.2 137.3L451.6 136.5L451.9 135.6L452.3 134.7L452.6 133.7L453.0 132.7L453.3 131.6L453.7 130.4L454.0 129.3L454.4 128.1L454.7 126.9L455.1 125.7L455.4 124.5L455.8 123.4L456.1 122.3L456.4 121.2L456.8 120.2L457.1 119.4L457.5 118.6L457.8 117.9L458.2 117.3L458.5 116.8L458.9 116.4L459.2 116.7L459.6 117.2L459.9 118.0L460.3 119.2L460.6 121.0L461.0 123.4L461.3 126.7L461.6 131.0L462.0 136.5L462.3 143.4L462.7 152.0L463.0 162.7L463.4 176.1L463.7 191.3L464.1 203.0L464.4 203.9L464.8 202.2L465.1 205.3L465.5 215.7L465.8 221.9L466.1 221.9L466.5 203.1L466.8 188.1L467.2 177.6L467.5 170.4L467.9 166.4L468.2 164.8L468.6 166.5L468.9 170.4L469.3 176.2L469.6 179.8L470.0 177.6L470.3 169.2L470.7 158.7L471.0 150.2L471.3 145.8L471.7 145.3L472.0 147.8L472.4 151.0L472.7 153.2L473.1 152.3L473.4 150.6L473.8 150.5L474.1 154.0L474.5 161.4L474.8 170.5L475.2 176.8L475.5 176.9L475.9 172.6L476.2 166.2L476.5 160.9L476.9 158.1L477.2 158.0L477.6 158.3L477.9 157.3L478.3 153.8L478.6 150.6L479.0 148.9L479.3 149.9L479.7 155.8L480.0 171.1L480.4 191.1L480.7 171.7L481.0 158.9L481.4 160.6L481.7 170.4L482.1 174.8L482.4 167.3L482.8 160.0L483.1 159.4L483.5 166.0L483.8 176.2L484.2 178.5L484.5 168.2L484.9 154.8L485.2 144.4L485.6 139.1L485.9 138.8L486.2 142.0L486.6 145.5L486.9 147.3L487.3 149.6L487.6 155.8L488.0 159.6L488.3 156.3L488.7 163.7L489.0 203.6L489.4 210.9L489.7 172.6L490.1 153.5L490.4 140.6L490.8 134.5L491.1 133.3L491.4 133.1L491.8 132.6L492.1 133.4L492.5 136.8L492.8 140.7L493.2 142.6L493.5 143.5L493.9 147.8L494.2 162.6L494.6 190.0L494.9 181.7L495.3 168.6L495.6 154.4L495.9 137.5L496.3 124.8L496.6 121.2L497.0 124.7L497.3 129.5L497.7 132.1L498.0 132.4L498.4 131.3L498.7 132.4L499.1 142.4L499.4 170.3L499.8 221.2L500.1 197.0L500.5 193.2L500.8 177.6L501.1 141.3L501.5 120.2L501.8 109.0L502.2 103.1L502.5 100.0L502.9 98.6L503.2 99.2L503.6 101.7L503.9 106.5L504.3 114.5L504.6 126.1L505.0 142.6L505.3 173.8L505.7 156.1L506.0 114.1L506.3 92.4L506.7 78.2L507.0 67.8L507.4 59.6L507.7 53.0L508.1 47.4L508.4 42.8L508.8 39.0L509.1 35.8L509.5 33.4L509.8 31.6L510.2 30.3L510.5 29.7L510.9 29.6L511.2 30.2L511.5 31.4L511.9 33.1L512.2 35.5L512.6 38.5L512.9 42.2L513.3 46.8L513.6 52.2L514.0 58.7L514.3 66.6L514.7 76.2L515.0 87.8L515.4 101.9L515.7 120.2L516.0 155.4L516.4 178.5L516.7 127.7L517.1 111.2L517.4 103.3L517.8 99.2L518.1 97.2L518.5 96.7L518.8 97.9L519.2 101.1L519.5 106.4L519.9 114.8L520.2 128.6L520.6 150.4L520.9 183.6L521.2 221.9L521.6 193.4L521.9 160.3L522.3 142.5L522.6 132.1L523.0 126.3L523.3 123.3L523.7 122.6L524.0 125.0L524.4 130.1L524.7 135.1L525.1 138.7L525.4 144.1L525.8 153.0L526.1 162.5L526.4 168.5L526.8 175.9L527.1 177.4L527.5 159.8L527.8 142.3L528.2 131.0L528.5 124.0L528.9 119.8L529.2 118.2L529.6 120.5L529.9 127.6L530.3 138.1L530.6 146.4L530.9 147.0L531.3 144.7L531.6 149.7L532.0 168.5L532.3 205.2L532.7 190.6L533.0 164.0L533.4 145.6L533.7 133.4L534.1 125.7L534.4 120.9L534.8 118.0L535.1 117.7L535.5 120.8L535.8 127.5L536.1 136.9L536.5 147.0L536.8 157.2L537.2 162.8L537.5 155.9L537.9 146.7L538.2 148.1L538.6 165.3L538.9 196.1L539.3 169.1L539.6 149.0L540.0 137.5L540.3 129.7L540.7 124.2L541.0 120.8L541.3 119.5L541.7 119.9L542.0 122.2L542.4 126.0L542.7 131.5L543.1 139.2L543.4 150.3L543.8 165.2L544.1 176.2L544.5 170.7L544.8 161.6L545.2 157.6L545.5 161.1L545.8 173.7L546.2 195.8L546.5 198.0L546.9 179.2L547.2 167.0L547.6 161.0L547.9 160.2L548.3 162.4L548.6 164.5L549.0 163.4L549.3 158.7L549.7 151.8L550.0 145.3L550.4 139.8L550.7 136.4L551.0 134.6L551.4 134.2L551.7 134.9L552.1 136.3L552.4 137.9L552.8 140.1L553.1 142.2L553.5 143.9L553.8 145.0L554.2 145.6L554.5 146.5L554.9 148.7L555.2 152.7L555.6 158.6L555.9 165.7L556.2 171.2L556.6 172.7L556.9 170.7L557.3 168.0L557.6 166.0L558.0 164.6L558.3 163.4L558.7 162.0L559.0 160.0L559.4 157.9L559.7 155.5L560.1 153.5L560.4 151.9L560.8 150.7L561.1 150.0L561.4 149.6L561.8 149.3L562.1 148.9L562.5 148.2L562.8 147.4L563.2 147.4L563.5 147.1L563.9 146.3L564.2 145.1L564.6 143.8L564.9 142.4L565.3 141.1L565.6 140.0L565.9 139.1L566.3 138.3L566.6 137.9L567.0 137.7L567.3 137.6L567.7 137.8L568.0 138.2L568.4 138.7L568.7 139.3L569.1 140.0L569.4 140.7L569.8 141.5L570.1 142.3L570.5 143.0L570.8 143.8L571.1 144.5L571.5 145.1L571.8 145.6L572.2 146.1L572.5 146.5L572.9 146.8L573.2 147.0L573.6 155.2L573.9 155.3L574.3 155.3L574.6 155.2L575.0 156.0L575.3 156.7L575.7 157.4L576.0 158.0L576.3 158.4L576.7 158.9L577.0 159.2L577.4 159.5L577.7 159.8L578.1 160.0L578.4 160.1L578.8 160.3L579.1 160.4L579.5 160.5L579.8 160.7L580.2 160.8L580.5 160.7L580.8 160.7L581.2 160.6L581.5 160.5L581.9 160.5L582.2 160.5L582.6 160.6L582.9 160.7L583.3 160.9L583.6 161.2L584.0 161.4L584.3 161.8L584.7 162.3L585.0 162.7L585.4 163.2L585.7 163.5L586.0 163.9L586.4 164.3L586.7 164.5L587.1 164.6L587.4 164.2L587.8 163.7L588.1 162.9L588.5 162.0L588.8 161.0L589.2 159.8L589.5 158.4L589.9 157.2L590.2 156.0L590.6 154.9L590.9 153.9L591.2 153.1L591.6 152.5L591.9 152.2L592.3 152.2L592.6 152.6L593.0 153.4L593.3 154.6L593.7 156.2L594.0 158.2L594.4 160.9L594.7 164.1L595.1 167.7L595.4 171.4L595.7 175.8L596.1 180.6L596.4 185.9L596.8 192.3L597.1 199.6L597.5 207.8L597.8 218.4L598.2 221.9L598.5 221.9L598.9 221.9L599.2 221.9L599.6 221.9L599.9 217.5L600.3 202.5L600.6 190.9L600.9 182.0L601.3 174.4L601.6 168.6L602.0 164.3L602.3 161.3L602.7 159.6L603.0 159.3L603.4 160.3L603.7 162.9L604.1 166.9L604.4 172.5L604.8 179.9L605.1 189.9L605.5 201.8L605.8 215.7L606.1 221.9L606.5 215.4L606.8 205.5L607.2 196.6L607.5 190.5L607.9 185.9L608.2 183.4L608.6 181.6L608.9 181.1L609.3 181.9L609.6 184.2L610.0 188.3L610.3 194.7L610.7 203.9L611.0 215.7L611.3 221.9L611.7 221.9L612.0 218.1L612.4 209.2L612.7 201.1L613.1 193.5L613.4 186.6L613.8 179.9L614.1 173.9L614.5 168.6L614.8 164.4L615.2 161.7L615.5 160.3L615.8 160.3L616.2 161.4L616.5 163.6L616.9 166.7L617.2 170.7L617.6 175.2L617.9 180.1L618.3 184.5L618.6 188.5L619.0 190.6L619.3 192.5L619.7 194.6L620.0 197.6L620.4 199.6L620.7 195.6L621.0 185.8L621.4 174.5L621.7 165.4L622.1 158.9L622.4 155.0L622.8 153.2L623.1 153.7L623.5 156.5L623.8 161.0L624.2 167.6L624.5 175.1L624.9 182.8L625.2 188.7L625.6 191.6L625.9 191.9L626.2 190.0L626.6 186.3L626.9 182.2L627.3 178.7L627.6 176.6L628.0 176.8L628.3 179.8L628.7 185.2L629.0 193.7L629.4 205.5L629.7 220.5L630.1 221.9L630.4 221.9L630.7 221.9L631.1 217.9L631.4 203.8L631.8 191.6L632.1 182.1L632.5 174.6L632.8 169.3L633.2 165.3L633.5 162.0L633.9 159.2L634.2 156.3L634.6 153.2L634.9 150.2L635.3 147.2L635.6 144.6" stroke="#d8281e" stroke-width="1.35" stroke-dasharray="5 1.5 1 1.8"/>
<path d="M386.1 221.9L386.8 221.9L387.5 221.9L388.2 210.6L388.9 206.6L389.6 210.5L390.3 221.9L391.0 221.9L391.6 221.9L392.3 221.9L393.0 208.2L393.7 202.2L394.4 204.2L395.1 215.7L395.8 221.9L396.5 221.9L397.2 218.2L397.9 197.7L398.6 188.7L399.3 188.0L400.0 197.2L400.7 221.9L401.3 221.9L402.0 181.6L402.7 157.2L403.4 141.6L404.1 130.9L404.8 123.6L405.5 118.9L406.2 116.5L406.9 116.2L407.6 119.0L408.3 124.0L409.0 131.4L409.7 141.7L410.4 156.1L411.1 177.4L411.7 215.7L412.4 221.9L413.1 206.5L413.8 190.7L414.5 185.4L415.2 186.0L415.9 191.7L416.6 203.0L417.3 221.9L418.0 221.9L418.7 221.9L419.4 221.9L420.1 211.1L420.8 202.8L421.4 198.7L422.1 198.4L422.8 200.1L423.5 205.1L424.2 214.3L424.9 221.9L425.6 221.9L426.3 221.9L427.0 221.9L427.7 217.3L428.4 203.4L429.1 193.3L429.8 185.6L430.5 179.7L431.1 175.1L431.8 171.7L432.5 171.2L433.2 172.0L433.9 173.8L434.6 176.8L435.3 181.7L436.0 188.5L436.7 197.8L437.4 211.3L438.1 221.9L438.8 221.9L439.5 221.9L440.2 221.9L440.9 203.6L441.5 190.9L442.2 180.7L442.9 172.5L443.6 165.5L444.3 159.5L445.0 154.3L445.7 149.5L446.4 145.2L447.1 141.3L447.8 140.8L448.5 140.5L449.2 140.5L449.9 140.9L450.6 141.5L451.2 142.4L451.9 143.8L452.6 145.7L453.3 148.2L454.0 151.5L454.7 155.8L455.4 161.7L456.1 169.9L456.8 182.0L457.5 201.6L458.2 221.9L458.9 221.9L459.6 190.6L460.3 170.5L461.0 157.5L461.6 148.3L462.3 141.6L463.0 136.6L463.7 133.2L464.4 131.1L465.1 130.5L465.8 131.4L466.5 133.9L467.2 138.6L467.9 146.4L468.6 159.0L469.3 182.1L470.0 221.9L470.7 192.4L471.3 160.9L472.0 144.3L472.7 134.0L473.4 127.8L474.1 124.7L474.8 124.8L475.5 128.4L476.2 136.9L476.9 154.4L477.6 202.7L478.3 181.6L479.0 141.6L479.7 122.4L480.4 111.2L481.0 105.0L481.7 103.2L482.4 106.3L483.1 117.0L483.8 146.3L484.5 172.9L485.2 110.2L485.9 83.7L486.6 66.6L487.3 54.4L488.0 45.4L488.7 38.8L489.4 34.4L490.1 31.9L490.8 31.5L491.4 33.0L492.1 36.6L492.8 42.4L493.5 51.2L494.2 63.8L494.9 82.7L495.6 115.7L496.3 221.4L497.0 120.9L497.7 102.9L498.4 98.0L499.1 101.0L499.8 111.6L500.5 134.3L501.1 205.5L501.8 155.6L502.5 128.2L503.2 118.7L503.9 118.2L504.6 125.6L505.3 143.8L506.0 193.3L506.7 179.4L507.4 144.0L508.1 131.6L508.8 129.1L509.5 134.6L510.2 150.3L510.9 190.8L511.5 198.3L512.2 155.5L512.9 141.0L513.6 137.2L514.3 141.4L515.0 155.2L515.7 189.6L516.4 220.0L517.1 166.0L517.8 149.0L518.5 143.4L519.2 145.6L519.9 156.4L520.6 182.2L521.2 221.9L521.9 180.3L522.6 157.6L523.3 148.7L524.0 147.8L524.7 154.1L525.4 170.2L526.1 211.7L526.8 215.2L527.5 172.5L528.2 156.6L528.9 150.4L529.6 150.9L530.3 157.9L530.9 174.2L531.6 214.4L532.3 221.9L533.0 177.9L533.7 161.1L534.4 153.7L535.1 152.3L535.8 156.1L536.5 166.1L537.2 186.2L537.9 221.9L538.6 214.2L539.3 179.1L540.0 163.5L540.7 155.7L541.3 152.8L542.0 153.8L542.7 158.9L543.4 169.1L544.1 187.9L544.8 221.9L545.5 221.9L546.2 186.0L546.9 167.8L547.6 157.3L548.3 151.2L549.0 148.2L549.7 147.6L550.4 149.4L551.0 153.5L551.7 160.4L552.4 171.3L553.1 189.0L553.8 221.9L554.5 221.9L555.2 196.1L555.9 174.3L556.6 161.0L557.3 151.8L558.0 145.1L558.7 140.1L559.4 136.4L560.1 133.6L560.8 131.6L561.4 130.3L562.1 129.5L562.8 129.2L563.5 130.8L564.2 132.8L564.9 135.1L565.6 137.8L566.3 140.6L567.0 143.6L567.7 146.6L568.4 149.5L569.1 152.4L569.8 155.0L570.5 157.4L571.1 159.4L571.8 160.9L572.5 161.9L573.2 162.3L573.9 162.1L574.6 161.5L575.3 163.3L576.0 164.6L576.7 165.5L577.4 166.1L578.1 166.5L578.8 166.7L579.5 166.8L580.2 166.9L580.8 166.4L581.5 166.0L582.2 165.9L582.9 166.0L583.6 166.4L584.3 167.3L585.0 168.6L585.7 170.4L586.4 172.9L587.1 176.2L587.8 180.2L588.5 185.5L589.2 192.6L589.9 202.3L590.6 217.8L591.2 221.9L591.9 221.9L592.6 221.9L593.3 221.9L594.0 220.6L594.7 211.1L595.4 205.3L596.1 202.3L596.8 201.7L597.5 203.3L598.2 207.5L598.9 214.6L599.6 221.9L600.3 221.9L600.9 221.9L601.6 221.9L602.3 221.9L603.0 221.9L603.7 217.1L604.4 211.6L605.1 209.9L605.8 212.0L606.5 218.7L607.2 221.9L607.9 221.9L608.6 221.9L609.3 221.9L610.0 221.9L610.7 214.9L611.3 209.7L612.0 209.7L612.7 215.1L613.4 221.9L614.1 221.9L614.8 221.9L615.5 221.9L616.2 221.9L616.9 212.6L617.6 209.9L618.3 213.2L619.0 221.9L619.7 221.9L620.4 221.9L621.0 221.9L621.7 221.9L622.4 215.4L623.1 212.4L623.8 216.2L624.5 221.9L625.2 221.9L625.9 221.9L626.6 221.9L627.3 221.8L628.0 213.4L628.7 213.0L629.4 220.5L630.1 221.9L630.7 221.9L631.4 221.9L632.1 221.9L632.8 212.5L633.5 209.8L634.2 215.2L634.9 221.9L635.6 221.9" stroke="#0a0a0a" stroke-width="1.6" clip-path="url(#clipbf)"/>
<path d="M386.1 182.2L386.4 189.7L386.8 197.4L387.1 200.8L387.5 200.9L387.8 200.6L388.2 202.2L388.5 205.7L388.9 212.8L389.2 221.9L389.6 221.9L389.9 221.9L390.3 221.9L390.6 221.9L391.0 221.9L391.3 221.9L391.6 221.9L392.0 221.9L392.3 221.9L392.7 219.7L393.0 209.1L393.4 202.4L393.7 199.2L394.1 197.3L394.4 195.1L394.8 192.1L395.1 187.6L395.5 183.3L395.8 178.9L396.1 175.4L396.5 173.5L396.8 173.3L397.2 174.5L397.5 176.6L397.9 179.6L398.2 182.0L398.6 183.5L398.9 185.1L399.3 186.3L399.6 187.9L400.0 189.6L400.3 190.1L400.7 188.5L401.0 184.1L401.3 178.5L401.7 172.4L402.0 166.5L402.4 161.3L402.7 156.7L403.1 152.7L403.4 149.3L403.8 146.6L404.1 144.3L404.5 142.4L404.8 140.7L405.2 139.1L405.5 137.9L405.9 136.6L406.2 135.6L406.5 134.8L406.9 134.3L407.2 134.8L407.6 135.8L407.9 137.6L408.3 140.3L408.6 144.0L409.0 148.9L409.3 155.0L409.7 162.9L410.0 172.3L410.4 183.2L410.7 194.7L411.1 204.9L411.4 211.7L411.7 215.1L412.1 215.5L412.4 214.9L412.8 212.8L413.1 208.8L413.5 202.7L413.8 196.4L414.2 190.2L414.5 185.3L414.9 181.7L415.2 179.9L415.6 179.8L415.9 180.8L416.2 183.6L416.6 187.8L416.9 193.2L417.3 199.1L417.6 204.2L418.0 206.1L418.3 204.8L418.7 201.8L419.0 198.6L419.4 195.7L419.7 193.1L420.1 191.1L420.4 190.1L420.8 189.9L421.1 190.0L421.4 191.2L421.8 192.3L422.1 193.2L422.5 193.3L422.8 192.0L423.2 189.4L423.5 185.8L423.9 181.8L424.2 178.6L424.6 176.1L424.9 174.7L425.3 174.4L425.6 175.3L426.0 177.6L426.3 181.3L426.6 187.0L427.0 194.5L427.3 204.9L427.7 220.1L428.0 221.9L428.4 221.9L428.7 221.9L429.1 221.9L429.4 211.5L429.8 200.7L430.1 192.1L430.5 185.2L430.8 179.6L431.1 174.5L431.5 170.4L431.8 166.7L432.2 164.2L432.5 162.1L432.9 160.4L433.2 159.0L433.6 157.9L433.9 157.2L434.3 156.7L434.6 156.6L435.0 156.8L435.3 157.2L435.7 157.9L436.0 159.0L436.3 160.3L436.7 161.9L437.0 163.8L437.4 166.0L437.7 168.3L438.1 171.0L438.4 173.9L438.8 177.2L439.1 180.8L439.5 184.6L439.8 188.9L440.2 193.5L440.5 198.3L440.9 203.0L441.2 207.6L441.5 211.4L441.9 213.7L442.2 214.0L442.6 212.4L442.9 209.1L443.3 204.8L443.6 200.3L444.0 195.9L444.3 191.5L444.7 187.5L445.0 183.7L445.4 180.1L445.7 176.8L446.0 173.7L446.4 170.9L446.7 168.3L447.1 165.9L447.4 165.5L447.8 165.2L448.1 165.1L448.5 172.8L448.8 173.1L449.2 173.4L449.5 174.0L449.9 174.7L450.2 175.6L450.6 176.7L450.9 178.0L451.2 179.4L451.6 181.0L451.9 182.8L452.3 184.6L452.6 186.6L453.0 188.5L453.3 190.4L453.7 192.2L454.0 193.7L454.4 194.6L454.7 195.1L455.1 195.1L455.4 194.5L455.8 193.3L456.1 191.7L456.4 189.4L456.8 186.8L457.1 183.5L457.5 179.8L457.8 175.7L458.2 171.4L458.5 167.0L458.9 162.9L459.2 159.3L459.6 156.0L459.9 153.2L460.3 150.3L460.6 147.5L461.0 144.6L461.3 141.6L461.6 138.4L462.0 135.4L462.3 132.4L462.7 129.6L463.0 127.2L463.4 125.1L463.7 123.5L464.1 122.5L464.4 122.2L464.8 122.5L465.1 123.7L465.5 125.8L465.8 128.5L466.1 131.7L466.5 135.4L466.8 140.0L467.2 145.7L467.5 152.8L467.9 161.2L468.2 169.7L468.6 177.8L468.9 186.7L469.3 190.2L469.6 176.2L470.0 157.6L470.3 142.9L470.7 132.4L471.0 125.1L471.3 120.0L471.7 116.5L472.0 114.3L472.4 113.2L472.7 113.5L473.1 115.5L473.4 119.4L473.8 125.2L474.1 132.4L474.5 138.9L474.8 142.2L475.2 142.2L475.5 140.3L475.9 138.1L476.2 136.4L476.5 137.9L476.9 145.7L477.2 167.8L477.6 212.2L477.9 166.6L478.3 145.7L478.6 135.0L479.0 127.4L479.3 121.0L479.7 115.8L480.0 111.6L480.4 108.5L480.7 106.4L481.0 105.6L481.4 105.8L481.7 107.1L482.1 109.3L482.4 112.9L482.8 118.3L483.1 126.2L483.5 137.7L483.8 155.7L484.2 191.7L484.5 167.7L484.9 127.1L485.2 104.2L485.6 89.2L485.9 78.4L486.2 70.1L486.6 63.3L486.9 57.5L487.3 52.5L487.6 48.1L488.0 44.3L488.3 41.1L488.7 38.3L489.0 36.1L489.4 34.3L489.7 32.9L490.1 31.9L490.4 31.5L490.8 31.5L491.1 32.0L491.4 32.9L491.8 34.2L492.1 36.1L492.5 38.4L492.8 41.4L493.2 44.9L493.5 49.2L493.9 54.3L494.2 60.4L494.6 67.7L494.9 76.7L495.3 88.2L495.6 103.9L495.9 128.1L496.3 178.5L496.6 167.9L497.0 133.4L497.3 118.9L497.7 111.1L498.0 106.3L498.4 103.7L498.7 103.5L499.1 105.3L499.4 108.3L499.8 111.5L500.1 115.0L500.5 121.6L500.8 138.0L501.1 183.6L501.5 189.8L501.8 151.9L502.2 136.3L502.5 127.7L502.9 123.8L503.2 121.1L503.6 118.8L503.9 117.9L504.3 118.1L504.6 119.4L505.0 123.7L505.3 131.6L505.7 143.7L506.0 159.0L506.3 161.4L506.7 169.7L507.0 208.5L507.4 192.5L507.7 167.1L508.1 161.4L508.4 160.9L508.8 160.3L509.1 158.4L509.5 154.5L509.8 150.3L510.2 153.1L510.5 164.8L510.9 174.1L511.2 177.3L511.5 211.9L511.9 216.0L512.2 186.7L512.6 157.2L512.9 138.0L513.3 130.8L513.6 127.9L514.0 124.3L514.3 120.2L514.7 117.8L515.0 119.0L515.4 123.8L515.7 133.7L516.0 154.0L516.4 186.0L516.7 171.4L517.1 162.4L517.4 163.2L517.8 150.9L518.1 134.8L518.5 127.2L518.8 126.6L519.2 128.0L519.5 129.7L519.9 133.8L520.2 143.7L520.6 160.6L520.9 179.9L521.2 203.0L521.6 187.2L521.9 164.8L522.3 157.8L522.6 153.4L523.0 148.4L523.3 144.4L523.7 139.9L524.0 133.6L524.4 130.1L524.7 132.2L525.1 138.0L525.4 144.3L525.8 150.6L526.1 161.8L526.4 181.1L526.8 184.9L527.1 175.9L527.5 166.4L527.8 157.1L528.2 150.6L528.5 148.5L528.9 150.9L529.2 156.5L529.6 159.8L529.9 156.0L530.3 151.1L530.6 150.0L530.9 152.4L531.3 157.2L531.6 161.6L532.0 161.2L532.3 157.2L532.7 156.9L533.0 162.6L533.4 171.4L533.7 182.0L534.1 195.3L534.4 216.0L534.8 217.7L535.1 175.1L535.5 152.2L535.8 143.8L536.1 143.2L536.5 139.5L536.8 133.5L537.2 132.0L537.5 135.2L537.9 141.2L538.2 148.8L538.6 156.1L538.9 161.7L539.3 167.1L539.6 172.8L540.0 179.6L540.3 191.0L540.7 210.8L541.0 218.9L541.3 193.8L541.7 178.2L542.0 171.0L542.4 167.3L542.7 161.9L543.1 154.1L543.4 147.1L543.8 143.2L544.1 142.9L544.5 144.8L544.8 146.7L545.2 147.1L545.5 146.3L545.8 146.4L546.2 148.5L546.5 152.7L546.9 156.4L547.2 156.7L547.6 154.4L547.9 151.0L548.3 147.7L548.6 145.8L549.0 146.0L549.3 148.9L549.7 153.3L550.0 156.8L550.4 156.3L550.7 153.4L551.0 149.6L551.4 145.4L551.7 140.4L552.1 135.6L552.4 131.6L552.8 128.8L553.1 127.6L553.5 128.0L553.8 129.6L554.2 131.4L554.5 132.6L554.9 132.2L555.2 130.4L555.6 127.9L555.9 125.7L556.2 124.5L556.6 124.4L556.9 125.2L557.3 126.7L557.6 129.0L558.0 131.7L558.3 134.8L558.7 138.4L559.0 142.6L559.4 147.8L559.7 154.3L560.1 162.6L560.4 173.3L560.8 187.9L561.1 211.0L561.4 221.9L561.8 217.2L562.1 192.4L562.5 176.9L562.8 166.2L563.2 158.8L563.5 153.0L563.9 148.3L564.2 144.7L564.6 141.6L564.9 139.1L565.3 137.1L565.6 135.5L565.9 134.0L566.3 132.9L566.6 132.0L567.0 131.2L567.3 130.6L567.7 130.1L568.0 129.7L568.4 129.4L568.7 129.2L569.1 129.1L569.4 129.0L569.8 128.9L570.1 128.9L570.5 128.9L570.8 128.9L571.1 128.9L571.5 129.0L571.8 129.0L572.2 129.1L572.5 129.2L572.9 129.3L573.2 129.4L573.6 129.6L573.9 129.8L574.3 130.1L574.6 130.3L575.0 131.7L575.3 133.2L575.7 134.6L576.0 136.1L576.3 137.6L576.7 139.1L577.0 140.6L577.4 142.1L577.7 143.6L578.1 145.2L578.4 146.8L578.8 148.4L579.1 150.1L579.5 151.8L579.8 153.6L580.2 155.4L580.5 157.0L580.8 158.7L581.2 160.4L581.5 162.3L581.9 164.2L582.2 166.2L582.6 168.4L582.9 170.6L583.3 172.9L583.6 175.3L584.0 177.8L584.3 180.3L584.7 183.0L585.0 185.9L585.4 188.5L585.7 191.2L586.0 193.5L586.4 195.6L586.7 197.4L587.1 198.2L587.4 198.6L587.8 197.9L588.1 196.4L588.5 194.3L588.8 191.5L589.2 188.6L589.5 185.7L589.9 182.4L590.2 179.6L590.6 177.1L590.9 174.7L591.2 172.7L591.6 170.8L591.9 169.1L592.3 167.7L592.6 166.8L593.0 166.0L593.3 165.5L593.7 165.3L594.0 165.4L594.4 165.7L594.7 166.7L595.1 167.7L595.4 169.6L595.7 171.9L596.1 174.5L596.4 177.7L596.8 181.5L597.1 186.4L597.5 192.2L597.8 198.6L598.2 204.5L598.5 207.6L598.9 206.1L599.2 200.9L599.6 194.7L599.9 189.0L600.3 184.4L600.6 181.1L600.9 179.4L601.3 179.0L601.6 180.3L602.0 182.7L602.3 186.4L602.7 191.1L603.0 196.2L603.4 200.9L603.7 203.9L604.1 204.0L604.4 202.6L604.8 200.0L605.1 197.4L605.5 194.1L605.8 191.0L606.1 187.1L606.5 183.9L606.8 179.9L607.2 176.0L607.5 171.9L607.9 167.3L608.2 163.1L608.6 158.5L608.9 154.1L609.3 149.8L609.6 146.2L610.0 143.4L610.3 141.9L610.7 141.2L611.0 141.8L611.3 143.8L611.7 147.2L612.0 152.4L612.4 159.8L612.7 169.9L613.1 183.0L613.4 200.7L613.8 221.9L614.1 221.9L614.5 219.4L614.8 212.4L615.2 210.0L615.5 213.3L615.8 220.2L616.2 221.9L616.5 221.9L616.9 221.9L617.2 221.9L617.6 221.9L617.9 221.9L618.3 221.9L618.6 221.9L619.0 218.1L619.3 208.8L619.7 199.2L620.0 191.1L620.4 184.0L620.7 178.2L621.0 173.6L621.4 170.7L621.7 170.0L622.1 171.6L622.4 176.1L622.8 184.6L623.1 200.1L623.5 221.9L623.8 221.9L624.2 207.0L624.5 185.7L624.9 172.9L625.2 164.8L625.6 159.9L625.9 157.5L626.2 157.3L626.6 159.1L626.9 162.9L627.3 168.4L627.6 176.0L628.0 185.3L628.3 197.0L628.7 210.2L629.0 221.9L629.4 221.9L629.7 221.9L630.1 221.9L630.4 217.1L630.7 205.6L631.1 198.3L631.4 195.6L631.8 197.0L632.1 200.9L632.5 202.1L632.8 194.1L633.2 183.4L633.5 174.2L633.9 168.2L634.2 165.3L634.6 165.0L634.9 167.0L635.3 171.1L635.6 177.3" stroke="#d8281e" stroke-width="1.35" stroke-dasharray="5 1.5 1 1.8"/>
<path d="M386.1 221.9L386.8 221.9L387.5 215.1L388.2 214.4L388.9 221.9L389.6 221.9L390.3 221.9L391.0 221.9L391.6 221.9L392.3 219.1L393.0 216.4L393.7 221.3L394.4 221.9L395.1 221.9L395.8 221.9L396.5 221.9L397.2 221.9L397.9 217.4L398.6 217.7L399.3 221.9L400.0 221.9L400.7 221.9L401.3 221.9L402.0 221.9L402.7 220.4L403.4 214.7L404.1 215.3L404.8 221.9L405.5 221.9L406.2 221.9L406.9 221.9L407.6 221.9L408.3 221.9L409.0 214.9L409.7 213.3L410.4 216.8L411.1 221.9L411.7 221.9L412.4 221.9L413.1 221.9L413.8 221.9L414.5 221.9L415.2 217.2L415.9 214.1L416.6 215.1L417.3 220.0L418.0 221.9L418.7 221.9L419.4 221.9L420.1 221.9L420.8 221.9L421.4 221.9L422.1 220.7L422.8 213.2L423.5 209.0L424.2 207.3L424.9 208.1L425.6 211.4L426.3 217.6L427.0 221.9L427.7 221.9L428.4 221.9L429.1 221.9L429.8 221.9L430.5 220.0L431.1 205.7L431.8 195.4L432.5 188.9L433.2 184.2L433.9 180.8L434.6 178.4L435.3 176.5L436.0 175.3L436.7 174.7L437.4 174.7L438.1 175.1L438.8 175.9L439.5 177.2L440.2 178.8L440.9 180.7L441.5 182.8L442.2 184.4L442.9 186.2L443.6 188.0L444.3 189.6L445.0 191.0L445.7 191.9L446.4 192.2L447.1 191.5L447.8 193.3L448.5 193.9L449.2 193.3L449.9 191.5L450.6 188.6L451.2 184.9L451.9 180.5L452.6 175.8L453.3 170.9L454.0 165.9L454.7 161.0L455.4 156.3L456.1 151.8L456.8 147.6L457.5 143.8L458.2 140.5L458.9 137.6L459.6 136.7L460.3 136.2L461.0 136.3L461.6 137.0L462.3 138.3L463.0 140.5L463.7 143.7L464.4 148.0L465.1 154.1L465.8 162.4L466.5 174.4L467.2 193.3L467.9 221.9L468.6 221.9L469.3 198.6L470.0 178.3L470.7 166.3L471.3 158.8L472.0 154.3L472.7 152.4L473.4 152.9L474.1 156.1L474.8 162.4L475.5 173.5L476.2 193.1L476.9 221.9L477.6 221.9L478.3 188.5L479.0 171.3L479.7 162.0L480.4 157.6L481.0 157.4L481.7 161.3L482.4 170.7L483.1 189.3L483.8 221.9L484.5 221.3L485.2 183.0L485.9 166.4L486.6 158.4L487.3 156.1L488.0 159.3L488.7 169.2L489.4 191.3L490.1 221.9L490.8 199.2L491.4 171.2L492.1 158.7L492.8 154.1L493.5 156.0L494.2 165.2L494.9 187.2L495.6 221.9L496.3 193.8L497.0 166.4L497.7 154.8L498.4 151.4L499.1 155.3L499.8 168.6L500.5 203.4L501.1 221.9L501.8 172.8L502.5 154.8L503.2 147.9L503.9 148.8L504.6 158.4L505.3 184.1L506.0 221.9L506.7 174.6L507.4 151.9L508.1 142.7L508.8 141.9L509.5 149.6L510.2 171.7L510.9 221.9L511.5 172.0L512.2 146.2L512.9 135.4L513.6 133.3L514.3 139.6L515.0 158.5L515.7 221.9L516.4 168.7L517.1 138.5L517.8 125.6L518.5 121.6L519.2 125.5L519.9 140.3L520.6 187.7L521.2 165.8L521.9 127.2L522.6 110.5L523.3 103.1L524.0 103.1L524.7 111.9L525.4 140.3L526.1 167.1L526.8 104.6L527.5 78.9L528.2 62.8L528.9 51.8L529.6 44.2L530.3 39.3L530.9 36.5L531.6 35.6L532.3 36.9L533.0 40.0L533.7 45.0L534.4 52.3L535.1 62.1L535.8 75.5L536.5 94.4L537.2 125.4L537.9 221.9L538.6 139.5L539.3 117.7L540.0 109.4L540.7 107.5L541.3 110.3L542.0 117.4L542.7 129.8L543.4 150.9L544.1 199.2L544.8 193.8L545.5 155.3L546.2 139.8L546.9 132.1L547.6 128.9L548.3 129.0L549.0 132.2L549.7 138.4L550.4 148.6L551.0 164.7L551.7 194.8L552.4 221.9L553.1 188.9L553.8 164.7L554.5 151.6L555.2 143.4L555.9 138.3L556.6 135.3L557.3 134.0L558.0 134.0L558.7 135.4L559.4 137.9L560.1 141.7L560.8 146.9L561.4 153.8L562.1 162.9L562.8 175.6L563.5 193.0L564.2 221.9L564.9 221.9L565.6 221.9L566.3 200.4L567.0 186.2L567.7 177.0L568.4 170.5L569.1 165.8L569.8 162.4L570.5 159.8L571.1 158.0L571.8 156.8L572.5 156.0L573.2 155.8L573.9 156.0L574.6 156.6L575.3 161.3L576.0 166.6L576.7 172.8L577.4 179.9L578.1 188.6L578.8 199.5L579.5 214.2L580.2 221.9L580.8 221.9L581.5 221.9L582.2 221.9L582.9 212.7L583.6 200.4L584.3 191.6L585.0 185.1L585.7 180.2L586.4 176.6L587.1 174.3L587.8 173.3L588.5 173.3L589.2 174.3L589.9 176.5L590.6 181.7L591.2 188.3L591.9 196.7L592.6 207.7L593.3 221.9L594.0 221.9L594.7 221.9L595.4 221.9L596.1 221.9L596.8 216.5L597.5 207.7L598.2 202.8L598.9 201.0L599.6 202.1L600.3 205.7L600.9 213.8L601.6 221.9L602.3 221.9L603.0 221.9L603.7 221.9L604.4 210.7L605.1 198.1L605.8 191.3L606.5 189.5L607.2 193.1L607.9 205.2L608.6 221.9L609.3 221.9L610.0 190.3L610.7 166.0L611.3 150.1L612.0 138.8L612.7 130.6L613.4 124.9L614.1 121.3L614.8 119.8L615.5 121.5L616.2 125.4L616.9 131.7L617.6 141.0L618.3 154.4L619.0 174.6L619.7 210.7L620.4 221.9L621.0 209.1L621.7 194.0L622.4 191.2L623.1 196.8L623.8 211.7L624.5 221.9L625.2 221.9L625.9 221.9L626.6 211.8L627.3 206.3L628.0 209.0L628.7 220.5L629.4 221.9L630.1 221.9L630.7 221.9L631.4 219.0L632.1 211.5L632.8 212.2L633.5 221.3L634.2 221.9L634.9 221.9L635.6 221.9" stroke="#0a0a0a" stroke-width="1.6" clip-path="url(#clipbf)"/>
<path d="M386.1 221.9L386.4 221.9L386.8 206.8L387.1 192.5L387.5 182.6L387.8 175.6L388.2 170.6L388.5 167.6L388.9 165.0L389.2 163.1L389.6 161.5L389.9 160.3L390.3 159.5L390.6 159.6L391.0 160.7L391.3 163.1L391.6 167.7L392.0 175.3L392.3 187.7L392.7 207.8L393.0 221.9L393.4 221.9L393.7 201.6L394.1 188.3L394.4 181.1L394.8 177.5L395.1 176.1L395.5 176.2L395.8 177.7L396.1 179.7L396.5 182.1L396.8 184.0L397.2 184.7L397.5 183.4L397.9 180.8L398.2 177.7L398.6 174.4L398.9 171.2L399.3 168.9L399.6 167.8L400.0 168.2L400.3 170.3L400.7 174.4L401.0 180.7L401.3 189.5L401.7 201.3L402.0 217.2L402.4 221.9L402.7 221.9L403.1 221.9L403.4 221.9L403.8 211.2L404.1 200.4L404.5 192.7L404.8 187.9L405.2 185.1L405.5 183.9L405.9 183.6L406.2 182.9L406.5 182.1L406.9 181.4L407.2 181.6L407.6 183.9L407.9 189.3L408.3 198.5L408.6 210.6L409.0 216.9L409.3 207.9L409.7 196.4L410.0 188.7L410.4 184.3L410.7 183.3L411.1 184.6L411.4 188.2L411.7 193.4L412.1 199.6L412.4 205.3L412.8 209.4L413.1 211.3L413.5 209.8L413.8 207.1L414.2 202.3L414.5 197.5L414.9 193.1L415.2 189.4L415.6 186.5L415.9 183.9L416.2 182.2L416.6 180.7L416.9 179.7L417.3 178.5L417.6 177.6L418.0 176.2L418.3 175.1L418.7 173.8L419.0 172.8L419.4 172.2L419.7 172.1L420.1 172.3L420.4 172.6L420.8 173.1L421.1 173.6L421.4 174.5L421.8 175.2L422.1 175.9L422.5 176.6L422.8 176.7L423.2 176.9L423.5 176.8L423.9 176.5L424.2 176.5L424.6 176.6L424.9 176.7L425.3 176.9L425.6 177.4L426.0 178.2L426.3 179.0L426.6 179.8L427.0 180.7L427.3 181.4L427.7 181.7L428.0 181.9L428.4 181.6L428.7 180.7L429.1 179.2L429.4 177.3L429.8 175.3L430.1 173.4L430.5 171.8L430.8 170.5L431.1 169.2L431.5 168.4L431.8 167.8L432.2 167.6L432.5 167.7L432.9 168.1L433.2 168.8L433.6 169.8L433.9 171.0L434.3 172.5L434.6 174.4L435.0 176.6L435.3 179.0L435.7 181.8L436.0 184.9L436.3 188.4L436.7 192.3L437.0 196.2L437.4 199.9L437.7 203.0L438.1 205.4L438.4 206.4L438.8 205.5L439.1 203.4L439.5 200.2L439.8 196.6L440.2 192.6L440.5 188.8L440.9 185.1L441.2 181.6L441.5 178.4L441.9 175.0L442.2 171.8L442.6 168.9L442.9 166.1L443.3 163.5L443.6 161.0L444.0 158.7L444.3 156.5L444.7 154.3L445.0 152.3L445.4 150.3L445.7 148.4L446.0 146.5L446.4 144.7L446.7 142.9L447.1 141.1L447.4 140.9L447.8 140.8L448.1 140.6L448.5 136.9L448.8 136.9L449.2 136.8L449.5 136.6L449.9 136.5L450.2 136.4L450.6 136.2L450.9 136.0L451.2 135.9L451.6 135.7L451.9 135.6L452.3 135.4L452.6 135.2L453.0 135.1L453.3 134.9L453.7 134.8L454.0 134.7L454.4 134.7L454.7 134.8L455.1 135.0L455.4 135.4L455.8 135.9L456.1 136.8L456.4 137.8L456.8 139.3L457.1 141.1L457.5 143.4L457.8 146.1L458.2 149.2L458.5 152.3L458.9 155.3L459.2 158.2L459.6 160.3L459.9 161.2L460.3 161.2L460.6 161.2L461.0 161.4L461.3 162.6L461.6 165.2L462.0 169.9L462.3 177.8L462.7 188.8L463.0 195.4L463.4 185.1L463.7 169.8L464.1 157.4L464.4 148.0L464.8 141.0L465.1 136.1L465.5 133.1L465.8 131.6L466.1 131.7L466.5 133.1L466.8 135.2L467.2 137.5L467.5 139.3L467.9 140.2L468.2 139.9L468.6 138.4L468.9 136.5L469.3 134.8L469.6 133.7L470.0 133.5L470.3 134.5L470.7 137.0L471.0 141.1L471.3 147.1L471.7 154.5L472.0 162.3L472.4 168.8L472.7 177.5L473.1 196.2L473.4 221.9L473.8 197.5L474.1 174.0L474.5 161.5L474.8 154.8L475.2 152.2L475.5 153.4L475.9 158.1L476.2 165.2L476.5 170.5L476.9 171.0L477.2 167.3L477.6 161.8L477.9 157.9L478.3 158.1L478.6 163.4L479.0 171.7L479.3 177.1L479.7 174.0L480.0 171.0L480.4 174.9L480.7 183.1L481.0 181.5L481.4 176.1L481.7 174.6L482.1 172.1L482.4 165.9L482.8 161.7L483.1 162.8L483.5 169.4L483.8 178.9L484.2 188.8L484.5 189.8L484.9 181.1L485.2 175.3L485.6 175.1L485.9 172.3L486.2 166.9L486.6 162.3L486.9 154.4L487.3 145.4L487.6 143.2L488.0 153.1L488.3 173.9L488.7 173.0L489.0 156.6L489.4 146.1L489.7 143.1L490.1 146.5L490.4 149.5L490.8 148.0L491.1 145.8L491.4 147.3L491.8 150.4L492.1 153.1L492.5 158.2L492.8 163.9L493.2 163.9L493.5 163.5L493.9 162.1L494.2 154.3L494.6 147.4L494.9 147.0L495.3 146.7L495.6 140.4L495.9 134.3L496.3 130.2L496.6 126.3L497.0 123.0L497.3 123.3L497.7 129.8L498.0 140.3L498.4 148.5L498.7 153.0L499.1 158.1L499.4 164.5L499.8 167.3L500.1 158.1L500.5 138.7L500.8 128.9L501.1 130.4L501.5 137.7L501.8 141.6L502.2 139.7L502.5 136.7L502.9 137.6L503.2 146.7L503.6 169.3L503.9 202.5L504.3 186.6L504.6 179.5L505.0 194.5L505.3 218.8L505.7 184.2L506.0 170.1L506.3 160.3L506.7 150.2L507.0 141.7L507.4 132.4L507.7 125.7L508.1 126.0L508.4 134.4L508.8 153.1L509.1 202.8L509.5 194.2L509.8 165.3L510.2 156.4L510.5 152.3L510.9 150.3L511.2 148.4L511.5 145.9L511.9 141.8L512.2 136.9L512.6 133.6L512.9 133.3L513.3 135.0L513.6 135.0L514.0 133.4L514.3 137.4L514.7 159.8L515.0 217.9L515.4 174.5L515.7 162.4L516.0 153.7L516.4 143.0L516.7 133.6L517.1 126.7L517.4 122.9L517.8 120.7L518.1 117.6L518.5 115.7L518.8 119.4L519.2 130.7L519.5 147.2L519.9 160.3L520.2 168.4L520.6 168.6L520.9 155.7L521.2 139.7L521.6 127.4L521.9 118.0L522.3 111.2L522.6 107.2L523.0 105.1L523.3 103.9L523.7 103.9L524.0 106.1L524.4 111.1L524.7 119.4L525.1 130.9L525.4 147.7L525.8 166.2L526.1 140.2L526.4 115.6L526.8 98.6L527.1 85.7L527.5 75.4L527.8 67.1L528.2 60.5L528.5 55.0L528.9 50.5L529.2 46.8L529.6 43.6L529.9 41.1L530.3 39.1L530.6 37.6L530.9 36.5L531.3 35.9L531.6 35.7L532.0 36.1L532.3 36.8L532.7 38.1L533.0 39.7L533.4 41.8L533.7 44.3L534.1 47.4L534.4 51.0L534.8 55.1L535.1 59.8L535.5 65.2L535.8 71.2L536.1 78.2L536.5 86.6L536.8 96.8L537.2 109.4L537.5 125.6L537.9 149.4L538.2 210.3L538.6 174.2L538.9 142.4L539.3 127.1L539.6 117.6L540.0 112.0L540.3 109.5L540.7 108.8L541.0 108.9L541.3 109.5L541.7 110.7L542.0 113.3L542.4 118.2L542.7 126.6L543.1 138.8L543.4 153.6L543.8 168.7L544.1 188.0L544.5 221.9L544.8 221.9L545.2 214.9L545.5 208.6L545.8 187.7L546.2 164.5L546.5 147.4L546.9 135.4L547.2 126.7L547.6 120.6L547.9 116.8L548.3 114.9L548.6 114.7L549.0 116.1L549.3 118.7L549.7 122.5L550.0 127.1L550.4 132.2L550.7 137.2L551.0 142.2L551.4 148.0L551.7 154.8L552.1 163.8L552.4 176.6L552.8 196.3L553.1 221.9L553.5 214.9L553.8 190.0L554.2 176.8L554.5 168.6L554.9 162.8L555.2 157.9L555.6 153.1L555.9 148.8L556.2 144.8L556.6 141.0L556.9 137.5L557.3 134.3L557.6 131.8L558.0 130.1L558.3 129.6L558.7 130.3L559.0 132.1L559.4 134.8L559.7 138.3L560.1 142.0L560.4 145.2L560.8 147.6L561.1 149.2L561.4 150.3L561.8 151.4L562.1 152.8L562.5 154.6L562.8 156.9L563.2 159.9L563.5 163.0L563.9 166.3L564.2 169.6L564.6 173.0L564.9 176.7L565.3 181.0L565.6 185.9L565.9 191.8L566.3 198.9L566.6 207.5L567.0 218.7L567.3 221.9L567.7 221.9L568.0 221.9L568.4 221.9L568.7 221.9L569.1 221.9L569.4 215.2L569.8 207.9L570.1 202.2L570.5 197.8L570.8 194.3L571.1 191.4L571.5 189.2L571.8 187.4L572.2 186.1L572.5 185.1L572.9 184.5L573.2 184.2L573.6 221.1L573.9 221.3L574.3 221.8L574.6 221.9L575.0 221.9L575.3 221.9L575.7 221.9L576.0 221.9L576.3 221.9L576.7 219.5L577.0 214.1L577.4 208.8L577.7 203.7L578.1 199.0L578.4 194.7L578.8 190.8L579.1 187.3L579.5 184.0L579.8 181.1L580.2 178.5L580.5 175.9L580.8 173.6L581.2 171.5L581.5 169.6L581.9 167.9L582.2 166.5L582.6 165.2L582.9 164.2L583.3 163.4L583.6 162.8L584.0 162.5L584.3 162.4L584.7 162.5L585.0 163.0L585.4 163.8L585.7 164.9L586.0 166.5L586.4 168.5L586.7 171.1L587.1 174.2L587.4 177.9L587.8 182.4L588.1 187.8L588.5 194.1L588.8 201.5L589.2 209.9L589.5 217.3L589.9 220.3L590.2 215.7L590.6 207.6L590.9 199.5L591.2 192.6L591.6 187.0L591.9 182.2L592.3 178.4L592.6 175.2L593.0 172.7L593.3 170.5L593.7 168.8L594.0 167.4L594.4 166.3L594.7 165.2L595.1 164.3L595.4 163.9L595.7 163.4L596.1 163.3L596.4 163.4L596.8 163.7L597.1 164.3L597.5 165.1L597.8 165.8L598.2 166.5L598.5 167.3L598.9 167.7L599.2 168.1L599.6 168.0L599.9 167.6L600.3 167.0L600.6 166.0L600.9 165.1L601.3 163.7L601.6 162.0L602.0 160.3L602.3 158.3L602.7 156.3L603.0 154.4L603.4 152.9L603.7 151.7L604.1 151.3L604.4 151.4L604.8 152.2L605.1 153.9L605.5 156.4L605.8 160.0L606.1 164.8L606.5 171.4L606.8 180.3L607.2 192.1L607.5 208.9L607.9 221.9L608.2 221.9L608.6 206.0L608.9 189.6L609.3 178.0L609.6 169.4L610.0 163.0L610.3 158.1L610.7 154.5L611.0 152.0L611.3 150.3L611.7 149.4L612.0 149.1L612.4 149.1L612.7 149.3L613.1 149.4L613.4 149.1L613.8 148.3L614.1 146.9L614.5 145.1L614.8 143.2L615.2 142.0L615.5 141.0L615.8 140.2L616.2 140.0L616.5 140.3L616.9 141.7L617.2 144.1L617.6 148.1L617.9 154.1L618.3 162.3L618.6 172.5L619.0 182.0L619.3 183.4L619.7 176.3L620.0 168.6L620.4 162.7L620.7 158.7L621.0 156.5L621.4 155.5L621.7 155.2L622.1 155.2L622.4 155.9L622.8 157.1L623.1 159.1L623.5 161.9L623.8 165.4L624.2 168.9L624.5 171.3L624.9 171.5L625.2 169.9L625.6 167.0L625.9 164.1L626.2 161.3L626.6 159.6L626.9 158.8L627.3 159.0L627.6 160.1L628.0 162.0L628.3 164.6L628.7 168.2L629.0 172.5L629.4 178.0L629.7 184.5L630.1 192.9L630.4 203.0L630.7 215.9L631.1 221.9L631.4 221.9L631.8 221.9L632.1 221.9L632.5 221.9L632.8 221.9L633.2 221.9L633.5 221.9L633.9 221.9L634.2 221.9L634.6 221.9L634.9 221.9L635.3 221.9L635.6 221.9" stroke="#d8281e" stroke-width="1.35" stroke-dasharray="5 1.5 1 1.8"/>
<path d="M386.1 221.9L386.8 221.9L387.5 218.0L388.2 215.4L388.9 220.3L389.6 221.9L390.3 221.9L391.0 221.9L391.6 221.9L392.3 221.2L393.0 215.3L393.7 216.9L394.4 221.9L395.1 221.9L395.8 221.9L396.5 221.9L397.2 221.9L397.9 215.6L398.6 212.9L399.3 217.4L400.0 221.9L400.7 221.9L401.3 221.9L402.0 221.9L402.7 215.2L403.4 207.6L404.1 207.0L404.8 213.3L405.5 221.9L406.2 221.9L406.9 221.9L407.6 221.9L408.3 207.0L409.0 200.2L409.7 199.3L410.4 204.3L411.1 217.0L411.7 221.9L412.4 221.9L413.1 221.9L413.8 206.3L414.5 194.7L415.2 189.2L415.9 188.6L416.6 193.0L417.3 204.5L418.0 221.9L418.7 221.9L419.4 208.5L420.1 181.8L420.8 165.3L421.4 153.6L422.1 144.9L422.8 136.6L423.5 130.0L424.2 124.7L424.9 120.6L425.6 117.4L426.3 115.1L427.0 113.6L427.7 112.8L428.4 110.3L429.1 108.3L429.8 106.8L430.5 106.0L431.1 105.6L431.8 105.7L432.5 109.4L433.2 113.6L433.9 118.7L434.6 124.5L435.3 132.4L436.0 141.9L436.7 153.7L437.4 169.2L438.1 192.4L438.8 221.9L439.5 221.9L440.2 192.6L440.9 174.7L441.5 163.4L442.2 154.6L442.9 147.8L443.6 142.3L444.3 137.6L445.0 133.6L445.7 130.1L446.4 126.9L447.1 124.0L447.8 123.1L448.5 122.4L449.2 122.1L449.9 121.9L450.6 122.0L451.2 122.4L451.9 123.0L452.6 124.1L453.3 125.8L454.0 128.3L454.7 131.7L455.4 136.8L456.1 144.2L456.8 156.0L457.5 176.9L458.2 221.9L458.9 188.2L459.6 149.9L460.3 128.8L461.0 113.9L461.6 102.1L462.3 92.3L463.0 84.0L463.7 76.8L464.4 70.5L465.1 64.9L465.8 60.0L466.5 55.8L467.2 52.2L467.9 49.1L468.6 46.7L469.3 44.9L470.0 43.8L470.7 43.3L471.3 43.5L472.0 44.6L472.7 46.5L473.4 49.4L474.1 53.4L474.8 58.9L475.5 66.0L476.2 75.6L476.9 88.5L477.6 107.3L478.3 140.4L479.0 221.9L479.7 137.9L480.4 117.6L481.0 108.7L481.7 105.9L482.4 107.7L483.1 114.1L483.8 126.6L484.5 150.5L485.2 221.9L485.9 167.0L486.6 138.9L487.3 127.1L488.0 122.9L488.7 124.5L489.4 132.2L490.1 148.7L490.8 188.2L491.4 202.1L492.1 156.1L492.8 139.9L493.5 133.8L494.2 134.5L494.9 142.3L495.6 160.2L496.3 208.4L497.0 195.8L497.7 158.9L498.4 145.0L499.1 140.8L499.8 143.8L500.5 155.3L501.1 182.6L501.8 221.9L502.5 176.2L503.2 154.8L503.9 146.8L504.6 147.0L505.3 155.2L506.0 176.1L506.7 221.9L507.4 190.5L508.1 162.4L508.8 151.6L509.5 149.9L510.2 156.1L510.9 173.6L511.5 221.9L512.2 203.3L512.9 168.6L513.6 155.7L514.3 152.4L515.0 157.1L515.7 171.8L516.4 210.5L517.1 221.1L517.8 175.6L518.5 159.7L519.2 154.3L519.9 156.6L520.6 167.4L521.2 193.8L521.9 221.9L522.6 188.2L523.3 165.8L524.0 156.6L524.7 155.3L525.4 161.0L526.1 176.1L526.8 214.4L527.5 221.9L528.2 180.2L528.9 163.0L529.6 155.9L530.3 155.3L530.9 161.0L531.6 175.1L532.3 207.8L533.0 221.9L533.7 187.2L534.4 167.3L535.1 158.1L535.8 155.1L536.5 157.2L537.2 164.7L537.9 180.1L538.6 213.9L539.3 221.9L540.0 191.3L540.7 170.6L541.3 159.9L542.0 154.6L542.7 153.3L543.4 155.6L544.1 161.8L544.8 173.2L545.5 194.1L546.2 221.9L546.9 220.0L547.6 184.5L548.3 167.6L549.0 157.4L549.7 151.2L550.4 147.8L551.0 146.5L551.7 147.2L552.4 149.8L553.1 154.4L553.8 161.4L554.5 171.8L555.2 187.9L555.9 217.8L556.6 221.9L557.3 207.9L558.0 182.6L558.7 167.6L559.4 157.3L560.1 149.6L560.8 143.7L561.4 138.9L562.1 135.1L562.8 132.0L563.5 130.7L564.2 130.0L564.9 129.7L565.6 129.9L566.3 130.3L567.0 130.9L567.7 131.6L568.4 132.4L569.1 133.2L569.8 134.0L570.5 134.7L571.1 135.3L571.8 135.8L572.5 136.2L573.2 136.4L573.9 136.6L574.6 136.7L575.3 139.4L576.0 142.0L576.7 144.5L577.4 146.8L578.1 149.1L578.8 151.4L579.5 153.7L580.2 156.0L580.8 157.8L581.5 159.8L582.2 162.0L582.9 164.5L583.6 167.5L584.3 170.9L585.0 175.1L585.7 180.1L586.4 186.2L587.1 194.0L587.8 204.6L588.5 219.8L589.2 221.9L589.9 221.9L590.6 221.9L591.2 221.9L591.9 214.4L592.6 206.4L593.3 201.9L594.0 200.0L594.7 199.3L595.4 200.6L596.1 204.1L596.8 210.1L597.5 219.6L598.2 221.9L598.9 221.9L599.6 221.9L600.3 221.9L600.9 221.9L601.6 221.9L602.3 217.2L603.0 213.0L603.7 212.4L604.4 215.4L605.1 221.9L605.8 221.9L606.5 221.9L607.2 221.9L607.9 221.9L608.6 221.9L609.3 218.3L610.0 212.9L610.7 212.4L611.3 216.8L612.0 221.9L612.7 221.9L613.4 221.9L614.1 221.9L614.8 221.9L615.5 217.2L616.2 212.7L616.9 214.1L617.6 221.9L618.3 221.9L619.0 221.9L619.7 221.9L620.4 221.9L621.0 221.6L621.7 215.9L622.4 216.9L623.1 221.9L623.8 221.9L624.5 221.9L625.2 221.9L625.9 221.9L626.6 221.2L627.3 216.9L628.0 219.9L628.7 221.9L629.4 221.9L630.1 221.9L630.7 221.9L631.4 221.9L632.1 217.1L632.8 216.9L633.5 221.9L634.2 221.9L634.9 221.9L635.6 221.9" stroke="#0a0a0a" stroke-width="1.6" clip-path="url(#clipbf)"/>
<path d="M386.1 197.2L386.4 212.0L386.8 221.9L387.1 221.9L387.5 220.1L387.8 198.4L388.2 186.2L388.5 179.4L388.9 175.8L389.2 175.2L389.6 176.8L389.9 179.8L390.3 183.7L390.6 187.8L391.0 191.8L391.3 196.1L391.6 200.8L392.0 203.7L392.3 204.0L392.7 202.2L393.0 200.6L393.4 200.2L393.7 201.5L394.1 201.6L394.4 197.4L394.8 190.1L395.1 181.5L395.5 174.4L395.8 168.9L396.1 165.0L396.5 163.0L396.8 162.7L397.2 163.5L397.5 165.2L397.9 167.7L398.2 170.9L398.6 174.4L398.9 177.4L399.3 179.1L399.6 177.7L400.0 173.7L400.3 168.9L400.7 164.0L401.0 160.4L401.3 158.0L401.7 156.7L402.0 156.8L402.4 158.3L402.7 161.4L403.1 166.7L403.4 174.6L403.8 186.3L404.1 204.0L404.5 221.9L404.8 221.9L405.2 216.0L405.5 196.4L405.9 183.3L406.2 173.2L406.5 164.7L406.9 157.5L407.2 151.3L407.6 146.5L407.9 142.8L408.3 140.2L408.6 138.7L409.0 137.9L409.3 137.9L409.7 138.0L410.0 138.5L410.4 138.8L410.7 139.2L411.1 139.5L411.4 140.1L411.7 141.1L412.1 142.8L412.4 145.3L412.8 148.9L413.1 153.5L413.5 159.0L413.8 164.4L414.2 168.3L414.5 169.2L414.9 166.8L415.2 163.2L415.6 159.4L415.9 156.5L416.2 154.8L416.6 154.3L416.9 155.1L417.3 157.0L417.6 160.1L418.0 165.1L418.3 171.6L418.7 179.2L419.0 186.3L419.4 188.6L419.7 183.4L420.1 174.6L420.4 166.1L420.8 158.9L421.1 153.1L421.4 148.5L421.8 145.0L422.1 142.3L422.5 139.8L422.8 137.8L423.2 136.0L423.5 134.4L423.9 132.8L424.2 131.1L424.6 129.5L424.9 127.7L425.3 125.8L425.6 124.0L426.0 122.0L426.3 120.2L426.6 118.4L427.0 116.7L427.3 115.2L427.7 113.8L428.0 111.4L428.4 109.1L428.7 106.9L429.1 104.9L429.4 103.0L429.8 101.3L430.1 99.6L430.5 98.1L430.8 96.7L431.1 95.3L431.5 94.5L431.8 93.8L432.2 94.6L432.5 95.5L432.9 96.5L433.2 97.6L433.6 98.8L433.9 100.0L434.3 101.4L434.6 102.8L435.0 104.7L435.3 106.7L435.7 108.7L436.0 110.9L436.3 113.2L436.7 115.6L437.0 118.1L437.4 120.6L437.7 123.3L438.1 126.1L438.4 129.1L438.8 132.2L439.1 135.5L439.5 139.0L439.8 142.7L440.2 146.6L440.5 150.8L440.9 155.4L441.2 160.3L441.5 165.6L441.9 171.1L442.2 177.1L442.6 183.5L442.9 189.7L443.3 194.8L443.6 197.5L444.0 196.7L444.3 193.1L444.7 187.9L445.0 182.4L445.4 177.0L445.7 172.1L446.0 167.6L446.4 163.6L446.7 160.0L447.1 156.7L447.4 156.0L447.8 155.6L448.1 155.4L448.5 147.0L448.8 147.2L449.2 147.6L449.5 148.1L449.9 148.9L450.2 150.0L450.6 151.3L450.9 153.0L451.2 155.0L451.6 157.5L451.9 160.4L452.3 163.8L452.6 167.7L453.0 172.1L453.3 176.5L453.7 180.3L454.0 182.1L454.4 180.6L454.7 176.0L455.1 169.8L455.4 163.2L455.8 156.7L456.1 150.5L456.4 144.7L456.8 138.9L457.1 133.5L457.5 128.1L457.8 122.6L458.2 117.2L458.5 111.9L458.9 106.9L459.2 101.8L459.6 97.1L459.9 92.8L460.3 88.8L460.6 85.2L461.0 81.7L461.3 78.5L461.6 75.5L462.0 72.6L462.3 69.9L462.7 67.3L463.0 64.9L463.4 62.6L463.7 60.4L464.1 58.3L464.4 56.3L464.8 54.5L465.1 52.8L465.5 51.2L465.8 49.7L466.1 48.3L466.5 47.1L466.8 45.9L467.2 44.9L467.5 44.0L467.9 43.2L468.2 42.6L468.6 42.1L468.9 41.7L469.3 41.5L469.6 41.4L470.0 41.5L470.3 41.7L470.7 42.2L471.0 42.8L471.3 43.6L471.7 44.6L472.0 45.8L472.4 47.2L472.7 48.8L473.1 50.8L473.4 53.0L473.8 55.5L474.1 58.4L474.5 61.6L474.8 65.3L475.2 69.4L475.5 74.1L475.9 79.4L476.2 85.5L476.5 92.3L476.9 99.9L477.2 108.5L477.6 119.2L477.9 134.6L478.3 160.5L478.6 173.1L479.0 146.9L479.3 130.0L479.7 119.5L480.0 112.7L480.4 108.8L480.7 107.0L481.0 106.3L481.4 106.4L481.7 107.2L482.1 108.6L482.4 110.4L482.8 112.5L483.1 114.9L483.5 119.0L483.8 127.7L484.2 145.9L484.5 188.2L484.9 199.6L485.2 157.7L485.6 141.7L485.9 133.9L486.2 130.4L486.6 128.3L486.9 124.9L487.3 120.5L487.6 118.2L488.0 119.3L488.3 123.5L488.7 129.5L489.0 136.2L489.4 142.8L489.7 146.3L490.1 143.7L490.4 140.4L490.8 142.4L491.1 156.1L491.4 191.0L491.8 171.2L492.1 147.6L492.5 136.8L492.8 131.5L493.2 128.7L493.5 127.7L493.9 128.8L494.2 131.7L494.6 133.8L494.9 136.4L495.3 144.8L495.6 165.9L495.9 189.1L496.3 159.0L496.6 144.1L497.0 134.4L497.3 126.8L497.7 125.1L498.0 130.1L498.4 135.9L498.7 132.6L499.1 125.8L499.4 122.6L499.8 122.9L500.1 122.6L500.5 121.2L500.8 122.5L501.1 129.7L501.5 143.5L501.8 158.8L502.2 167.7L502.5 177.9L502.9 198.2L503.2 184.9L503.6 159.2L503.9 148.5L504.3 144.6L504.6 142.4L505.0 146.9L505.3 158.1L505.7 163.2L506.0 161.4L506.3 161.7L506.7 170.7L507.0 188.3L507.4 203.5L507.7 207.0L508.1 190.3L508.4 167.5L508.8 156.0L509.1 145.1L509.5 137.4L509.8 138.2L510.2 143.6L510.5 153.4L510.9 169.1L511.2 180.0L511.5 179.6L511.9 186.1L512.2 201.5L512.6 182.4L512.9 160.8L513.3 153.5L513.6 155.4L514.0 164.6L514.3 175.0L514.7 180.3L515.0 178.7L515.4 171.8L515.7 168.1L516.0 166.5L516.4 166.1L516.7 182.9L517.1 221.9L517.4 164.4L517.8 153.0L518.1 155.8L518.5 155.7L518.8 145.9L519.2 136.0L519.5 132.5L519.9 134.5L520.2 137.3L520.6 137.2L520.9 136.0L521.2 137.1L521.6 143.8L521.9 165.2L522.3 221.9L522.6 217.7L523.0 197.2L523.3 195.8L523.7 198.5L524.0 175.3L524.4 152.4L524.7 140.3L525.1 136.3L525.4 136.3L525.8 140.9L526.1 154.0L526.4 178.9L526.8 189.7L527.1 166.4L527.5 149.6L527.8 150.1L528.2 169.4L528.5 180.0L528.9 171.0L529.2 170.6L529.6 177.2L529.9 179.6L530.3 165.2L530.6 147.2L530.9 135.2L531.3 128.1L531.6 124.7L532.0 125.3L532.3 129.1L532.7 135.2L533.0 144.0L533.4 157.1L533.7 174.0L534.1 183.6L534.4 176.0L534.8 165.9L535.1 167.6L535.5 190.6L535.8 204.6L536.1 173.5L536.5 159.6L536.8 150.7L537.2 142.8L537.5 137.5L537.9 135.6L538.2 138.0L538.6 143.0L538.9 147.8L539.3 151.5L539.6 154.5L540.0 151.7L540.3 142.7L540.7 135.7L541.0 134.7L541.3 137.8L541.7 141.9L542.0 144.8L542.4 147.9L542.7 153.4L543.1 161.0L543.4 166.9L543.8 163.7L544.1 154.9L544.5 146.4L544.8 140.0L545.2 135.4L545.5 132.0L545.8 130.3L546.2 131.0L546.5 134.3L546.9 140.1L547.2 147.9L547.6 157.1L547.9 166.1L548.3 173.1L548.6 173.2L549.0 167.1L549.3 161.9L549.7 160.7L550.0 162.1L550.4 163.8L550.7 165.0L551.0 167.7L551.4 170.6L551.7 168.1L552.1 159.8L552.4 150.5L552.8 143.3L553.1 138.3L553.5 135.3L553.8 134.1L554.2 134.0L554.5 134.2L554.9 134.3L555.2 134.2L555.6 134.1L555.9 134.4L556.2 135.0L556.6 135.8L556.9 136.6L557.3 137.4L557.6 137.9L558.0 138.2L558.3 138.5L558.7 138.8L559.0 139.6L559.4 141.0L559.7 143.2L560.1 146.1L560.4 149.6L560.8 153.4L561.1 156.7L561.4 159.5L561.8 161.5L562.1 162.8L562.5 163.9L562.8 165.4L563.2 167.8L563.5 170.7L563.9 174.2L564.2 178.0L564.6 181.7L564.9 184.1L565.3 184.8L565.6 183.2L565.9 180.1L566.3 176.2L566.6 172.2L567.0 168.5L567.3 165.2L567.7 162.3L568.0 159.8L568.4 157.7L568.7 155.8L569.1 154.3L569.4 153.0L569.8 152.0L570.1 151.2L570.5 150.4L570.8 149.9L571.1 149.4L571.5 149.1L571.8 148.9L572.2 148.8L572.5 148.7L572.9 148.8L573.2 149.0L573.6 153.1L573.9 153.6L574.3 154.2L574.6 154.9L575.0 156.6L575.3 158.3L575.7 160.2L576.0 162.1L576.3 164.2L576.7 166.3L577.0 168.5L577.4 170.8L577.7 173.1L578.1 175.4L578.4 177.8L578.8 180.0L579.1 182.1L579.5 184.0L579.8 185.5L580.2 186.7L580.5 187.2L580.8 187.2L581.2 186.7L581.5 185.7L581.9 184.4L582.2 182.6L582.6 180.7L582.9 178.7L583.3 176.6L583.6 174.6L584.0 172.5L584.3 170.7L584.7 168.9L585.0 167.4L585.4 166.0L585.7 165.0L586.0 163.9L586.4 163.2L586.7 162.7L587.1 162.5L587.4 162.3L587.8 162.4L588.1 162.8L588.5 163.6L588.8 164.6L589.2 166.1L589.5 168.0L589.9 170.5L590.2 174.0L590.6 178.4L590.9 183.9L591.2 190.8L591.6 199.1L591.9 210.4L592.3 221.9L592.6 221.9L593.0 221.9L593.3 221.9L593.7 221.9L594.0 221.9L594.4 217.0L594.7 211.9L595.1 208.3L595.4 206.6L595.7 206.3L596.1 207.3L596.4 209.6L596.8 214.3L597.1 221.8L597.5 221.9L597.8 221.9L598.2 221.9L598.5 221.9L598.9 221.9L599.2 214.9L599.6 204.0L599.9 196.4L600.3 190.7L600.6 186.9L600.9 184.6L601.3 184.1L601.6 184.8L602.0 186.9L602.3 189.9L602.7 193.9L603.0 198.7L603.4 204.9L603.7 211.7L604.1 219.1L604.4 221.9L604.8 221.9L605.1 216.2L605.5 206.3L605.8 196.0L606.1 186.9L606.5 179.9L606.8 173.8L607.2 169.0L607.5 165.4L607.9 162.8L608.2 161.1L608.6 160.3L608.9 160.5L609.3 161.9L609.6 164.0L610.0 167.8L610.3 173.2L610.7 180.3L611.0 190.0L611.3 202.1L611.7 213.9L612.0 216.4L612.4 209.0L612.7 201.0L613.1 194.9L613.4 191.7L613.8 190.9L614.1 191.5L614.5 192.4L614.8 191.3L615.2 187.1L615.5 181.2L615.8 175.9L616.2 172.1L616.5 170.0L616.9 169.6L617.2 170.8L617.6 172.9L617.9 174.8L618.3 175.1L618.6 173.7L619.0 172.0L619.3 170.7L619.7 170.4L620.0 171.6L620.4 174.5L620.7 179.3L621.0 186.0L621.4 194.2L621.7 203.1L622.1 213.2L622.4 221.9L622.8 221.9L623.1 221.9L623.5 221.9L623.8 221.9L624.2 221.9L624.5 221.9L624.9 220.9L625.2 215.9L625.6 210.0L625.9 205.1L626.2 201.8L626.6 200.5L626.9 199.1L627.3 197.9L627.6 194.7L628.0 188.6L628.3 181.5L628.7 174.3L629.0 168.7L629.4 164.4L629.7 161.5L630.1 160.0L630.4 159.7L630.7 160.7L631.1 163.6L631.4 168.6L631.8 176.7L632.1 189.2L632.5 210.9L632.8 221.9L633.2 221.9L633.5 204.8L633.9 191.4L634.2 184.3L634.6 181.0L634.9 181.6L635.3 185.6L635.6 193.7" stroke="#d8281e" stroke-width="1.35" stroke-dasharray="5 1.5 1 1.8"/>
<path d="M386.1 221.9L386.8 221.9L387.5 221.9L388.2 221.9L388.9 221.9L389.6 219.8L390.3 221.0L391.0 221.9L391.6 221.9L392.3 221.9L393.0 221.9L393.7 221.9L394.4 221.9L395.1 220.3L395.8 221.9L396.5 221.9L397.2 221.9L397.9 221.9L398.6 221.9L399.3 221.9L400.0 219.4L400.7 219.0L401.3 221.9L402.0 221.9L402.7 221.9L403.4 221.9L404.1 221.9L404.8 221.9L405.5 216.8L406.2 215.5L406.9 220.1L407.6 221.9L408.3 221.9L409.0 221.9L409.7 221.9L410.4 221.9L411.1 220.6L411.7 215.8L412.4 216.0L413.1 220.8L413.8 221.9L414.5 221.9L415.2 221.9L415.9 221.9L416.6 221.9L417.3 221.9L418.0 219.7L418.7 215.9L419.4 215.6L420.1 218.6L420.8 221.9L421.4 221.9L422.1 221.9L422.8 221.9L423.5 221.9L424.2 221.9L424.9 221.9L425.6 215.6L426.3 208.1L427.0 203.3L427.7 200.6L428.4 199.0L429.1 199.2L429.8 201.5L430.5 206.2L431.1 214.2L431.8 221.9L432.5 221.9L433.2 221.9L433.9 221.9L434.6 221.9L435.3 211.2L436.0 199.9L436.7 191.3L437.4 184.4L438.1 178.8L438.8 174.0L439.5 169.9L440.2 166.4L440.9 163.2L441.5 160.4L442.2 157.1L442.9 154.0L443.6 151.1L444.3 148.2L445.0 145.3L445.7 142.5L446.4 139.6L447.1 136.7L447.8 136.4L448.5 136.1L449.2 135.8L449.9 135.6L450.6 135.3L451.2 135.0L451.9 134.8L452.6 134.6L453.3 134.5L454.0 134.5L454.7 134.6L455.4 135.0L456.1 135.7L456.8 136.8L457.5 138.6L458.2 141.1L458.9 144.4L459.6 149.9L460.3 156.7L461.0 165.4L461.6 177.3L462.3 194.9L463.0 221.9L463.7 221.9L464.4 209.3L465.1 186.1L465.8 172.3L466.5 163.0L467.2 156.5L467.9 152.1L468.6 149.5L469.3 148.6L470.0 149.3L470.7 152.0L471.3 156.9L472.0 164.8L472.7 177.6L473.4 199.9L474.1 221.9L474.8 220.1L475.5 187.2L476.2 171.2L476.9 162.1L477.6 157.4L478.3 156.2L479.0 158.4L479.7 164.6L480.4 176.6L481.0 200.0L481.7 221.9L482.4 209.9L483.1 181.1L483.8 167.0L484.5 160.2L485.2 158.5L485.9 161.8L486.6 171.3L487.3 191.6L488.0 221.9L488.7 210.6L489.4 178.5L490.1 164.3L490.8 158.6L491.4 159.0L492.1 165.8L492.8 182.2L493.5 221.9L494.2 221.9L494.9 180.9L495.6 164.9L496.3 158.7L497.0 159.4L497.7 167.7L498.4 188.2L499.1 221.9L499.8 201.8L500.5 172.6L501.1 160.6L501.8 157.4L502.5 161.8L503.2 176.0L503.9 214.0L504.6 221.9L505.3 178.1L506.0 161.6L506.7 155.8L507.4 157.9L508.1 169.2L508.8 198.8L509.5 221.9L510.2 180.8L510.9 160.9L511.5 153.4L512.2 154.1L512.9 163.4L513.6 187.9L514.3 221.9L515.0 183.8L515.7 160.2L516.4 150.7L517.1 149.5L517.8 156.5L518.5 175.6L519.2 221.9L519.9 191.1L520.6 160.4L521.2 147.7L521.9 143.9L522.6 147.4L523.3 160.2L524.0 193.7L524.7 220.0L525.4 165.3L526.1 146.2L526.8 137.9L527.5 136.8L528.2 142.6L528.9 158.4L529.6 202.8L530.3 192.6L530.9 152.0L531.6 135.0L532.3 127.3L533.0 125.8L533.7 130.2L534.4 142.6L535.1 172.8L535.8 216.7L536.5 150.4L537.2 127.8L537.9 115.9L538.6 110.0L539.3 108.9L540.0 112.6L540.7 123.2L541.3 148.5L542.0 221.9L542.7 131.9L543.4 103.8L544.1 86.8L544.8 74.8L545.5 66.0L546.2 59.3L546.9 54.3L547.6 50.7L548.3 48.2L549.0 46.7L549.7 46.1L550.4 46.2L551.0 47.2L551.7 48.8L552.4 51.2L553.1 54.2L553.8 57.9L554.5 62.4L555.2 67.5L555.9 73.5L556.6 80.4L557.3 88.3L558.0 97.7L558.7 109.0L559.4 123.3L560.1 142.8L560.8 175.7L561.4 221.9L562.1 172.6L562.8 149.5L563.5 138.5L564.2 131.4L564.9 126.5L565.6 123.3L566.3 121.3L567.0 119.9L567.7 119.1L568.4 118.8L569.1 118.7L569.8 118.9L570.5 119.2L571.1 119.7L571.8 120.2L572.5 120.7L573.2 121.3L573.9 122.1L574.6 122.9L575.3 125.0L576.0 127.2L576.7 129.5L577.4 132.0L578.1 134.7L578.8 137.8L579.5 141.3L580.2 145.6L580.8 150.0L581.5 155.8L582.2 163.6L582.9 174.5L583.6 191.9L584.3 221.9L585.0 221.9L585.7 192.6L586.4 169.0L587.1 153.4L587.8 142.7L588.5 134.1L589.2 127.1L589.9 121.2L590.6 119.2L591.2 117.9L591.9 117.3L592.6 117.4L593.3 118.0L594.0 119.4L594.7 118.8L595.4 119.1L596.1 120.1L596.8 121.9L597.5 124.6L598.2 128.3L598.9 133.1L599.6 139.3L600.3 145.4L600.9 153.4L601.6 164.2L602.3 179.3L603.0 202.6L603.7 221.9L604.4 221.9L605.1 211.3L605.8 197.4L606.5 191.7L607.2 191.6L607.9 196.3L608.6 207.1L609.3 221.9L610.0 221.9L610.7 221.9L611.3 221.2L612.0 207.7L612.7 202.3L613.4 203.0L614.1 209.7L614.8 221.9L615.5 221.9L616.2 221.9L616.9 221.9L617.6 216.5L618.3 210.5L619.0 211.5L619.7 219.7L620.4 221.9L621.0 221.9L621.7 221.9L622.4 221.9L623.1 220.1L623.8 216.4L624.5 219.9L625.2 221.9L625.9 221.9L626.6 221.9L627.3 221.9L628.0 221.9L628.7 219.5L629.4 218.7L630.1 221.9L630.7 221.9L631.4 221.9L632.1 221.9L632.8 221.9L633.5 221.9L634.2 218.4L634.9 221.9L635.6 221.9" stroke="#0a0a0a" stroke-width="1.6" clip-path="url(#clipbf)"/>
<path d="M386.1 207.1L386.4 221.9L386.8 218.4L387.1 188.0L387.5 171.9L387.8 162.4L388.2 157.0L388.5 154.9L388.9 155.5L389.2 158.6L389.6 163.9L389.9 171.2L390.3 179.8L390.6 187.4L391.0 190.8L391.3 187.3L391.6 179.5L392.0 170.9L392.3 162.6L392.7 156.1L393.0 150.7L393.4 146.7L393.7 143.6L394.1 141.7L394.4 140.3L394.8 139.5L395.1 139.5L395.5 140.5L395.8 142.7L396.1 146.0L396.5 150.2L396.8 155.1L397.2 160.6L397.5 166.2L397.9 171.8L398.2 178.2L398.6 186.7L398.9 197.2L399.3 209.1L399.6 216.6L400.0 213.7L400.3 208.5L400.7 204.5L401.0 203.3L401.3 204.4L401.7 207.6L402.0 213.4L402.4 221.9L402.7 221.9L403.1 221.9L403.4 221.9L403.8 221.9L404.1 217.6L404.5 203.3L404.8 193.1L405.2 186.6L405.5 181.9L405.9 179.3L406.2 178.5L406.5 180.1L406.9 184.0L407.2 190.6L407.6 199.4L407.9 211.7L408.3 221.9L408.6 221.9L409.0 221.9L409.3 216.4L409.7 211.7L410.0 209.4L410.4 207.7L410.7 205.7L411.1 203.1L411.4 199.8L411.7 197.1L412.1 195.9L412.4 196.0L412.8 198.7L413.1 205.3L413.5 217.0L413.8 221.9L414.2 221.9L414.5 221.9L414.9 218.6L415.2 203.9L415.6 195.1L415.9 190.5L416.2 188.8L416.6 189.8L416.9 193.3L417.3 199.2L417.6 208.3L418.0 219.7L418.3 221.9L418.7 221.9L419.0 221.9L419.4 221.9L419.7 221.9L420.1 221.9L420.4 221.9L420.8 221.9L421.1 221.9L421.4 221.9L421.8 221.9L422.1 221.9L422.5 221.9L422.8 221.9L423.2 221.9L423.5 215.1L423.9 209.8L424.2 205.7L424.6 202.6L424.9 200.8L425.3 199.1L425.6 197.7L426.0 196.5L426.3 195.4L426.6 194.4L427.0 193.2L427.3 191.6L427.7 189.9L428.0 188.9L428.4 187.8L428.7 186.6L429.1 185.1L429.4 184.0L429.8 182.7L430.1 181.7L430.5 180.9L430.8 180.1L431.1 179.5L431.5 179.1L431.8 178.9L432.2 178.6L432.5 178.5L432.9 178.7L433.2 179.1L433.6 179.7L433.9 180.4L434.3 181.4L434.6 182.5L435.0 183.8L435.3 185.3L435.7 186.8L436.0 188.5L436.3 190.4L436.7 192.3L437.0 194.5L437.4 196.8L437.7 199.3L438.1 202.0L438.4 204.7L438.8 207.2L439.1 209.8L439.5 211.9L439.8 213.3L440.2 214.1L440.5 213.8L440.9 212.5L441.2 210.4L441.5 207.7L441.9 204.4L442.2 200.9L442.6 197.3L442.9 193.7L443.3 190.1L443.6 186.8L444.0 183.6L444.3 180.6L444.7 177.7L445.0 174.9L445.4 172.3L445.7 169.9L446.0 167.6L446.4 165.5L446.7 163.4L447.1 161.5L447.4 160.8L447.8 160.2L448.1 159.7L448.5 162.3L448.8 162.2L449.2 162.2L449.5 162.5L449.9 162.9L450.2 163.5L450.6 164.4L450.9 165.5L451.2 166.9L451.6 168.5L451.9 170.4L452.3 172.7L452.6 175.4L453.0 178.6L453.3 182.4L453.7 186.7L454.0 191.6L454.4 197.0L454.7 202.8L455.1 208.5L455.4 213.6L455.8 217.0L456.1 217.6L456.4 216.3L456.8 214.1L457.1 211.6L457.5 209.1L457.8 206.2L458.2 202.6L458.5 198.3L458.9 192.6L459.2 186.8L459.6 179.9L459.9 172.1L460.3 164.1L460.6 156.3L461.0 149.3L461.3 143.5L461.6 139.0L462.0 135.6L462.3 133.4L462.7 132.3L463.0 132.3L463.4 133.1L463.7 134.5L464.1 136.4L464.4 138.3L464.8 139.7L465.1 140.2L465.5 139.2L465.8 137.0L466.1 134.1L466.5 131.1L466.8 128.5L467.2 126.4L467.5 125.0L467.9 124.2L468.2 124.1L468.6 124.9L468.9 126.9L469.3 130.4L469.6 135.8L470.0 143.6L470.3 154.5L470.7 171.1L471.0 196.2L471.3 208.5L471.7 187.4L472.0 174.9L472.4 171.2L472.7 173.5L473.1 179.3L473.4 182.6L473.8 178.1L474.1 171.7L474.5 168.2L474.8 167.7L475.2 167.3L475.5 164.6L475.9 160.0L476.2 155.8L476.5 153.2L476.9 154.3L477.2 160.7L477.6 173.5L477.9 186.8L478.3 188.7L478.6 180.0L479.0 165.7L479.3 154.2L479.7 149.3L480.0 151.0L480.4 156.1L480.7 160.8L481.0 164.1L481.4 165.2L481.7 163.2L482.1 159.0L482.4 154.8L482.8 152.6L483.1 151.4L483.5 150.6L483.8 151.2L484.2 153.6L484.5 158.3L484.9 165.2L485.2 176.6L485.6 192.2L485.9 206.0L486.2 205.5L486.6 202.8L486.9 197.1L487.3 168.0L487.6 151.0L488.0 144.6L488.3 145.7L488.7 153.8L489.0 164.5L489.4 166.1L489.7 162.2L490.1 162.3L490.4 172.6L490.8 205.4L491.1 198.5L491.4 171.4L491.8 163.8L492.1 164.7L492.5 173.4L492.8 192.7L493.2 208.4L493.5 198.5L493.9 192.8L494.2 171.1L494.6 150.2L494.9 141.5L495.3 142.4L495.6 150.8L495.9 160.9L496.3 158.8L496.6 148.3L497.0 144.2L497.3 152.0L497.7 177.9L498.0 196.5L498.4 175.9L498.7 180.5L499.1 195.5L499.4 200.5L499.8 183.0L500.1 171.8L500.5 167.3L500.8 158.4L501.1 149.6L501.5 146.8L501.8 146.3L502.2 143.1L502.5 141.1L502.9 143.5L503.2 148.2L503.6 155.4L503.9 169.6L504.3 191.8L504.6 182.3L505.0 169.3L505.3 160.7L505.7 147.3L506.0 133.0L506.3 125.5L506.7 126.4L507.0 132.4L507.4 136.8L507.7 139.2L508.1 146.3L508.4 159.8L508.8 172.4L509.1 181.8L509.5 202.9L509.8 221.9L510.2 163.3L510.5 149.8L510.9 155.5L511.2 166.2L511.5 163.8L511.9 159.8L512.2 168.8L512.6 184.4L512.9 214.4L513.3 209.7L513.6 196.9L514.0 221.9L514.3 210.0L514.7 171.9L515.0 165.9L515.4 176.4L515.7 192.4L516.0 191.4L516.4 172.8L516.7 167.0L517.1 168.4L517.4 167.9L517.8 165.5L518.1 167.4L518.5 182.0L518.8 206.6L519.2 216.8L519.5 221.9L519.9 216.6L520.2 184.6L520.6 164.6L520.9 155.4L521.2 152.3L521.6 147.2L521.9 138.4L522.3 135.1L522.6 140.6L523.0 152.4L523.3 165.1L523.7 175.2L524.0 185.3L524.4 194.2L524.7 187.5L525.1 183.0L525.4 194.6L525.8 184.6L526.1 160.1L526.4 150.2L526.8 148.1L527.1 148.9L527.5 149.0L527.8 147.5L528.2 145.6L528.5 144.0L528.9 145.5L529.2 152.7L529.6 163.2L529.9 169.1L530.3 164.8L530.6 159.9L530.9 163.3L531.3 171.1L531.6 160.9L532.0 145.5L532.3 135.5L532.7 130.1L533.0 127.1L533.4 125.1L533.7 122.8L534.1 121.0L534.4 121.3L534.8 123.8L535.1 127.6L535.5 133.3L535.8 143.7L536.1 162.9L536.5 187.8L536.8 169.7L537.2 153.3L537.5 143.6L537.9 134.2L538.2 124.7L538.6 116.0L538.9 109.1L539.3 104.4L539.6 102.0L540.0 101.1L540.3 100.7L540.7 100.6L541.0 100.8L541.3 101.7L541.7 104.2L542.0 109.2L542.4 117.8L542.7 130.8L543.1 150.5L543.4 180.0L543.8 164.9L544.1 135.9L544.5 118.3L544.8 106.7L545.2 98.0L545.5 90.6L545.8 83.9L546.2 78.0L546.5 72.7L546.9 68.0L547.2 63.9L547.6 60.4L547.9 57.3L548.3 54.6L548.6 52.3L549.0 50.2L549.3 48.4L549.7 46.9L550.0 45.6L550.4 44.6L550.7 43.7L551.0 43.0L551.4 42.5L551.7 42.1L552.1 41.9L552.4 41.9L552.8 42.0L553.1 42.3L553.5 42.8L553.8 43.3L554.2 44.0L554.5 44.8L554.9 45.7L555.2 46.7L555.6 47.9L555.9 49.1L556.2 50.5L556.6 52.0L556.9 53.6L557.3 55.4L557.6 57.2L558.0 59.2L558.3 61.3L558.7 63.5L559.0 65.8L559.4 68.3L559.7 70.8L560.1 73.5L560.4 76.4L560.8 79.4L561.1 82.5L561.4 85.7L561.8 89.1L562.1 92.6L562.5 96.3L562.8 100.1L563.2 103.9L563.5 107.8L563.9 111.8L564.2 116.0L564.6 120.4L564.9 125.0L565.3 130.2L565.6 135.7L565.9 141.6L566.3 147.8L566.6 154.6L567.0 161.9L567.3 169.5L567.7 177.1L568.0 183.9L568.4 188.3L568.7 189.2L569.1 187.1L569.4 183.2L569.8 179.0L570.1 175.0L570.5 171.5L570.8 168.4L571.1 165.9L571.5 163.9L571.8 162.3L572.2 161.1L572.5 160.2L572.9 159.6L573.2 159.3L573.6 150.3L573.9 150.5L574.3 150.8L574.6 151.3L575.0 154.0L575.3 157.1L575.7 160.5L576.0 164.3L576.3 168.6L576.7 173.6L577.0 179.1L577.4 185.5L577.7 192.9L578.1 201.1L578.4 209.2L578.8 214.0L579.1 211.8L579.5 203.8L579.8 194.3L580.2 185.4L580.5 177.2L580.8 169.9L581.2 163.4L581.5 157.6L581.9 152.3L582.2 147.4L582.6 143.0L582.9 138.8L583.3 135.0L583.6 131.3L584.0 127.9L584.3 124.7L584.7 121.7L585.0 118.9L585.4 116.2L585.7 113.7L586.0 111.2L586.4 109.0L586.7 106.8L587.1 104.8L587.4 103.4L587.8 102.0L588.1 100.8L588.5 99.6L588.8 98.5L589.2 97.6L589.5 96.7L589.9 95.9L590.2 96.8L590.6 97.9L590.9 99.5L591.2 101.3L591.6 103.1L591.9 105.0L592.3 107.0L592.6 109.0L593.0 111.1L593.3 113.3L593.7 115.6L594.0 118.0L594.4 119.1L594.7 120.4L595.1 121.8L595.4 123.5L595.7 125.4L596.1 127.8L596.4 130.3L596.8 133.4L597.1 137.0L597.5 141.1L597.8 145.8L598.2 151.2L598.5 157.3L598.9 164.3L599.2 172.1L599.6 180.8L599.9 188.8L600.3 197.2L600.6 204.8L600.9 210.6L601.3 214.9L601.6 217.0L602.0 217.0L602.3 216.6L602.7 215.2L603.0 214.8L603.4 215.2L603.7 216.5L604.1 219.5L604.4 221.9L604.8 221.9L605.1 221.9L605.5 221.9L605.8 221.9L606.1 221.9L606.5 221.9L606.8 221.9L607.2 221.9L607.5 218.6L607.9 208.1L608.2 200.1L608.6 194.0L608.9 189.9L609.3 186.8L609.6 184.2L610.0 182.7L610.3 181.0L610.7 179.3L611.0 177.5L611.3 176.1L611.7 175.5L612.0 175.9L612.4 177.9L612.7 181.3L613.1 185.0L613.4 188.3L613.8 188.7L614.1 185.9L614.5 182.0L614.8 178.6L615.2 176.8L615.5 176.3L615.8 177.3L616.2 179.2L616.5 181.5L616.9 183.2L617.2 183.8L617.6 183.7L617.9 183.6L618.3 183.5L618.6 183.1L619.0 182.9L619.3 183.0L619.7 184.0L620.0 185.5L620.4 187.7L620.7 191.0L621.0 195.5L621.4 201.2L621.7 208.8L622.1 219.2L622.4 221.9L622.8 221.9L623.1 221.9L623.5 221.9L623.8 221.9L624.2 221.9L624.5 215.2L624.9 208.6L625.2 201.3L625.6 193.4L625.9 186.7L626.2 181.7L626.6 179.3L626.9 179.1L627.3 180.9L627.6 185.0L628.0 189.8L628.3 193.4L628.7 193.4L629.0 189.3L629.4 181.8L629.7 173.6L630.1 166.3L630.4 160.5L630.7 156.6L631.1 154.0L631.4 152.9L631.8 152.4L632.1 152.0L632.5 151.8L632.8 152.0L633.2 152.6L633.5 153.7L633.9 155.6L634.2 158.8L634.6 163.6L634.9 170.9L635.3 182.4L635.6 204.1" stroke="#d8281e" stroke-width="1.35" stroke-dasharray="5 1.5 1 1.8"/>
<path d="M386.1 221.9L386.8 221.9L387.5 221.9L388.2 219.5L388.9 214.9L389.6 217.8L390.3 221.9L391.0 221.9L391.6 221.9L392.3 221.9L393.0 221.9L393.7 216.1L394.4 215.5L395.1 221.9L395.8 221.9L396.5 221.9L397.2 221.9L397.9 221.9L398.6 218.2L399.3 212.9L400.0 214.5L400.7 221.9L401.3 221.9L402.0 221.9L402.7 221.9L403.4 221.9L404.1 211.8L404.8 207.8L405.5 210.1L406.2 219.6L406.9 221.9L407.6 221.9L408.3 221.9L409.0 221.9L409.7 210.5L410.4 205.1L411.1 205.0L411.7 210.3L412.4 221.9L413.1 221.9L413.8 221.9L414.5 221.9L415.2 221.8L415.9 209.1L416.6 202.8L417.3 200.9L418.0 202.9L418.7 209.5L419.4 221.9L420.1 221.9L420.8 221.9L421.4 221.9L422.1 216.2L422.8 200.1L423.5 190.0L424.2 183.7L424.9 180.5L425.6 180.2L426.3 183.2L427.0 190.5L427.7 205.6L428.4 221.9L429.1 221.9L429.8 182.8L430.5 157.8L431.1 139.8L431.8 125.3L432.5 116.2L433.2 108.6L433.9 102.1L434.6 96.4L435.3 92.3L436.0 88.7L436.7 85.6L437.4 82.8L438.1 80.4L438.8 78.3L439.5 76.4L440.2 74.8L440.9 73.3L441.5 71.9L442.2 70.1L442.9 68.4L443.6 66.8L444.3 65.2L445.0 63.6L445.7 62.1L446.4 60.6L447.1 59.0L447.8 57.9L448.5 56.8L449.2 56.0L449.9 55.2L450.6 54.5L451.2 53.7L451.9 52.9L452.6 52.2L453.3 51.5L454.0 50.9L454.7 50.4L455.4 49.9L456.1 49.6L456.8 49.5L457.5 50.0L458.2 50.7L458.9 51.7L459.6 53.2L460.3 55.0L461.0 57.2L461.6 59.8L462.3 63.0L463.0 66.9L463.7 71.6L464.4 77.4L465.1 84.6L465.8 93.6L466.5 105.4L467.2 122.1L467.9 149.8L468.6 221.9L469.3 160.6L470.0 133.7L470.7 120.4L471.3 112.9L472.0 109.1L472.7 108.1L473.4 109.8L474.1 114.3L474.8 122.2L475.5 135.1L476.2 157.9L476.9 221.4L477.6 181.3L478.3 149.2L479.0 134.6L479.7 127.3L480.4 124.7L481.0 126.2L481.7 132.1L482.4 143.9L483.1 166.6L483.8 221.9L484.5 182.3L485.2 152.9L485.9 139.8L486.6 134.4L487.3 134.5L488.0 140.2L488.7 153.4L489.4 182.5L490.1 221.9L490.8 172.4L491.4 151.1L492.1 142.0L492.8 140.1L493.5 144.7L494.2 157.4L494.9 186.5L495.6 221.9L496.3 175.4L497.0 154.6L497.7 146.3L498.4 145.7L499.1 152.5L499.8 169.7L500.5 217.5L501.1 203.9L501.8 166.8L502.5 152.9L503.2 148.7L503.9 152.2L504.6 164.8L505.3 196.5L506.0 221.9L506.7 176.8L507.4 158.2L508.1 151.6L508.8 153.0L509.5 163.1L510.2 188.5L510.9 221.9L511.5 185.1L512.2 162.5L512.9 153.9L513.6 153.8L514.3 161.9L515.0 183.0L515.7 221.9L516.4 194.7L517.1 167.0L517.8 156.1L518.5 154.0L519.2 159.5L519.9 175.4L520.6 218.7L521.2 215.2L521.9 174.6L522.6 159.4L523.3 154.0L524.0 155.8L524.7 165.5L525.4 188.5L526.1 221.9L526.8 194.1L527.5 167.8L528.2 156.5L528.9 153.0L529.6 155.8L530.3 165.9L530.9 188.5L531.6 221.9L532.3 197.6L533.0 169.9L533.7 157.6L534.4 152.7L535.1 153.2L535.8 159.2L536.5 172.3L537.2 200.4L537.9 221.9L538.6 193.2L539.3 169.6L540.0 157.8L540.7 152.0L541.3 150.6L542.0 153.0L542.7 159.6L543.4 172.1L544.1 196.0L544.8 221.9L545.5 205.5L546.2 176.1L546.9 161.2L547.6 152.3L548.3 147.2L549.0 144.9L549.7 144.9L550.4 147.2L551.0 151.8L551.7 159.2L552.4 170.6L553.1 189.2L553.8 221.9L554.5 221.9L555.2 193.5L555.9 172.7L556.6 159.8L557.3 150.8L558.0 144.2L558.7 139.3L559.4 135.6L560.1 132.8L560.8 130.7L561.4 129.3L562.1 128.2L562.8 127.6L563.5 128.8L564.2 130.3L564.9 132.1L565.6 134.3L566.3 136.7L567.0 139.1L567.7 141.5L568.4 143.9L569.1 146.2L569.8 148.2L570.5 150.0L571.1 151.4L571.8 152.5L572.5 153.1L573.2 153.3L573.9 153.0L574.6 152.4L575.3 154.9L576.0 157.0L576.7 158.7L577.4 160.0L578.1 161.1L578.8 161.9L579.5 162.6L580.2 163.2L580.8 163.2L581.5 163.1L582.2 163.2L582.9 163.5L583.6 164.1L584.3 165.0L585.0 166.2L585.7 168.0L586.4 170.4L587.1 173.5L587.8 177.6L588.5 183.1L589.2 190.6L589.9 200.7L590.6 218.5L591.2 221.9L591.9 221.9L592.6 221.9L593.3 221.9L594.0 214.2L594.7 206.9L595.4 202.7L596.1 201.0L596.8 201.7L597.5 204.7L598.2 210.5L598.9 219.9L599.6 221.9L600.3 221.9L600.9 221.9L601.6 221.9L602.3 221.9L603.0 221.9L603.7 214.6L604.4 211.2L605.1 211.3L605.8 215.3L606.5 221.9L607.2 221.9L607.9 221.9L608.6 221.9L609.3 221.9L610.0 221.9L610.7 213.5L611.3 210.5L612.0 212.4L612.7 220.0L613.4 221.9L614.1 221.9L614.8 221.9L615.5 221.9L616.2 219.9L616.9 212.8L617.6 212.1L618.3 217.6L619.0 221.9L619.7 221.9L620.4 221.9L621.0 221.9L621.7 221.9L622.4 216.1L623.1 215.3L623.8 221.5L624.5 221.9L625.2 221.9L625.9 221.9L626.6 221.9L627.3 221.9L628.0 216.2L628.7 217.5L629.4 221.9L630.1 221.9L630.7 221.9L631.4 221.9L632.1 221.9L632.8 217.3L633.5 215.4L634.2 221.2L634.9 221.9L635.6 221.9" stroke="#0a0a0a" stroke-width="1.6" clip-path="url(#clipbf)"/>
<path d="M386.1 191.3L386.4 190.6L386.8 184.0L387.1 175.3L387.5 167.2L387.8 161.2L388.2 157.4L388.5 155.4L388.9 155.3L389.2 157.5L389.6 162.0L389.9 168.9L390.3 178.5L390.6 188.1L391.0 193.9L391.3 193.0L391.6 189.7L392.0 187.3L392.3 186.7L392.7 187.7L393.0 188.8L393.4 190.0L393.7 190.9L394.1 192.6L394.4 194.0L394.8 195.9L395.1 196.6L395.5 195.9L395.8 194.3L396.1 192.5L396.5 189.9L396.8 187.4L397.2 185.4L397.5 184.1L397.9 184.0L398.2 186.2L398.6 190.4L398.9 196.2L399.3 204.7L399.6 214.4L400.0 221.9L400.3 221.9L400.7 221.9L401.0 221.9L401.3 221.9L401.7 209.4L402.0 195.1L402.4 185.2L402.7 177.5L403.1 172.4L403.4 169.6L403.8 168.7L404.1 169.7L404.5 172.6L404.8 176.7L405.2 182.1L405.5 189.0L405.9 197.7L406.2 210.1L406.5 221.9L406.9 221.9L407.2 215.8L407.6 195.1L407.9 180.3L408.3 169.8L408.6 162.4L409.0 157.4L409.3 154.3L409.7 153.0L410.0 153.1L410.4 154.3L410.7 156.6L411.1 159.9L411.4 163.7L411.7 167.8L412.1 172.0L412.4 175.8L412.8 178.6L413.1 180.0L413.5 180.0L413.8 178.8L414.2 177.4L414.5 176.4L414.9 175.9L415.2 176.5L415.6 178.5L415.9 182.0L416.2 187.1L416.6 193.5L416.9 199.6L417.3 202.3L417.6 199.0L418.0 191.8L418.3 184.7L418.7 179.1L419.0 174.9L419.4 172.6L419.7 171.8L420.1 171.8L420.4 173.4L420.8 175.9L421.1 179.2L421.4 182.7L421.8 185.7L422.1 186.9L422.5 184.6L422.8 180.6L423.2 175.4L423.5 170.2L423.9 165.7L424.2 162.4L424.6 159.9L424.9 158.2L425.3 157.5L425.6 157.7L426.0 158.5L426.3 160.4L426.6 163.2L427.0 167.0L427.3 172.2L427.7 178.7L428.0 187.2L428.4 197.7L428.7 206.9L429.1 204.5L429.4 191.2L429.8 177.1L430.1 164.9L430.5 154.6L430.8 145.7L431.1 137.7L431.5 131.0L431.8 124.9L432.2 120.7L432.5 116.8L432.9 113.3L433.2 110.1L433.6 107.0L433.9 104.2L434.3 101.5L434.6 99.0L435.0 97.1L435.3 95.2L435.7 93.5L436.0 91.9L436.3 90.4L436.7 89.0L437.0 87.6L437.4 86.4L437.7 85.2L438.1 84.1L438.4 83.1L438.8 82.1L439.1 81.1L439.5 80.3L439.8 79.4L440.2 78.6L440.5 77.9L440.9 77.2L441.2 76.5L441.5 75.8L441.9 74.9L442.2 74.0L442.6 73.1L442.9 72.3L443.3 71.5L443.6 70.6L444.0 69.8L444.3 69.0L444.7 68.2L445.0 67.5L445.4 66.7L445.7 65.9L446.0 65.1L446.4 64.4L446.7 63.6L447.1 62.8L447.4 62.3L447.8 61.7L448.1 61.2L448.5 60.6L448.8 60.2L449.2 59.8L449.5 59.4L449.9 59.0L450.2 58.6L450.6 58.2L450.9 57.9L451.2 57.5L451.6 57.1L451.9 56.7L452.3 56.4L452.6 56.0L453.0 55.7L453.3 55.3L453.7 55.0L454.0 54.7L454.4 54.5L454.7 54.2L455.1 54.0L455.4 53.8L455.8 53.6L456.1 53.4L456.4 53.3L456.8 53.3L457.1 53.5L457.5 53.7L457.8 54.1L458.2 54.4L458.5 54.9L458.9 55.4L459.2 56.0L459.6 56.7L459.9 57.5L460.3 58.4L460.6 59.4L461.0 60.5L461.3 61.7L461.6 63.0L462.0 64.4L462.3 66.0L462.7 67.8L463.0 69.7L463.4 71.9L463.7 74.3L464.1 76.9L464.4 79.8L464.8 83.1L465.1 86.6L465.5 90.3L465.8 94.3L466.1 98.5L466.5 102.8L466.8 107.4L467.2 112.5L467.5 118.7L467.9 127.1L468.2 139.4L468.6 160.2L468.9 207.4L469.3 191.0L469.6 155.4L470.0 138.5L470.3 128.4L470.7 122.2L471.0 118.4L471.3 116.3L471.7 115.4L472.0 114.8L472.4 114.1L472.7 113.0L473.1 111.9L473.4 111.1L473.8 111.3L474.1 112.6L474.5 115.5L474.8 120.4L475.2 128.1L475.5 139.3L475.9 154.6L476.2 173.1L476.5 189.1L476.9 193.3L477.2 188.1L477.6 183.0L477.9 179.6L478.3 171.0L478.6 153.5L479.0 138.1L479.3 127.9L479.7 122.2L480.0 119.5L480.4 118.5L480.7 118.2L481.0 118.3L481.4 118.9L481.7 119.3L482.1 118.8L482.4 118.7L482.8 121.1L483.1 128.2L483.5 141.1L483.8 160.1L484.2 183.3L484.5 190.2L484.9 178.1L485.2 165.4L485.6 153.5L485.9 145.0L486.2 143.2L486.6 147.5L486.9 152.2L487.3 152.8L487.6 151.0L488.0 150.4L488.3 151.9L488.7 155.2L489.0 159.7L489.4 165.5L489.7 171.9L490.1 179.6L490.4 191.9L490.8 202.2L491.1 196.8L491.4 182.7L491.8 160.1L492.1 141.8L492.5 130.3L492.8 125.3L493.2 126.0L493.5 130.3L493.9 134.7L494.2 138.2L494.6 140.7L494.9 141.3L495.3 140.8L495.6 142.7L495.9 149.1L496.3 158.8L496.6 180.1L497.0 204.0L497.3 154.3L497.7 135.8L498.0 130.6L498.4 133.8L498.7 144.1L499.1 162.5L499.4 184.4L499.8 196.8L500.1 188.5L500.5 170.4L500.8 152.1L501.1 145.2L501.5 156.1L501.8 187.4L502.2 208.2L502.5 221.9L502.9 169.3L503.2 148.3L503.6 147.7L503.9 149.9L504.3 147.1L504.6 149.1L505.0 157.4L505.3 166.5L505.7 185.9L506.0 218.5L506.3 176.7L506.7 158.8L507.0 148.6L507.4 144.8L507.7 146.5L508.1 144.4L508.4 139.7L508.8 137.0L509.1 135.0L509.5 133.7L509.8 135.2L510.2 144.9L510.5 168.0L510.9 187.0L511.2 179.0L511.5 193.4L511.9 179.2L512.2 166.2L512.6 170.1L512.9 183.3L513.3 191.6L513.6 167.4L514.0 149.1L514.3 142.5L514.7 142.2L515.0 144.3L515.4 148.8L515.7 157.1L516.0 173.8L516.4 199.7L516.7 203.7L517.1 179.1L517.4 169.3L517.8 172.1L518.1 174.0L518.5 183.6L518.8 169.1L519.2 151.4L519.5 146.9L519.9 143.1L520.2 136.3L520.6 132.6L520.9 133.3L521.2 136.3L521.6 142.7L521.9 157.4L522.3 185.4L522.6 221.9L523.0 178.3L523.3 156.3L523.7 152.0L524.0 164.9L524.4 205.0L524.7 203.2L525.1 179.8L525.4 167.4L525.8 159.5L526.1 159.5L526.4 169.2L526.8 187.5L527.1 203.0L527.5 193.8L527.8 186.9L528.2 198.8L528.5 221.9L528.9 221.9L529.2 202.3L529.6 195.9L529.9 221.9L530.3 196.2L530.6 155.2L530.9 136.8L531.3 129.7L531.6 131.9L532.0 143.8L532.3 167.8L532.7 219.9L533.0 186.8L533.4 170.4L533.7 170.5L534.1 170.8L534.4 168.9L534.8 172.7L535.1 190.3L535.5 221.9L535.8 203.3L536.1 181.7L536.5 178.7L536.8 180.5L537.2 180.3L537.5 176.8L537.9 172.2L538.2 169.0L538.6 167.9L538.9 169.3L539.3 172.4L539.6 176.8L540.0 187.2L540.3 218.0L540.7 221.9L541.0 198.9L541.3 188.0L541.7 183.3L542.0 174.1L542.4 161.4L542.7 148.4L543.1 137.9L543.4 130.6L543.8 127.5L544.1 128.7L544.5 134.4L544.8 144.5L545.2 157.0L545.5 164.9L545.8 163.3L546.2 159.5L546.5 158.3L546.9 159.4L547.2 161.3L547.6 163.0L547.9 164.4L548.3 166.8L548.6 171.0L549.0 179.2L549.3 193.9L549.7 221.2L550.0 221.9L550.4 215.5L550.7 201.8L551.0 192.3L551.4 182.2L551.7 169.2L552.1 156.3L552.4 145.5L552.8 137.9L553.1 133.4L553.5 131.8L553.8 132.4L554.2 134.4L554.5 137.0L554.9 138.7L555.2 139.4L555.6 138.9L555.9 138.1L556.2 137.4L556.6 136.9L556.9 136.4L557.3 135.8L557.6 135.2L558.0 134.8L558.3 134.7L558.7 135.1L559.0 136.1L559.4 137.9L559.7 140.4L560.1 143.7L560.4 147.5L560.8 151.9L561.1 156.8L561.4 162.3L561.8 168.9L562.1 176.8L562.5 186.7L562.8 200.4L563.2 221.9L563.5 221.9L563.9 221.9L564.2 217.5L564.6 201.7L564.9 191.6L565.3 185.2L565.6 180.7L565.9 177.6L566.3 175.4L566.6 173.8L567.0 172.6L567.3 171.6L567.7 170.9L568.0 170.2L568.4 169.4L568.7 168.7L569.1 168.0L569.4 167.4L569.8 166.8L570.1 166.2L570.5 165.7L570.8 165.3L571.1 164.9L571.5 164.7L571.8 164.5L572.2 164.4L572.5 164.4L572.9 164.6L573.2 164.8L573.6 166.3L573.9 166.9L574.3 167.6L574.6 168.5L575.0 170.4L575.3 172.4L575.7 174.6L576.0 176.9L576.3 179.4L576.7 182.0L577.0 184.8L577.4 187.9L577.7 191.3L578.1 194.9L578.4 198.7L578.8 202.9L579.1 207.3L579.5 212.2L579.8 217.6L580.2 221.9L580.5 221.9L580.8 221.9L581.2 221.9L581.5 221.9L581.9 221.9L582.2 221.9L582.6 221.9L582.9 221.9L583.3 221.9L583.6 221.9L584.0 221.9L584.3 221.9L584.7 221.9L585.0 221.9L585.4 221.9L585.7 221.9L586.0 218.5L586.4 214.8L586.7 211.9L587.1 208.8L587.4 205.9L587.8 203.4L588.1 201.2L588.5 199.6L588.8 198.3L589.2 197.4L589.5 197.0L589.9 197.3L590.2 198.3L590.6 200.0L590.9 202.4L591.2 205.4L591.6 209.1L591.9 212.6L592.3 214.8L592.6 214.9L593.0 213.3L593.3 210.3L593.7 206.2L594.0 202.2L594.4 200.4L594.7 199.2L595.1 199.7L595.4 201.2L595.7 204.3L596.1 209.0L596.4 215.2L596.8 220.4L597.1 220.8L597.5 214.5L597.8 205.6L598.2 197.5L598.5 190.9L598.9 186.0L599.2 182.2L599.6 179.7L599.9 177.9L600.3 176.4L600.6 174.1L600.9 171.1L601.3 167.0L601.6 162.1L602.0 157.2L602.3 152.4L602.7 148.1L603.0 144.4L603.4 141.4L603.7 139.2L604.1 137.4L604.4 136.2L604.8 135.6L605.1 135.5L605.5 135.9L605.8 136.7L606.1 138.1L606.5 140.1L606.8 142.6L607.2 145.7L607.5 149.5L607.9 154.0L608.2 159.3L608.6 165.2L608.9 171.4L609.3 177.7L609.6 182.8L610.0 186.0L610.3 186.7L610.7 185.6L611.0 183.6L611.3 182.0L611.7 181.2L612.0 181.6L612.4 184.0L612.7 188.1L613.1 193.8L613.4 201.6L613.8 209.0L614.1 214.4L614.5 215.1L614.8 212.4L615.2 208.0L615.5 202.2L615.8 195.9L616.2 188.8L616.5 182.1L616.9 176.0L617.2 170.8L617.6 167.0L617.9 164.9L618.3 164.3L618.6 165.3L619.0 167.7L619.3 171.0L619.7 175.0L620.0 178.9L620.4 182.8L620.7 185.6L621.0 187.7L621.4 189.3L621.7 190.5L622.1 192.2L622.4 193.2L622.8 193.1L623.1 190.1L623.5 184.7L623.8 178.1L624.2 172.1L624.5 167.0L624.9 162.8L625.2 159.5L625.6 157.3L625.9 156.4L626.2 156.7L626.6 158.2L626.9 160.7L627.3 163.9L627.6 166.5L628.0 167.2L628.3 165.3L628.7 162.0L629.0 158.9L629.4 157.2L629.7 156.7L630.1 157.6L630.4 159.9L630.7 163.3L631.1 167.6L631.4 172.9L631.8 178.2L632.1 183.0L632.5 186.5L632.8 187.5L633.2 185.9L633.5 182.9L633.9 180.1L634.2 178.0L634.6 177.9L634.9 179.3L635.3 182.8L635.6 186.9" stroke="#d8281e" stroke-width="1.35" stroke-dasharray="5 1.5 1 1.8"/>
<path d="M386.1 221.9L386.8 221.9L387.5 221.9L388.2 217.0L388.9 218.9L389.6 221.9L390.3 221.9L391.0 221.9L391.6 221.9L392.3 221.9L393.0 219.1L393.7 217.8L394.4 221.9L395.1 221.9L395.8 221.9L396.5 221.9L397.2 221.9L397.9 221.9L398.6 216.9L399.3 217.7L400.0 221.9L400.7 221.9L401.3 221.9L402.0 221.9L402.7 221.9L403.4 219.2L404.1 213.7L404.8 214.5L405.5 221.6L406.2 221.9L406.9 221.9L407.6 221.9L408.3 221.9L409.0 221.7L409.7 214.0L410.4 212.1L411.1 215.1L411.7 221.9L412.4 221.9L413.1 221.9L413.8 221.9L414.5 221.9L415.2 221.9L415.9 217.0L416.6 212.9L417.3 212.8L418.0 216.2L418.7 221.9L419.4 221.9L420.1 221.9L420.8 221.9L421.4 221.9L422.1 221.9L422.8 221.5L423.5 212.1L424.2 206.3L424.9 203.3L425.6 202.6L426.3 204.3L427.0 208.5L427.7 215.8L428.4 221.9L429.1 221.9L429.8 221.9L430.5 221.9L431.1 220.2L431.8 202.4L432.5 192.2L433.2 184.8L433.9 179.2L434.6 175.1L435.3 172.0L436.0 169.6L436.7 167.9L437.4 166.6L438.1 165.7L438.8 165.2L439.5 164.9L440.2 164.8L440.9 164.8L441.5 164.9L442.2 164.3L442.9 163.6L443.6 162.7L444.3 161.6L445.0 160.3L445.7 158.6L446.4 156.5L447.1 154.0L447.8 154.7L448.5 154.9L449.2 154.7L449.9 154.1L450.6 153.0L451.2 151.6L451.9 149.8L452.6 147.8L453.3 145.5L454.0 143.2L454.7 140.7L455.4 138.3L456.1 136.0L456.8 133.8L457.5 131.9L458.2 130.4L458.9 129.2L459.6 129.9L460.3 130.9L461.0 132.4L461.6 134.4L462.3 137.2L463.0 140.9L463.7 145.9L464.4 152.4L465.1 161.4L465.8 174.3L466.5 195.1L467.2 221.9L467.9 221.9L468.6 190.8L469.3 172.3L470.0 160.8L470.7 153.4L471.3 148.8L472.0 146.6L472.7 146.5L473.4 148.9L474.1 154.0L474.8 162.8L475.5 177.7L476.2 207.1L476.9 221.9L477.6 197.6L478.3 173.7L479.0 161.3L479.7 154.6L480.4 152.2L481.0 153.7L481.7 159.4L482.4 171.2L483.1 194.9L483.8 221.9L484.5 202.0L485.2 174.0L485.9 160.8L486.6 154.8L487.3 154.3L488.0 159.2L488.7 171.6L489.4 199.2L490.1 221.9L490.8 190.1L491.4 167.5L492.1 157.4L492.8 154.6L493.5 158.1L494.2 169.4L494.9 195.7L495.6 221.9L496.3 190.1L497.0 167.1L497.7 157.4L498.4 155.6L499.1 161.0L499.8 176.3L500.5 216.8L501.1 220.3L501.8 177.0L502.5 161.1L503.2 155.6L503.9 157.7L504.6 168.6L505.3 196.3L506.0 221.9L506.7 184.6L507.4 163.5L508.1 155.4L508.8 155.5L509.5 164.1L510.2 186.7L510.9 221.9L511.5 190.1L512.2 164.7L512.9 154.6L513.6 153.2L514.3 159.9L515.0 178.5L515.7 221.9L516.4 198.1L517.1 166.5L517.8 153.8L518.5 150.4L519.2 154.5L519.9 168.5L520.6 205.5L521.2 219.2L521.9 171.3L522.6 154.1L523.3 147.3L524.0 147.9L524.7 156.2L525.4 177.0L526.1 221.9L526.8 188.1L527.5 159.0L528.2 146.3L528.9 141.8L529.6 143.6L530.3 152.7L530.9 174.0L531.6 221.9L532.3 184.1L533.0 155.0L533.7 141.8L534.4 136.1L535.1 136.0L535.8 141.5L536.5 154.5L537.2 184.0L537.9 221.9L538.6 168.2L539.3 145.5L540.0 133.7L540.7 127.9L541.3 126.4L542.0 128.9L542.7 136.3L543.4 150.8L544.1 182.9L544.8 221.9L545.5 159.5L546.2 136.8L546.9 123.8L547.6 115.9L548.3 111.4L549.0 109.7L549.7 110.7L550.4 114.5L551.0 122.0L551.7 135.3L552.4 162.2L553.1 221.9L553.8 151.4L554.5 123.8L555.2 107.1L555.9 95.2L556.6 86.2L557.3 79.0L558.0 73.3L558.7 68.5L559.4 64.7L560.1 61.4L560.8 58.8L561.4 56.6L562.1 54.8L562.8 53.3L563.5 52.3L564.2 51.6L564.9 51.1L565.6 51.3L566.3 51.6L567.0 52.0L567.7 52.5L568.4 53.2L569.1 53.8L569.8 54.6L570.5 55.3L571.1 56.1L571.8 56.9L572.5 57.7L573.2 58.4L573.9 59.5L574.6 60.7L575.3 62.2L576.0 63.7L576.7 65.2L577.4 66.8L578.1 68.4L578.8 70.0L579.5 71.7L580.2 73.5L580.8 74.9L581.5 76.4L582.2 78.1L582.9 79.9L583.6 82.0L584.3 84.4L585.0 87.2L585.7 90.3L586.4 93.9L587.1 98.1L587.8 103.7L588.5 110.2L589.2 117.9L589.9 127.0L590.6 141.4L591.2 159.4L591.9 184.5L592.6 221.9L593.3 221.9L594.0 207.2L594.7 192.2L595.4 184.8L596.1 181.9L596.8 182.1L597.5 185.3L598.2 191.6L598.9 201.8L599.6 217.8L600.3 221.9L600.9 221.9L601.6 221.9L602.3 221.9L603.0 211.1L603.7 204.5L604.4 202.6L605.1 204.4L605.8 210.7L606.5 221.9L607.2 221.9L607.9 221.9L608.6 221.9L609.3 221.9L610.0 211.9L610.7 206.7L611.3 206.7L612.0 212.1L612.7 221.9L613.4 221.9L614.1 221.9L614.8 221.9L615.5 221.2L616.2 211.7L616.9 209.4L617.6 213.4L618.3 221.9L619.0 221.9L619.7 221.9L620.4 221.9L621.0 221.9L621.7 216.2L622.4 214.5L623.1 219.8L623.8 221.9L624.5 221.9L625.2 221.9L625.9 221.9L626.6 221.9L627.3 217.2L628.0 217.7L628.7 221.9L629.4 221.9L630.1 221.9L630.7 221.9L631.4 221.9L632.1 219.5L632.8 216.6L633.5 221.2L634.2 221.9L634.9 221.9L635.6 221.9" stroke="#0a0a0a" stroke-width="1.6" clip-path="url(#clipbf)"/>
<path d="M386.1 221.9L386.4 201.8L386.8 184.6L387.1 172.4L387.5 163.5L387.8 157.7L388.2 154.5L388.5 153.3L388.9 153.9L389.2 156.1L389.6 159.9L389.9 165.3L390.3 173.2L390.6 185.1L391.0 203.7L391.3 221.9L391.6 221.9L392.0 210.8L392.3 192.7L392.7 183.5L393.0 179.0L393.4 177.7L393.7 178.7L394.1 181.2L394.4 185.4L394.8 189.6L395.1 193.9L395.5 197.0L395.8 198.9L396.1 201.3L396.5 204.8L396.8 211.8L397.2 221.9L397.5 221.9L397.9 221.9L398.2 221.9L398.6 215.1L398.9 207.7L399.3 205.7L399.6 208.3L400.0 216.9L400.3 221.9L400.7 221.9L401.0 221.9L401.3 201.2L401.7 185.9L402.0 175.2L402.4 167.9L402.7 162.7L403.1 159.4L403.4 157.7L403.8 157.1L404.1 157.5L404.5 158.4L404.8 159.7L405.2 161.2L405.5 162.7L405.9 164.8L406.2 167.3L406.5 170.9L406.9 175.8L407.2 182.6L407.6 191.8L407.9 203.2L408.3 215.1L408.6 221.0L409.0 218.3L409.3 213.7L409.7 210.7L410.0 212.4L410.4 216.6L410.7 219.9L411.1 213.9L411.4 200.3L411.7 186.2L412.1 174.9L412.4 165.9L412.8 159.3L413.1 154.2L413.5 150.6L413.8 148.2L414.2 147.0L414.5 147.0L414.9 147.9L415.2 149.8L415.6 152.8L415.9 157.0L416.2 162.3L416.6 168.8L416.9 176.8L417.3 186.3L417.6 196.8L418.0 206.1L418.3 208.8L418.7 204.8L419.0 198.1L419.4 191.3L419.7 185.7L420.1 181.1L420.4 177.3L420.8 174.3L421.1 172.1L421.4 170.5L421.8 169.1L422.1 168.1L422.5 167.2L422.8 166.8L423.2 166.4L423.5 166.1L423.9 165.9L424.2 165.5L424.6 165.0L424.9 164.5L425.3 163.9L425.6 163.1L426.0 162.2L426.3 161.2L426.6 160.1L427.0 159.0L427.3 158.0L427.7 156.9L428.0 155.9L428.4 154.8L428.7 153.7L429.1 152.7L429.4 151.7L429.8 150.7L430.1 149.7L430.5 148.7L430.8 147.8L431.1 146.9L431.5 146.2L431.8 145.6L432.2 145.3L432.5 145.0L432.9 144.8L433.2 144.7L433.6 144.8L433.9 145.0L434.3 145.4L434.6 145.9L435.0 146.5L435.3 147.2L435.7 148.1L436.0 149.1L436.3 150.3L436.7 151.7L437.0 153.3L437.4 155.0L437.7 156.9L438.1 158.9L438.4 161.0L438.8 163.3L439.1 165.8L439.5 168.3L439.8 170.9L440.2 173.5L440.5 176.3L440.9 179.0L441.2 181.6L441.5 184.0L441.9 186.0L442.2 187.6L442.6 188.8L442.9 189.3L443.3 189.2L443.6 188.4L444.0 187.1L444.3 185.4L444.7 183.4L445.0 181.3L445.4 179.2L445.7 177.0L446.0 174.8L446.4 172.7L446.7 170.7L447.1 168.9L447.4 168.0L447.8 167.2L448.1 166.6L448.5 145.0L448.8 144.8L449.2 144.6L449.5 144.4L449.9 144.3L450.2 144.2L450.6 144.2L450.9 144.3L451.2 144.4L451.6 144.6L451.9 145.0L452.3 145.4L452.6 146.0L453.0 146.8L453.3 147.8L453.7 149.1L454.0 150.9L454.4 153.2L454.7 156.2L455.1 159.9L455.4 164.7L455.8 170.8L456.1 178.9L456.4 189.8L456.8 205.1L457.1 221.9L457.5 221.9L457.8 217.0L458.2 198.0L458.5 184.7L458.9 175.2L459.2 168.5L459.6 163.0L459.9 158.5L460.3 155.2L460.6 152.4L461.0 150.4L461.3 149.1L461.6 148.1L462.0 147.6L462.3 147.3L462.7 147.1L463.0 146.9L463.4 146.7L463.7 146.2L464.1 145.1L464.4 143.3L464.8 140.6L465.1 137.3L465.5 134.0L465.8 131.0L466.1 128.7L466.5 127.6L466.8 127.7L467.2 129.1L467.5 131.4L467.9 133.9L468.2 135.8L468.6 136.5L468.9 136.2L469.3 135.8L469.6 136.9L470.0 141.4L470.3 151.9L470.7 172.7L471.0 207.4L471.3 207.1L471.7 201.9L472.0 221.9L472.4 206.4L472.7 178.8L473.1 167.8L473.4 168.1L473.8 180.9L474.1 219.2L474.5 193.5L474.8 165.1L475.2 152.5L475.5 146.5L475.9 143.5L476.2 143.1L476.5 144.8L476.9 148.8L477.2 154.8L477.6 165.6L477.9 183.3L478.3 197.3L478.6 190.3L479.0 182.7L479.3 183.0L479.7 192.5L480.0 196.2L480.4 177.8L480.7 163.8L481.0 154.4L481.4 145.9L481.7 140.9L482.1 142.6L482.4 150.0L482.8 160.1L483.1 169.7L483.5 170.8L483.8 163.4L484.2 159.7L484.5 162.2L484.9 169.8L485.2 177.0L485.6 183.1L485.9 191.9L486.2 190.0L486.6 179.7L486.9 173.8L487.3 173.6L487.6 177.9L488.0 187.5L488.3 188.6L488.7 170.3L489.0 156.6L489.4 150.6L489.7 148.8L490.1 147.8L490.4 145.8L490.8 141.6L491.1 138.4L491.4 138.7L491.8 142.0L492.1 146.0L492.5 147.4L492.8 146.7L493.2 151.8L493.5 171.0L493.9 208.7L494.2 181.5L494.6 159.7L494.9 149.9L495.3 149.6L495.6 155.2L495.9 158.5L496.3 149.3L496.6 138.1L497.0 130.7L497.3 129.1L497.7 134.8L498.0 147.2L498.4 167.1L498.7 209.1L499.1 203.2L499.4 180.6L499.8 179.2L500.1 182.6L500.5 177.0L500.8 163.4L501.1 151.7L501.5 146.1L501.8 145.5L502.2 148.6L502.5 157.9L502.9 173.4L503.2 184.9L503.6 189.3L503.9 181.4L504.3 178.1L504.6 178.6L505.0 174.1L505.3 171.4L505.7 173.7L506.0 174.5L506.3 167.8L506.7 156.5L507.0 148.7L507.4 150.5L507.7 157.9L508.1 164.7L508.4 174.1L508.8 203.2L509.1 202.0L509.5 156.9L509.8 136.8L510.2 128.4L510.5 125.4L510.9 125.0L511.2 127.5L511.5 130.2L511.9 131.8L512.2 136.0L512.6 146.0L512.9 161.8L513.3 178.3L513.6 190.2L514.0 191.5L514.3 186.5L514.7 187.7L515.0 215.8L515.4 219.7L515.7 179.4L516.0 176.2L516.4 179.4L516.7 165.4L517.1 157.0L517.4 154.7L517.8 153.2L518.1 149.3L518.5 145.8L518.8 142.9L519.2 139.7L519.5 138.7L519.9 140.0L520.2 142.2L520.6 151.8L520.9 163.1L521.2 153.9L521.6 151.7L521.9 157.6L522.3 162.2L522.6 163.9L523.0 164.6L523.3 157.1L523.7 145.9L524.0 143.1L524.4 158.3L524.7 221.9L525.1 185.3L525.4 173.7L525.8 181.1L526.1 180.7L526.4 155.6L526.8 139.2L527.1 134.5L527.5 137.2L527.8 142.2L528.2 149.7L528.5 162.5L528.9 175.8L529.2 185.5L529.6 200.5L529.9 221.9L530.3 219.5L530.6 199.6L530.9 188.5L531.3 183.4L531.6 162.0L532.0 143.6L532.3 135.4L532.7 134.9L533.0 137.5L533.4 139.9L533.7 140.2L534.1 139.5L534.4 139.7L534.8 142.6L535.1 147.5L535.5 154.7L535.8 171.0L536.1 220.1L536.5 198.5L536.8 166.4L537.2 152.0L537.5 145.2L537.9 143.0L538.2 144.3L538.6 145.0L538.9 141.3L539.3 134.8L539.6 129.2L540.0 125.6L540.3 124.1L540.7 123.9L541.0 125.5L541.3 129.2L541.7 136.1L542.0 147.6L542.4 163.8L542.7 179.9L543.1 183.4L543.4 184.1L543.8 195.4L544.1 205.8L544.5 179.7L544.8 159.4L545.2 146.9L545.5 138.6L545.8 132.4L546.2 127.3L546.5 123.1L546.9 119.7L547.2 117.3L547.6 115.7L547.9 114.6L548.3 113.9L548.6 113.8L549.0 114.5L549.3 116.1L549.7 118.5L550.0 121.9L550.4 126.5L550.7 132.6L551.0 140.8L551.4 151.4L551.7 165.9L552.1 185.0L552.4 194.9L552.8 175.8L553.1 156.8L553.5 142.0L553.8 130.4L554.2 120.9L554.5 113.2L554.9 106.6L555.2 101.0L555.6 96.1L555.9 91.8L556.2 88.0L556.6 84.5L556.9 81.5L557.3 78.7L557.6 76.2L558.0 73.9L558.3 71.7L558.7 69.8L559.0 67.9L559.4 66.3L559.7 64.7L560.1 63.4L560.4 62.1L560.8 60.9L561.1 59.9L561.4 58.9L561.8 58.1L562.1 57.3L562.5 56.6L562.8 56.0L563.2 55.5L563.5 55.1L563.9 54.7L564.2 54.5L564.6 54.2L564.9 54.0L565.3 54.1L565.6 54.2L565.9 54.4L566.3 54.5L566.6 54.7L567.0 55.0L567.3 55.2L567.7 55.5L568.0 55.8L568.4 56.1L568.7 56.5L569.1 56.8L569.4 57.2L569.8 57.6L570.1 57.9L570.5 58.3L570.8 58.7L571.1 59.1L571.5 59.5L571.8 59.9L572.2 60.3L572.5 60.6L572.9 61.0L573.2 61.4L573.6 62.2L573.9 62.8L574.3 63.4L574.6 63.9L575.0 64.7L575.3 65.5L575.7 66.3L576.0 67.0L576.3 67.8L576.7 68.6L577.0 69.4L577.4 70.2L577.7 71.0L578.1 71.9L578.4 72.7L578.8 73.6L579.1 74.5L579.5 75.4L579.8 76.3L580.2 77.3L580.5 78.0L580.8 78.7L581.2 79.5L581.5 80.3L581.9 81.1L582.2 82.0L582.6 83.0L582.9 84.0L583.3 85.1L583.6 86.2L584.0 87.5L584.3 88.8L584.7 90.1L585.0 91.6L585.4 93.2L585.7 94.8L586.0 96.6L586.4 98.5L586.7 100.5L587.1 102.7L587.4 105.4L587.8 108.3L588.1 111.4L588.5 114.6L588.8 118.1L589.2 121.7L589.5 125.6L589.9 129.7L590.2 135.9L590.6 142.4L590.9 150.0L591.2 158.2L591.6 167.4L591.9 178.1L592.3 190.8L592.6 206.7L593.0 221.9L593.3 221.9L593.7 221.9L594.0 221.9L594.4 221.9L594.7 215.4L595.1 209.5L595.4 206.4L595.7 204.5L596.1 204.2L596.4 204.4L596.8 205.3L597.1 206.4L597.5 208.1L597.8 208.7L598.2 209.0L598.5 207.7L598.9 204.7L599.2 201.4L599.6 197.6L599.9 193.9L600.3 189.7L600.6 186.0L600.9 182.2L601.3 178.6L601.6 175.4L602.0 172.2L602.3 168.9L602.7 165.6L603.0 162.3L603.4 159.1L603.7 156.2L604.1 153.5L604.4 151.2L604.8 149.4L605.1 148.1L605.5 147.5L605.8 147.5L606.1 148.6L606.5 150.5L606.8 153.3L607.2 157.1L607.5 161.3L607.9 166.3L608.2 171.0L608.6 175.2L608.9 178.4L609.3 180.3L609.6 181.5L610.0 182.5L610.3 183.5L610.7 184.7L611.0 185.9L611.3 187.3L611.7 189.6L612.0 192.1L612.4 194.8L612.7 196.5L613.1 197.2L613.4 196.5L613.8 195.0L614.1 193.7L614.5 193.3L614.8 194.5L615.2 197.9L615.5 203.8L615.8 210.9L616.2 215.8L616.5 212.9L616.9 202.6L617.2 192.0L617.6 183.2L617.9 176.1L618.3 170.8L618.6 166.3L619.0 162.7L619.3 159.7L619.7 157.1L620.0 155.2L620.4 153.9L620.7 153.3L621.0 153.8L621.4 156.0L621.7 159.6L622.1 165.2L622.4 172.7L622.8 182.2L623.1 192.6L623.5 199.0L623.8 197.0L624.2 191.3L624.5 185.9L624.9 182.6L625.2 181.4L625.6 181.2L625.9 181.9L626.2 182.0L626.6 182.2L626.9 182.0L627.3 181.7L627.6 182.1L628.0 183.2L628.3 184.1L628.7 184.6L629.0 183.6L629.4 180.6L629.7 177.0L630.1 173.8L630.4 171.7L630.7 171.1L631.1 172.4L631.4 175.6L631.8 180.8L632.1 188.3L632.5 197.4L632.8 209.4L633.2 221.9L633.5 221.9L633.9 221.9L634.2 221.9L634.6 221.9L634.9 221.9L635.3 221.9L635.6 220.7" stroke="#d8281e" stroke-width="1.35" stroke-dasharray="5 1.5 1 1.8"/>
</g>
<rect x="386.1" y="29.2" width="249.5" height="185.7" fill="none" stroke="#2a2a2a" stroke-width="1"/>
<path d="M386.1 214.9v3.2 M386.1 29.2v-3.2 M396.5 214.9v1.8 M396.5 29.2v-1.8 M406.9 214.9v3.2 M406.9 29.2v-3.2 M417.3 214.9v1.8 M417.3 29.2v-1.8 M427.7 214.9v3.2 M427.7 29.2v-3.2 M438.1 214.9v1.8 M438.1 29.2v-1.8 M448.5 214.9v3.2 M448.5 29.2v-3.2 M458.9 214.9v1.8 M458.9 29.2v-1.8 M469.3 214.9v3.2 M469.3 29.2v-3.2 M479.7 214.9v1.8 M479.7 29.2v-1.8 M490.1 214.9v3.2 M490.1 29.2v-3.2 M500.5 214.9v1.8 M500.5 29.2v-1.8 M510.9 214.9v3.2 M510.9 29.2v-3.2 M521.2 214.9v1.8 M521.2 29.2v-1.8 M531.6 214.9v3.2 M531.6 29.2v-3.2 M542 214.9v1.8 M542 29.2v-1.8 M552.4 214.9v3.2 M552.4 29.2v-3.2 M562.8 214.9v1.8 M562.8 29.2v-1.8 M573.2 214.9v3.2 M573.2 29.2v-3.2 M583.6 214.9v1.8 M583.6 29.2v-1.8 M594 214.9v3.2 M594 29.2v-3.2 M604.4 214.9v1.8 M604.4 29.2v-1.8 M614.8 214.9v3.2 M614.8 29.2v-3.2 M625.2 214.9v1.8 M625.2 29.2v-1.8 M635.6 214.9v3.2 M635.6 29.2v-3.2 M386.1 29.2h-3.6 M386.1 52.4h-1.8 M386.1 75.6h-3.6 M386.1 98.8h-1.8 M386.1 122.1h-3.6 M386.1 145.3h-1.8 M386.1 168.5h-3.6 M386.1 191.7h-1.8 M386.1 214.9h-3.6" stroke="#2a2a2a" stroke-width="1" fill="none"/>
<g font-size="11.2" fill="#000" stroke="#000" stroke-width="0.0"><text x="386.4" y="229.2" text-anchor="middle">-180</text><text x="407.2" y="229.2" text-anchor="middle">-150</text><text x="428" y="229.2" text-anchor="middle">-120</text><text x="448.8" y="229.2" text-anchor="middle">-90</text><text x="469.6" y="229.2" text-anchor="middle">-60</text><text x="490.4" y="229.2" text-anchor="middle">-30</text><text x="511.2" y="229.2" text-anchor="middle">0</text><text x="531.9" y="229.2" text-anchor="middle">30</text><text x="552.7" y="229.2" text-anchor="middle">60</text><text x="573.5" y="229.2" text-anchor="middle">90</text><text x="594.3" y="229.2" text-anchor="middle">120</text><text x="615.1" y="229.2" text-anchor="middle">150</text><text x="635.9" y="229.2" text-anchor="middle">180</text><text x="380.3" y="32.9" text-anchor="end">0</text><text x="380.3" y="79.3" text-anchor="end">-10</text><text x="380.3" y="125.8" text-anchor="end">-20</text><text x="380.3" y="172.2" text-anchor="end">-30</text><text x="380.3" y="218.6" text-anchor="end">-40</text></g>
<text x="444.9" y="252.2" font-size="14.8" fill="#000" stroke="#000" stroke-width="0.15">Scanning angle (deg)</text>
<text transform="translate(351.3,215) rotate(-90)" font-size="14.8" fill="#000" stroke="#000" stroke-width="0.15">Normalized far-field pattern (dB)</text>
<text x="37.3" y="10.6" font-size="10.5" fill="#000" stroke="#000" stroke-width="0.0">Minimum scanning angle</text>
<text x="222.4" y="10.4" font-size="10.6" fill="#000" stroke="#000" stroke-width="0.0">Maximum scanning angle</text>
<path d="M93.2 10.8L111.5 42.0" stroke="#1a1a1a" stroke-width="0.8" fill="none"/><path d="M113.9 46.1L110.4 42.6L112.6 41.3Z" fill="#1a1a1a"/>
<path d="M251.9 11.4L234.3 43.2" stroke="#1a1a1a" stroke-width="0.8" fill="none"/><path d="M232.0 47.4L233.2 42.6L235.4 43.8Z" fill="#1a1a1a"/>
<text x="124" y="25.6" font-size="9.5" fill="#000" stroke="#000" stroke-width="0.0">-60°</text>
<text x="145.3" y="25.6" font-size="9.5" fill="#000" stroke="#000" stroke-width="0.0">-30°</text>
<text x="170.7" y="25.6" font-size="9.5" fill="#000" stroke="#000" stroke-width="0.0">0°</text>
<text x="189.3" y="25.6" font-size="9.5" fill="#000" stroke="#000" stroke-width="0.0">30°</text>
<text x="208.5" y="25.6" font-size="9.5" fill="#000" stroke="#000" stroke-width="0.0">60°</text>
<text x="58.8" y="66.8" font-size="20.6" fill="#000" stroke="#000" stroke-width="0.0">(a)</text>
<path d="M238.8 45.9H264.6" stroke="#000" stroke-width="1.6"/>
<path d="M238.4 60H264.6" stroke="#d8281e" stroke-width="1.3" stroke-dasharray="5.2 1.5 1 1.6"/>
<text x="267.5" y="50.3" font-size="10.5" fill="#000" stroke="#000" stroke-width="0.0">Sim.</text>
<text x="267.5" y="63.9" font-size="10.5" fill="#000" stroke="#000" stroke-width="0.0">Meas.</text>
<text x="374.9" y="14.5" font-size="10.5" fill="#000" stroke="#000" stroke-width="0.0">Minimum scanning angle</text>
<text x="563.2" y="15.7" font-size="10.6" fill="#000" stroke="#000" stroke-width="0.0">Maximum scanning angle</text>
<path d="M438.6 16.3L448.6 45.5" stroke="#1a1a1a" stroke-width="0.8" fill="none"/><path d="M450.2 50.0L447.5 45.9L449.8 45.1Z" fill="#1a1a1a"/>
<path d="M584.8 17.1L571.8 46.1" stroke="#1a1a1a" stroke-width="0.8" fill="none"/><path d="M569.8 50.5L570.6 45.6L572.9 46.6Z" fill="#1a1a1a"/>
<text x="461.8" y="25.6" font-size="9.5" fill="#000" stroke="#000" stroke-width="0.0">-60°</text>
<text x="483.8" y="25.6" font-size="9.5" fill="#000" stroke="#000" stroke-width="0.0">-30°</text>
<text x="508.5" y="25.6" font-size="9.5" fill="#000" stroke="#000" stroke-width="0.0">0°</text>
<text x="527.2" y="25.6" font-size="9.5" fill="#000" stroke="#000" stroke-width="0.0">30°</text>
<text x="547.5" y="25.6" font-size="9.5" fill="#000" stroke="#000" stroke-width="0.0">60°</text>
<text x="399.9" y="68.0" font-size="20.6" fill="#000" stroke="#000" stroke-width="0.0">(b)</text>
<path d="M578.4 48.8H604.2" stroke="#000" stroke-width="1.6"/>
<path d="M578 62.6H604.2" stroke="#d8281e" stroke-width="1.3" stroke-dasharray="5.2 1.5 1 1.6"/>
<text x="606.5" y="52.9" font-size="10.5" fill="#000" stroke="#000" stroke-width="0.0">Sim.</text>
<text x="606.5" y="66.4" font-size="10.5" fill="#000" stroke="#000" stroke-width="0.0">Meas.</text>
</svg>
</body></html>
